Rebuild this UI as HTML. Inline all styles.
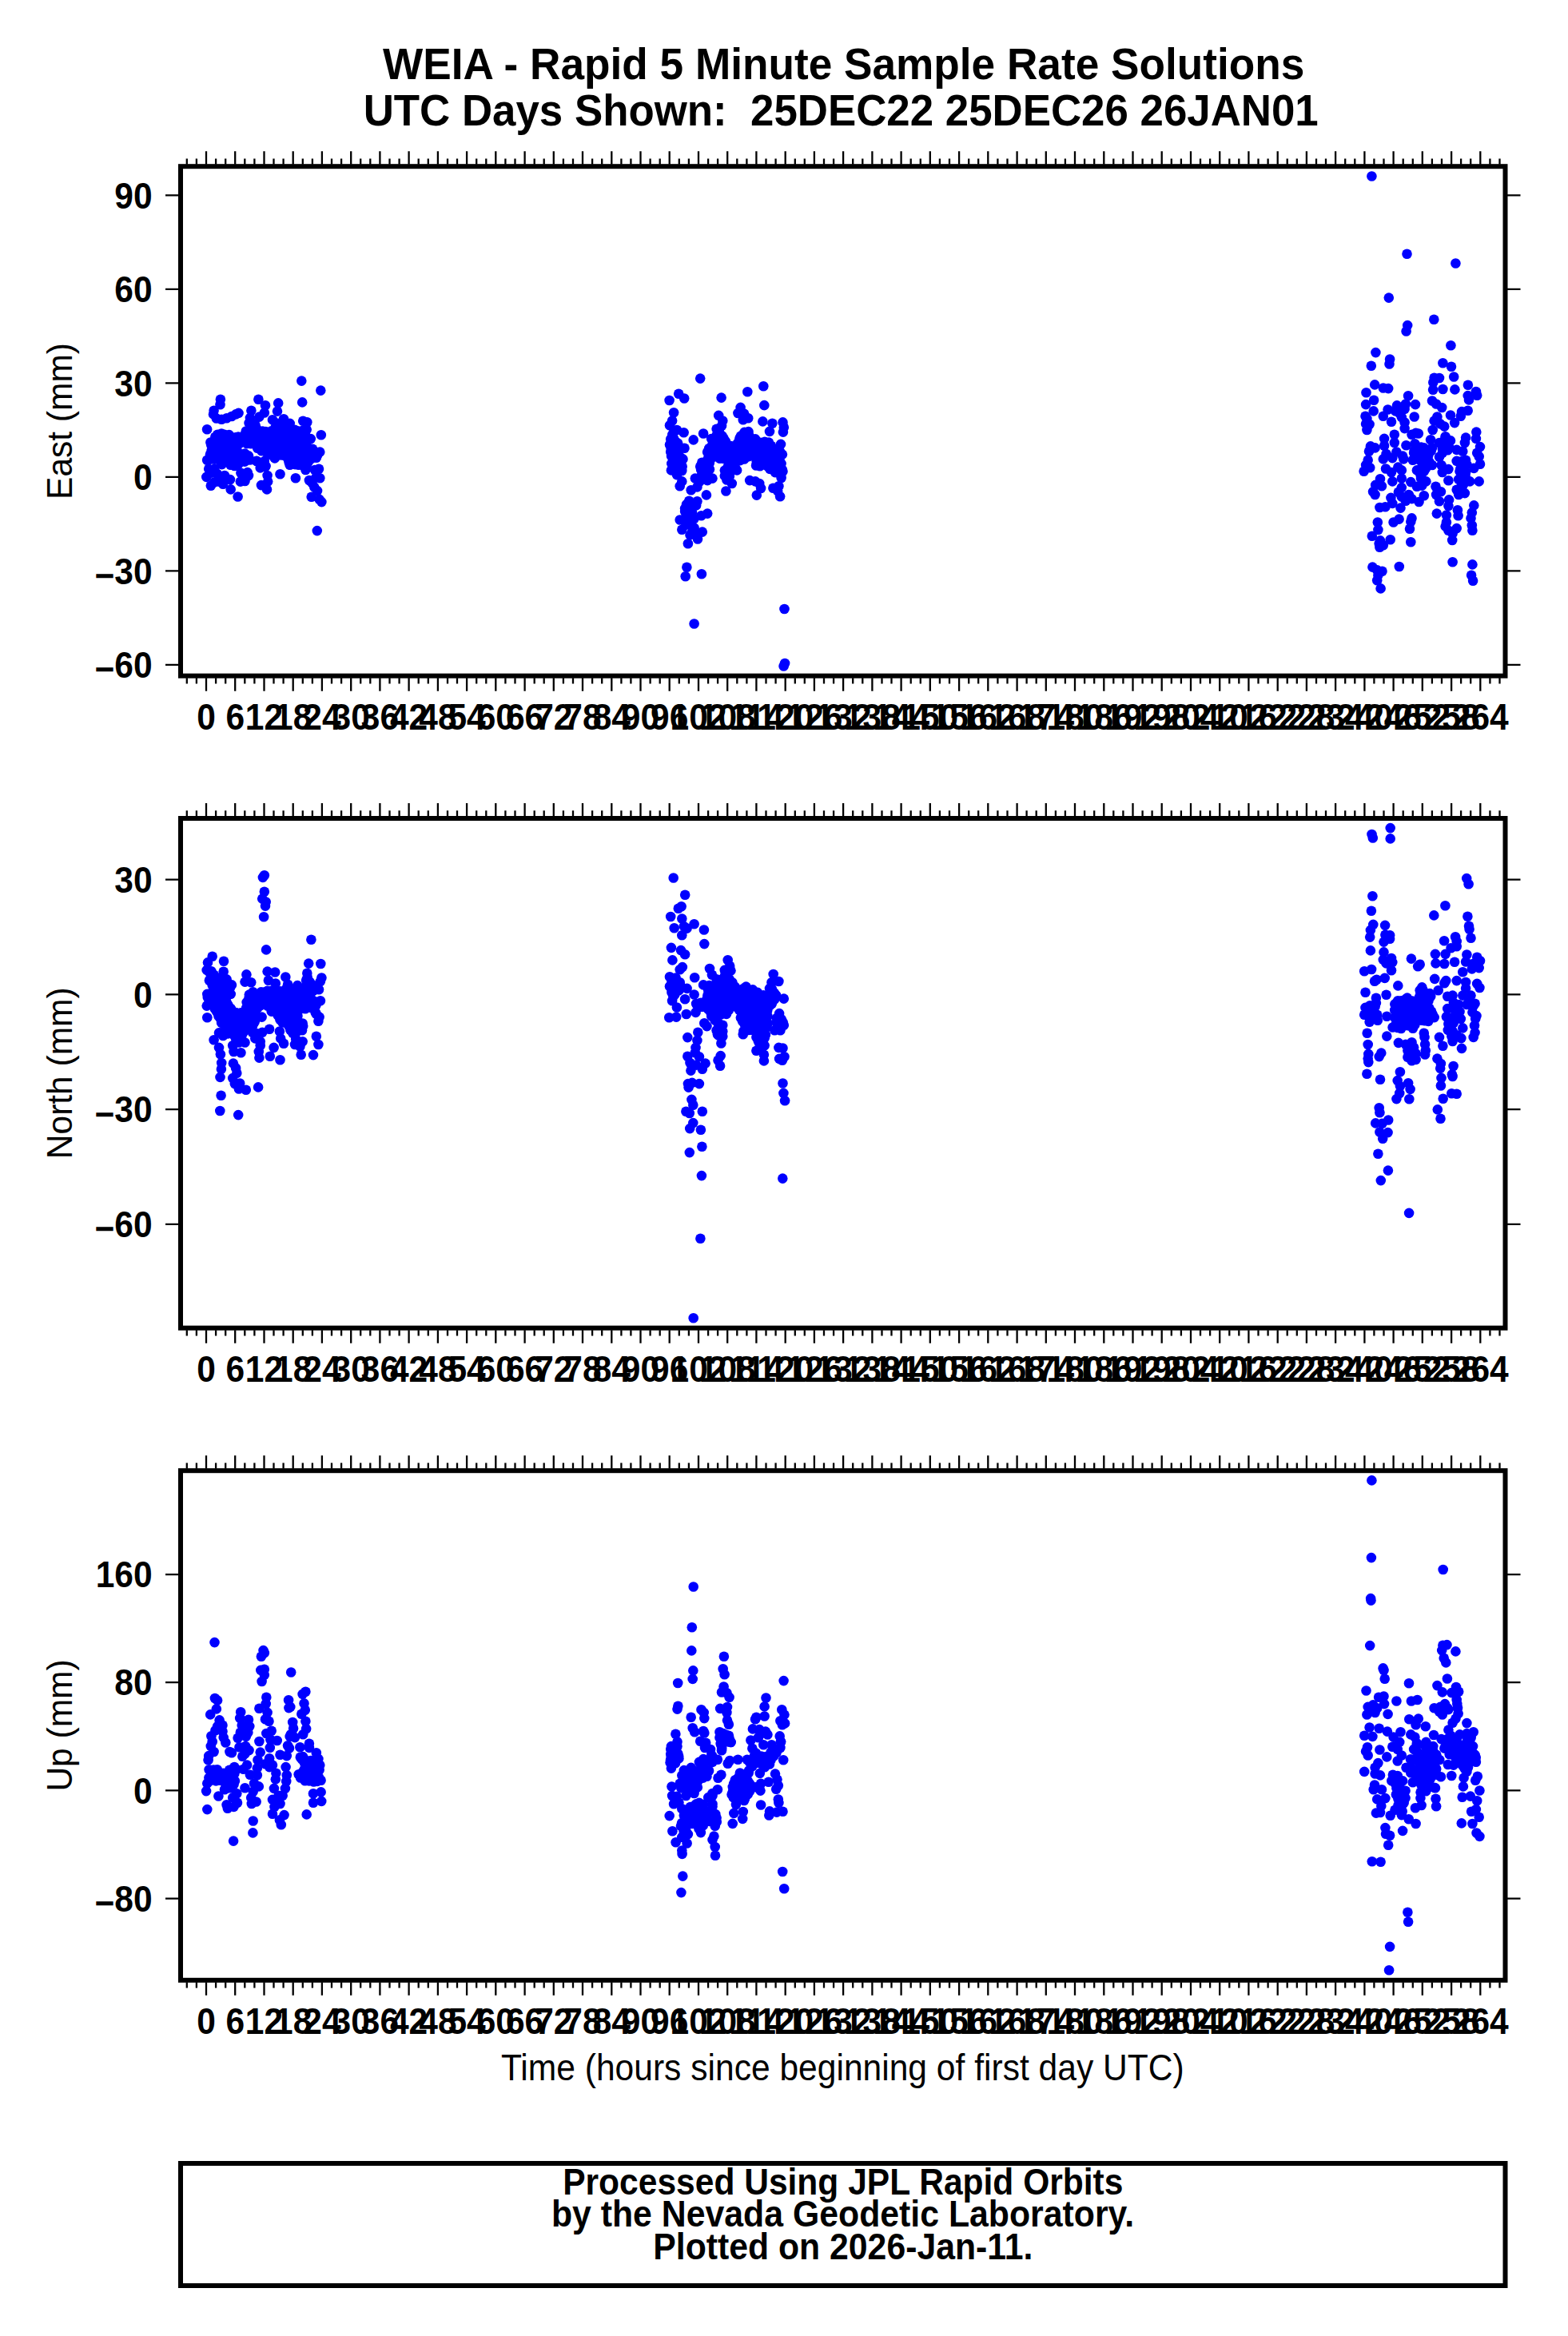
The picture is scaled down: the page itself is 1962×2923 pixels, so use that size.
<!DOCTYPE html>
<html lang="en"><head><meta charset="utf-8"><title>WEIA - Rapid 5 Minute Sample Rate Solutions</title>
<style>html,body{margin:0;padding:0;background:#fff}svg{display:block}text{white-space:pre;font-family:"Liberation Sans",sans-serif;fill:#000}.b{font-weight:bold}.a{font-weight:bold;font-size:42.5px}.l{font-size:42.5px}.t{font-weight:bold;font-size:53.0px}.f{fill:none;stroke:#000;stroke-width:6.0;stroke-linejoin:miter}.k{fill:none;stroke:#000;stroke-width:2.3}.d{fill:none;stroke:#00f;stroke-width:12.6;stroke-linecap:round;stroke-linejoin:round}</style></head><body>
<svg width="1962" height="2923" viewBox="0 0 1962 2923">
<rect width="1962" height="2923" fill="#fff"/>
<text class="t" style="font-size:53.2px" text-anchor="middle" transform="translate(1055.6 98.9) scale(1 1.06)">WEIA - Rapid 5 Minute Sample Rate Solutions</text>
<text class="t" style="font-size:52.85px" text-anchor="middle" transform="translate(1052.2 156.7) scale(1 1.06)">UTC Days Shown:  25DEC22 25DEC26 26JAN01</text>
<g fill="#00f"><circle cx="377.3" cy="476.6" r="6.3"/><circle cx="401.3" cy="488.6" r="6.3"/><circle cx="378.2" cy="503.4" r="6.3"/><circle cx="401.8" cy="544.3" r="6.3"/><circle cx="396.8" cy="664.1" r="6.3"/><circle cx="275.9" cy="499.7" r="6.3"/><circle cx="275.5" cy="506.3" r="6.3"/><circle cx="267.6" cy="513.7" r="6.3"/><circle cx="267.0" cy="518.4" r="6.3"/><circle cx="270.8" cy="523.5" r="6.3"/><circle cx="277.2" cy="524.8" r="6.3"/><circle cx="283.6" cy="523.2" r="6.3"/><circle cx="289.9" cy="521.0" r="6.3"/><circle cx="295.1" cy="518.4" r="6.3"/><circle cx="298.5" cy="516.9" r="6.3"/><circle cx="259.1" cy="537.3" r="6.3"/><circle cx="323.4" cy="499.7" r="6.3"/><circle cx="332.0" cy="507.3" r="6.3"/><circle cx="330.8" cy="516.5" r="6.3"/><circle cx="324.4" cy="521.6" r="6.3"/><circle cx="314.4" cy="513.7" r="6.3"/><circle cx="312.9" cy="522.9" r="6.3"/><circle cx="311.6" cy="529.3" r="6.3"/><circle cx="348.2" cy="504.4" r="6.3"/><circle cx="347.0" cy="514.6" r="6.3"/><circle cx="341.0" cy="525.2" r="6.3"/><circle cx="355.0" cy="524.2" r="6.3"/><circle cx="362.7" cy="529.9" r="6.3"/><circle cx="379.2" cy="526.7" r="6.3"/><circle cx="384.3" cy="528.3" r="6.3"/><circle cx="383.7" cy="537.6" r="6.3"/><circle cx="388.8" cy="549.1" r="6.3"/><circle cx="263.4" cy="553.5" r="6.3"/><circle cx="262.9" cy="568.8" r="6.3"/><circle cx="259.1" cy="575.8" r="6.3"/><circle cx="261.2" cy="586.7" r="6.3"/><circle cx="263.8" cy="591.8" r="6.3"/><circle cx="258.3" cy="596.9" r="6.3"/><circle cx="263.8" cy="607.7" r="6.3"/><circle cx="268.3" cy="603.3" r="6.3"/><circle cx="274.0" cy="602.6" r="6.3"/><circle cx="279.1" cy="605.8" r="6.3"/><circle cx="288.7" cy="612.4" r="6.3"/><circle cx="297.6" cy="621.5" r="6.3"/><circle cx="281.0" cy="595.0" r="6.3"/><circle cx="288.0" cy="600.1" r="6.3"/><circle cx="300.8" cy="602.6" r="6.3"/><circle cx="306.5" cy="602.0" r="6.3"/><circle cx="309.7" cy="591.1" r="6.3"/><circle cx="311.0" cy="595.0" r="6.3"/><circle cx="350.5" cy="593.3" r="6.3"/><circle cx="369.9" cy="598.2" r="6.3"/><circle cx="326.9" cy="607.1" r="6.3"/><circle cx="334.0" cy="612.4" r="6.3"/><circle cx="335.2" cy="602.6" r="6.3"/><circle cx="334.6" cy="595.0" r="6.3"/><circle cx="332.0" cy="584.1" r="6.3"/><circle cx="325.7" cy="585.4" r="6.3"/><circle cx="321.2" cy="577.1" r="6.3"/><circle cx="330.8" cy="577.1" r="6.3"/><circle cx="400.3" cy="565.6" r="6.3"/><circle cx="395.8" cy="572.7" r="6.3"/><circle cx="399.0" cy="586.7" r="6.3"/><circle cx="393.9" cy="588.0" r="6.3"/><circle cx="400.3" cy="598.2" r="6.3"/><circle cx="395.8" cy="596.9" r="6.3"/><circle cx="386.9" cy="601.0" r="6.3"/><circle cx="390.7" cy="604.5" r="6.3"/><circle cx="393.3" cy="609.6" r="6.3"/><circle cx="397.1" cy="614.1" r="6.3"/><circle cx="389.7" cy="621.8" r="6.3"/><circle cx="399.6" cy="624.9" r="6.3"/><circle cx="402.4" cy="628.1" r="6.3"/><circle cx="382.4" cy="588.0" r="6.3"/><circle cx="319.0" cy="530.6" r="6.3"/><circle cx="347.6" cy="529.8" r="6.3"/><circle cx="354.3" cy="529.2" r="6.3"/><circle cx="357.9" cy="529.3" r="6.3"/><circle cx="315.2" cy="534.8" r="6.3"/><circle cx="320.0" cy="533.7" r="6.3"/><circle cx="345.0" cy="534.0" r="6.3"/><circle cx="350.4" cy="535.2" r="6.3"/><circle cx="355.3" cy="534.8" r="6.3"/><circle cx="360.5" cy="535.8" r="6.3"/><circle cx="307.8" cy="539.5" r="6.3"/><circle cx="314.7" cy="538.7" r="6.3"/><circle cx="318.8" cy="539.3" r="6.3"/><circle cx="324.3" cy="539.3" r="6.3"/><circle cx="328.6" cy="539.5" r="6.3"/><circle cx="332.5" cy="540.0" r="6.3"/><circle cx="339.6" cy="539.4" r="6.3"/><circle cx="342.9" cy="539.3" r="6.3"/><circle cx="347.5" cy="538.7" r="6.3"/><circle cx="352.9" cy="539.1" r="6.3"/><circle cx="358.0" cy="538.0" r="6.3"/><circle cx="364.3" cy="538.4" r="6.3"/><circle cx="368.7" cy="537.8" r="6.3"/><circle cx="373.7" cy="539.6" r="6.3"/><circle cx="379.3" cy="538.5" r="6.3"/><circle cx="272.2" cy="543.8" r="6.3"/><circle cx="277.1" cy="542.5" r="6.3"/><circle cx="280.9" cy="543.8" r="6.3"/><circle cx="286.7" cy="544.1" r="6.3"/><circle cx="306.4" cy="543.9" r="6.3"/><circle cx="310.4" cy="543.6" r="6.3"/><circle cx="316.7" cy="542.5" r="6.3"/><circle cx="319.9" cy="542.5" r="6.3"/><circle cx="326.5" cy="544.3" r="6.3"/><circle cx="330.8" cy="542.8" r="6.3"/><circle cx="336.4" cy="542.8" r="6.3"/><circle cx="340.0" cy="542.7" r="6.3"/><circle cx="346.3" cy="543.2" r="6.3"/><circle cx="350.7" cy="543.0" r="6.3"/><circle cx="355.2" cy="543.9" r="6.3"/><circle cx="360.8" cy="543.7" r="6.3"/><circle cx="366.3" cy="544.2" r="6.3"/><circle cx="371.8" cy="542.4" r="6.3"/><circle cx="376.0" cy="542.1" r="6.3"/><circle cx="381.7" cy="542.6" r="6.3"/><circle cx="269.3" cy="546.7" r="6.3"/><circle cx="272.6" cy="548.0" r="6.3"/><circle cx="277.4" cy="547.2" r="6.3"/><circle cx="283.8" cy="548.0" r="6.3"/><circle cx="288.9" cy="548.7" r="6.3"/><circle cx="294.7" cy="547.2" r="6.3"/><circle cx="298.2" cy="546.5" r="6.3"/><circle cx="302.7" cy="547.5" r="6.3"/><circle cx="308.9" cy="547.0" r="6.3"/><circle cx="312.6" cy="548.1" r="6.3"/><circle cx="319.0" cy="547.6" r="6.3"/><circle cx="322.7" cy="546.9" r="6.3"/><circle cx="328.0" cy="548.5" r="6.3"/><circle cx="334.6" cy="546.5" r="6.3"/><circle cx="339.6" cy="548.6" r="6.3"/><circle cx="344.3" cy="547.0" r="6.3"/><circle cx="349.7" cy="548.4" r="6.3"/><circle cx="352.7" cy="546.5" r="6.3"/><circle cx="358.3" cy="547.8" r="6.3"/><circle cx="362.5" cy="548.7" r="6.3"/><circle cx="369.0" cy="547.7" r="6.3"/><circle cx="373.6" cy="546.7" r="6.3"/><circle cx="379.2" cy="548.2" r="6.3"/><circle cx="382.5" cy="548.3" r="6.3"/><circle cx="272.1" cy="551.1" r="6.3"/><circle cx="276.5" cy="552.1" r="6.3"/><circle cx="281.3" cy="553.0" r="6.3"/><circle cx="285.5" cy="552.4" r="6.3"/><circle cx="291.1" cy="551.6" r="6.3"/><circle cx="295.9" cy="551.2" r="6.3"/><circle cx="300.1" cy="553.0" r="6.3"/><circle cx="306.4" cy="551.2" r="6.3"/><circle cx="311.8" cy="551.2" r="6.3"/><circle cx="316.5" cy="552.2" r="6.3"/><circle cx="321.8" cy="551.7" r="6.3"/><circle cx="327.2" cy="552.5" r="6.3"/><circle cx="331.0" cy="551.0" r="6.3"/><circle cx="335.5" cy="551.1" r="6.3"/><circle cx="341.1" cy="552.7" r="6.3"/><circle cx="346.7" cy="552.3" r="6.3"/><circle cx="350.9" cy="551.4" r="6.3"/><circle cx="356.8" cy="552.4" r="6.3"/><circle cx="361.5" cy="552.1" r="6.3"/><circle cx="366.8" cy="552.2" r="6.3"/><circle cx="370.5" cy="551.6" r="6.3"/><circle cx="375.6" cy="551.4" r="6.3"/><circle cx="382.1" cy="552.5" r="6.3"/><circle cx="264.3" cy="557.0" r="6.3"/><circle cx="269.3" cy="555.6" r="6.3"/><circle cx="272.7" cy="556.6" r="6.3"/><circle cx="279.4" cy="555.3" r="6.3"/><circle cx="282.4" cy="557.3" r="6.3"/><circle cx="289.6" cy="555.7" r="6.3"/><circle cx="294.4" cy="555.8" r="6.3"/><circle cx="299.4" cy="555.1" r="6.3"/><circle cx="308.9" cy="555.1" r="6.3"/><circle cx="314.0" cy="555.3" r="6.3"/><circle cx="318.5" cy="555.2" r="6.3"/><circle cx="323.3" cy="555.4" r="6.3"/><circle cx="328.2" cy="556.2" r="6.3"/><circle cx="334.0" cy="556.6" r="6.3"/><circle cx="338.7" cy="557.1" r="6.3"/><circle cx="343.4" cy="555.4" r="6.3"/><circle cx="349.0" cy="555.9" r="6.3"/><circle cx="354.6" cy="556.0" r="6.3"/><circle cx="357.4" cy="555.9" r="6.3"/><circle cx="364.7" cy="556.2" r="6.3"/><circle cx="369.4" cy="556.0" r="6.3"/><circle cx="373.9" cy="555.3" r="6.3"/><circle cx="377.9" cy="555.3" r="6.3"/><circle cx="383.4" cy="555.8" r="6.3"/><circle cx="265.9" cy="560.2" r="6.3"/><circle cx="270.8" cy="560.1" r="6.3"/><circle cx="275.9" cy="559.8" r="6.3"/><circle cx="281.6" cy="561.6" r="6.3"/><circle cx="287.1" cy="560.3" r="6.3"/><circle cx="289.9" cy="561.2" r="6.3"/><circle cx="296.0" cy="560.7" r="6.3"/><circle cx="322.2" cy="560.8" r="6.3"/><circle cx="325.0" cy="560.2" r="6.3"/><circle cx="330.9" cy="561.4" r="6.3"/><circle cx="335.9" cy="560.7" r="6.3"/><circle cx="340.5" cy="560.2" r="6.3"/><circle cx="345.1" cy="561.3" r="6.3"/><circle cx="351.1" cy="561.2" r="6.3"/><circle cx="356.3" cy="559.6" r="6.3"/><circle cx="360.5" cy="560.2" r="6.3"/><circle cx="366.8" cy="560.2" r="6.3"/><circle cx="372.2" cy="561.3" r="6.3"/><circle cx="376.6" cy="560.7" r="6.3"/><circle cx="381.6" cy="560.2" r="6.3"/><circle cx="385.1" cy="561.5" r="6.3"/><circle cx="391.0" cy="561.7" r="6.3"/><circle cx="264.7" cy="564.0" r="6.3"/><circle cx="267.5" cy="564.6" r="6.3"/><circle cx="274.0" cy="564.8" r="6.3"/><circle cx="279.2" cy="566.1" r="6.3"/><circle cx="284.0" cy="565.3" r="6.3"/><circle cx="287.7" cy="565.1" r="6.3"/><circle cx="293.9" cy="564.2" r="6.3"/><circle cx="297.5" cy="565.4" r="6.3"/><circle cx="327.4" cy="564.3" r="6.3"/><circle cx="333.8" cy="564.3" r="6.3"/><circle cx="339.4" cy="565.5" r="6.3"/><circle cx="344.2" cy="566.0" r="6.3"/><circle cx="349.1" cy="566.0" r="6.3"/><circle cx="353.5" cy="564.1" r="6.3"/><circle cx="358.6" cy="566.0" r="6.3"/><circle cx="363.9" cy="564.5" r="6.3"/><circle cx="367.6" cy="564.1" r="6.3"/><circle cx="372.7" cy="565.4" r="6.3"/><circle cx="378.2" cy="564.8" r="6.3"/><circle cx="384.7" cy="564.5" r="6.3"/><circle cx="389.0" cy="564.6" r="6.3"/><circle cx="393.3" cy="564.8" r="6.3"/><circle cx="265.7" cy="569.9" r="6.3"/><circle cx="271.1" cy="569.4" r="6.3"/><circle cx="276.7" cy="569.9" r="6.3"/><circle cx="280.5" cy="569.2" r="6.3"/><circle cx="286.8" cy="570.2" r="6.3"/><circle cx="292.0" cy="570.0" r="6.3"/><circle cx="296.5" cy="568.1" r="6.3"/><circle cx="300.8" cy="569.8" r="6.3"/><circle cx="305.5" cy="568.2" r="6.3"/><circle cx="335.1" cy="568.8" r="6.3"/><circle cx="341.3" cy="570.0" r="6.3"/><circle cx="345.7" cy="570.1" r="6.3"/><circle cx="351.3" cy="569.4" r="6.3"/><circle cx="355.4" cy="569.7" r="6.3"/><circle cx="360.2" cy="569.1" r="6.3"/><circle cx="367.0" cy="570.1" r="6.3"/><circle cx="372.2" cy="568.5" r="6.3"/><circle cx="377.1" cy="569.2" r="6.3"/><circle cx="380.3" cy="570.2" r="6.3"/><circle cx="387.2" cy="570.4" r="6.3"/><circle cx="390.8" cy="568.6" r="6.3"/><circle cx="397.1" cy="569.8" r="6.3"/><circle cx="263.4" cy="574.6" r="6.3"/><circle cx="268.4" cy="574.7" r="6.3"/><circle cx="273.7" cy="573.9" r="6.3"/><circle cx="277.4" cy="573.2" r="6.3"/><circle cx="283.1" cy="572.4" r="6.3"/><circle cx="288.1" cy="573.0" r="6.3"/><circle cx="292.7" cy="573.0" r="6.3"/><circle cx="299.5" cy="572.9" r="6.3"/><circle cx="304.1" cy="574.8" r="6.3"/><circle cx="307.4" cy="574.1" r="6.3"/><circle cx="343.8" cy="573.4" r="6.3"/><circle cx="359.5" cy="572.8" r="6.3"/><circle cx="362.5" cy="572.9" r="6.3"/><circle cx="368.6" cy="574.1" r="6.3"/><circle cx="374.4" cy="574.1" r="6.3"/><circle cx="379.0" cy="573.8" r="6.3"/><circle cx="384.0" cy="573.4" r="6.3"/><circle cx="389.0" cy="574.4" r="6.3"/><circle cx="276.6" cy="578.5" r="6.3"/><circle cx="279.9" cy="577.0" r="6.3"/><circle cx="285.1" cy="578.1" r="6.3"/><circle cx="290.1" cy="577.7" r="6.3"/><circle cx="295.6" cy="577.0" r="6.3"/><circle cx="300.8" cy="577.8" r="6.3"/><circle cx="306.3" cy="577.6" r="6.3"/><circle cx="321.1" cy="576.8" r="6.3"/><circle cx="361.6" cy="578.2" r="6.3"/><circle cx="366.7" cy="576.9" r="6.3"/><circle cx="372.0" cy="576.9" r="6.3"/><circle cx="375.5" cy="577.4" r="6.3"/><circle cx="381.5" cy="577.7" r="6.3"/><circle cx="385.8" cy="577.9" r="6.3"/><circle cx="277.6" cy="581.1" r="6.3"/><circle cx="288.5" cy="581.7" r="6.3"/><circle cx="293.5" cy="583.0" r="6.3"/><circle cx="297.9" cy="581.3" r="6.3"/><circle cx="328.4" cy="583.4" r="6.3"/><circle cx="332.6" cy="583.1" r="6.3"/><circle cx="362.6" cy="581.7" r="6.3"/><circle cx="369.3" cy="581.1" r="6.3"/><circle cx="373.7" cy="581.8" r="6.3"/><circle cx="378.1" cy="581.9" r="6.3"/><circle cx="383.8" cy="581.5" r="6.3"/><circle cx="876.2" cy="473.6" r="6.3"/><circle cx="955.3" cy="483.2" r="6.3"/><circle cx="935.3" cy="490.3" r="6.3"/><circle cx="902.6" cy="497.6" r="6.3"/><circle cx="849.2" cy="492.7" r="6.3"/><circle cx="856.2" cy="498.5" r="6.3"/><circle cx="837.6" cy="501.0" r="6.3"/><circle cx="956.3" cy="507.1" r="6.3"/><circle cx="843.1" cy="516.3" r="6.3"/><circle cx="841.1" cy="526.5" r="6.3"/><circle cx="838.0" cy="532.3" r="6.3"/><circle cx="954.4" cy="527.4" r="6.3"/><circle cx="966.4" cy="529.7" r="6.3"/><circle cx="979.5" cy="528.4" r="6.3"/><circle cx="980.8" cy="534.8" r="6.3"/><circle cx="979.9" cy="540.6" r="6.3"/><circle cx="855.6" cy="541.2" r="6.3"/><circle cx="867.7" cy="550.4" r="6.3"/><circle cx="856.5" cy="560.7" r="6.3"/><circle cx="880.1" cy="542.5" r="6.3"/><circle cx="926.6" cy="509.9" r="6.3"/><circle cx="923.4" cy="517.0" r="6.3"/><circle cx="931.1" cy="517.6" r="6.3"/><circle cx="936.2" cy="523.3" r="6.3"/><circle cx="929.8" cy="525.3" r="6.3"/><circle cx="899.2" cy="519.9" r="6.3"/><circle cx="904.3" cy="526.5" r="6.3"/><circle cx="903.0" cy="532.9" r="6.3"/><circle cx="896.6" cy="536.7" r="6.3"/><circle cx="963.0" cy="539.9" r="6.3"/><circle cx="977.0" cy="555.9" r="6.3"/><circle cx="978.9" cy="568.6" r="6.3"/><circle cx="846.9" cy="538.0" r="6.3"/><circle cx="841.8" cy="543.1" r="6.3"/><circle cx="839.2" cy="549.5" r="6.3"/><circle cx="838.0" cy="556.5" r="6.3"/><circle cx="848.2" cy="554.6" r="6.3"/><circle cx="839.2" cy="565.4" r="6.3"/><circle cx="842.4" cy="572.4" r="6.3"/><circle cx="854.5" cy="574.4" r="6.3"/><circle cx="840.5" cy="580.1" r="6.3"/><circle cx="848.2" cy="583.9" r="6.3"/><circle cx="839.9" cy="588.4" r="6.3"/><circle cx="853.3" cy="589.0" r="6.3"/><circle cx="846.9" cy="594.1" r="6.3"/><circle cx="853.3" cy="602.4" r="6.3"/><circle cx="850.7" cy="608.2" r="6.3"/><circle cx="869.8" cy="598.6" r="6.3"/><circle cx="874.9" cy="603.1" r="6.3"/><circle cx="891.5" cy="598.6" r="6.3"/><circle cx="885.2" cy="601.1" r="6.3"/><circle cx="864.7" cy="613.3" r="6.3"/><circle cx="872.4" cy="609.4" r="6.3"/><circle cx="883.9" cy="619.4" r="6.3"/><circle cx="862.2" cy="626.7" r="6.3"/><circle cx="872.4" cy="627.3" r="6.3"/><circle cx="859.0" cy="631.1" r="6.3"/><circle cx="871.1" cy="632.4" r="6.3"/><circle cx="857.1" cy="640.1" r="6.3"/><circle cx="863.5" cy="641.3" r="6.3"/><circle cx="877.5" cy="645.2" r="6.3"/><circle cx="885.2" cy="642.6" r="6.3"/><circle cx="850.7" cy="650.5" r="6.3"/><circle cx="859.6" cy="650.3" r="6.3"/><circle cx="864.7" cy="656.6" r="6.3"/><circle cx="853.3" cy="662.8" r="6.3"/><circle cx="866.0" cy="665.6" r="6.3"/><circle cx="878.8" cy="665.6" r="6.3"/><circle cx="871.1" cy="669.4" r="6.3"/><circle cx="873.0" cy="674.5" r="6.3"/><circle cx="860.9" cy="680.2" r="6.3"/><circle cx="908.4" cy="614.5" r="6.3"/><circle cx="915.8" cy="605.0" r="6.3"/><circle cx="909.4" cy="600.5" r="6.3"/><circle cx="906.8" cy="595.4" r="6.3"/><circle cx="922.1" cy="588.4" r="6.3"/><circle cx="938.1" cy="601.1" r="6.3"/><circle cx="945.1" cy="602.4" r="6.3"/><circle cx="950.2" cy="605.0" r="6.3"/><circle cx="952.1" cy="611.0" r="6.3"/><circle cx="946.8" cy="619.6" r="6.3"/><circle cx="967.4" cy="610.7" r="6.3"/><circle cx="974.4" cy="608.2" r="6.3"/><circle cx="976.1" cy="621.3" r="6.3"/><circle cx="973.2" cy="614.5" r="6.3"/><circle cx="977.6" cy="598.0" r="6.3"/><circle cx="979.5" cy="589.7" r="6.3"/><circle cx="977.6" cy="580.1" r="6.3"/><circle cx="899.9" cy="539.6" r="6.3"/><circle cx="931.5" cy="540.9" r="6.3"/><circle cx="936.5" cy="540.1" r="6.3"/><circle cx="896.9" cy="544.2" r="6.3"/><circle cx="903.7" cy="545.5" r="6.3"/><circle cx="926.9" cy="545.6" r="6.3"/><circle cx="932.7" cy="544.6" r="6.3"/><circle cx="937.2" cy="544.7" r="6.3"/><circle cx="890.1" cy="549.0" r="6.3"/><circle cx="894.7" cy="547.9" r="6.3"/><circle cx="900.0" cy="550.1" r="6.3"/><circle cx="905.6" cy="548.8" r="6.3"/><circle cx="925.4" cy="548.6" r="6.3"/><circle cx="929.2" cy="548.8" r="6.3"/><circle cx="934.7" cy="548.0" r="6.3"/><circle cx="940.8" cy="549.1" r="6.3"/><circle cx="945.1" cy="549.4" r="6.3"/><circle cx="892.5" cy="552.8" r="6.3"/><circle cx="898.9" cy="553.9" r="6.3"/><circle cx="902.3" cy="554.3" r="6.3"/><circle cx="907.8" cy="552.1" r="6.3"/><circle cx="923.0" cy="554.4" r="6.3"/><circle cx="927.7" cy="552.9" r="6.3"/><circle cx="932.2" cy="552.7" r="6.3"/><circle cx="938.5" cy="553.5" r="6.3"/><circle cx="943.7" cy="553.2" r="6.3"/><circle cx="948.8" cy="554.2" r="6.3"/><circle cx="951.9" cy="553.7" r="6.3"/><circle cx="956.9" cy="552.9" r="6.3"/><circle cx="962.0" cy="553.6" r="6.3"/><circle cx="891.3" cy="556.9" r="6.3"/><circle cx="894.5" cy="557.0" r="6.3"/><circle cx="901.3" cy="557.5" r="6.3"/><circle cx="906.5" cy="557.6" r="6.3"/><circle cx="909.5" cy="558.2" r="6.3"/><circle cx="914.5" cy="558.1" r="6.3"/><circle cx="921.6" cy="558.2" r="6.3"/><circle cx="926.1" cy="557.4" r="6.3"/><circle cx="929.3" cy="557.0" r="6.3"/><circle cx="936.2" cy="558.3" r="6.3"/><circle cx="940.6" cy="556.9" r="6.3"/><circle cx="945.3" cy="558.4" r="6.3"/><circle cx="949.4" cy="558.6" r="6.3"/><circle cx="954.4" cy="558.1" r="6.3"/><circle cx="959.2" cy="558.5" r="6.3"/><circle cx="964.9" cy="557.7" r="6.3"/><circle cx="887.3" cy="561.0" r="6.3"/><circle cx="892.0" cy="561.6" r="6.3"/><circle cx="896.8" cy="562.0" r="6.3"/><circle cx="901.8" cy="562.0" r="6.3"/><circle cx="907.4" cy="560.8" r="6.3"/><circle cx="911.7" cy="562.1" r="6.3"/><circle cx="918.4" cy="561.2" r="6.3"/><circle cx="923.1" cy="560.9" r="6.3"/><circle cx="927.8" cy="562.7" r="6.3"/><circle cx="932.1" cy="561.9" r="6.3"/><circle cx="938.9" cy="561.4" r="6.3"/><circle cx="943.6" cy="560.9" r="6.3"/><circle cx="947.3" cy="562.6" r="6.3"/><circle cx="953.8" cy="561.4" r="6.3"/><circle cx="957.7" cy="561.5" r="6.3"/><circle cx="962.1" cy="561.5" r="6.3"/><circle cx="968.7" cy="562.1" r="6.3"/><circle cx="885.1" cy="565.8" r="6.3"/><circle cx="891.5" cy="567.1" r="6.3"/><circle cx="896.1" cy="566.3" r="6.3"/><circle cx="900.3" cy="566.8" r="6.3"/><circle cx="906.3" cy="566.8" r="6.3"/><circle cx="911.5" cy="566.5" r="6.3"/><circle cx="916.2" cy="566.5" r="6.3"/><circle cx="920.5" cy="567.0" r="6.3"/><circle cx="925.3" cy="567.1" r="6.3"/><circle cx="929.8" cy="567.4" r="6.3"/><circle cx="935.9" cy="565.5" r="6.3"/><circle cx="940.8" cy="565.8" r="6.3"/><circle cx="944.4" cy="565.4" r="6.3"/><circle cx="950.2" cy="567.3" r="6.3"/><circle cx="954.8" cy="566.4" r="6.3"/><circle cx="960.2" cy="565.5" r="6.3"/><circle cx="965.9" cy="565.8" r="6.3"/><circle cx="969.3" cy="567.1" r="6.3"/><circle cx="976.0" cy="565.2" r="6.3"/><circle cx="888.5" cy="570.2" r="6.3"/><circle cx="891.9" cy="570.9" r="6.3"/><circle cx="897.7" cy="571.5" r="6.3"/><circle cx="902.0" cy="571.4" r="6.3"/><circle cx="908.7" cy="569.9" r="6.3"/><circle cx="912.3" cy="570.9" r="6.3"/><circle cx="917.4" cy="570.6" r="6.3"/><circle cx="923.0" cy="570.3" r="6.3"/><circle cx="927.0" cy="570.1" r="6.3"/><circle cx="933.6" cy="571.3" r="6.3"/><circle cx="936.9" cy="571.1" r="6.3"/><circle cx="943.8" cy="570.9" r="6.3"/><circle cx="949.0" cy="570.8" r="6.3"/><circle cx="952.8" cy="570.4" r="6.3"/><circle cx="958.1" cy="571.0" r="6.3"/><circle cx="964.1" cy="569.8" r="6.3"/><circle cx="967.5" cy="571.5" r="6.3"/><circle cx="973.3" cy="570.1" r="6.3"/><circle cx="885.5" cy="574.6" r="6.3"/><circle cx="889.4" cy="574.4" r="6.3"/><circle cx="900.9" cy="573.8" r="6.3"/><circle cx="906.2" cy="574.0" r="6.3"/><circle cx="910.1" cy="574.7" r="6.3"/><circle cx="914.3" cy="574.0" r="6.3"/><circle cx="921.0" cy="575.4" r="6.3"/><circle cx="926.1" cy="576.1" r="6.3"/><circle cx="931.3" cy="574.5" r="6.3"/><circle cx="946.4" cy="575.2" r="6.3"/><circle cx="951.1" cy="574.4" r="6.3"/><circle cx="956.2" cy="574.5" r="6.3"/><circle cx="959.9" cy="575.1" r="6.3"/><circle cx="965.7" cy="574.9" r="6.3"/><circle cx="971.2" cy="575.5" r="6.3"/><circle cx="975.4" cy="575.9" r="6.3"/><circle cx="878.3" cy="578.8" r="6.3"/><circle cx="883.6" cy="579.7" r="6.3"/><circle cx="887.8" cy="579.3" r="6.3"/><circle cx="913.5" cy="579.9" r="6.3"/><circle cx="916.9" cy="579.7" r="6.3"/><circle cx="946.9" cy="579.2" r="6.3"/><circle cx="952.4" cy="578.3" r="6.3"/><circle cx="958.7" cy="579.6" r="6.3"/><circle cx="962.5" cy="579.3" r="6.3"/><circle cx="967.8" cy="578.2" r="6.3"/><circle cx="972.5" cy="578.1" r="6.3"/><circle cx="976.9" cy="580.1" r="6.3"/><circle cx="876.2" cy="583.8" r="6.3"/><circle cx="880.2" cy="584.3" r="6.3"/><circle cx="886.4" cy="583.8" r="6.3"/><circle cx="910.9" cy="583.8" r="6.3"/><circle cx="916.6" cy="583.7" r="6.3"/><circle cx="919.6" cy="584.3" r="6.3"/><circle cx="946.1" cy="582.5" r="6.3"/><circle cx="950.9" cy="583.2" r="6.3"/><circle cx="959.9" cy="583.1" r="6.3"/><circle cx="966.4" cy="584.3" r="6.3"/><circle cx="971.2" cy="584.2" r="6.3"/><circle cx="976.5" cy="584.2" r="6.3"/><circle cx="877.1" cy="587.8" r="6.3"/><circle cx="883.0" cy="588.5" r="6.3"/><circle cx="887.9" cy="587.3" r="6.3"/><circle cx="906.8" cy="588.6" r="6.3"/><circle cx="913.3" cy="588.4" r="6.3"/><circle cx="916.8" cy="587.9" r="6.3"/><circle cx="963.3" cy="586.9" r="6.3"/><circle cx="966.8" cy="587.2" r="6.3"/><circle cx="973.5" cy="587.3" r="6.3"/><circle cx="978.5" cy="587.1" r="6.3"/><circle cx="881.4" cy="591.5" r="6.3"/><circle cx="885.1" cy="592.9" r="6.3"/><circle cx="910.4" cy="592.1" r="6.3"/><circle cx="969.9" cy="591.1" r="6.3"/><circle cx="975.2" cy="592.4" r="6.3"/><circle cx="877.2" cy="595.9" r="6.3"/><circle cx="882.7" cy="596.9" r="6.3"/><circle cx="912.9" cy="596.1" r="6.3"/><circle cx="874.7" cy="601.5" r="6.3"/><circle cx="880.1" cy="599.9" r="6.3"/><circle cx="843.3" cy="540.1" r="6.3"/><circle cx="841.3" cy="544.3" r="6.3"/><circle cx="843.5" cy="549.8" r="6.3"/><circle cx="840.9" cy="554.2" r="6.3"/><circle cx="845.4" cy="553.0" r="6.3"/><circle cx="843.2" cy="558.5" r="6.3"/><circle cx="839.7" cy="561.4" r="6.3"/><circle cx="845.7" cy="561.7" r="6.3"/><circle cx="843.4" cy="567.2" r="6.3"/><circle cx="847.1" cy="566.3" r="6.3"/><circle cx="840.1" cy="570.9" r="6.3"/><circle cx="845.7" cy="571.5" r="6.3"/><circle cx="849.8" cy="570.1" r="6.3"/><circle cx="843.7" cy="574.4" r="6.3"/><circle cx="848.9" cy="575.2" r="6.3"/><circle cx="853.5" cy="574.2" r="6.3"/><circle cx="840.4" cy="580.1" r="6.3"/><circle cx="846.6" cy="580.0" r="6.3"/><circle cx="850.4" cy="578.3" r="6.3"/><circle cx="842.9" cy="582.9" r="6.3"/><circle cx="848.8" cy="584.5" r="6.3"/><circle cx="853.7" cy="583.7" r="6.3"/><circle cx="845.5" cy="587.2" r="6.3"/><circle cx="849.6" cy="587.8" r="6.3"/><circle cx="848.4" cy="591.7" r="6.3"/><circle cx="859.4" cy="709.7" r="6.3"/><circle cx="857.7" cy="721.2" r="6.3"/><circle cx="877.9" cy="718.3" r="6.3"/><circle cx="868.6" cy="780.5" r="6.3"/><circle cx="981.5" cy="762.0" r="6.3"/><circle cx="982.1" cy="830.0" r="6.3"/><circle cx="980.6" cy="833.5" r="6.3"/><circle cx="1716.4" cy="220.5" r="6.3"/><circle cx="1760.5" cy="317.8" r="6.3"/><circle cx="1821.4" cy="329.5" r="6.3"/><circle cx="1737.8" cy="372.6" r="6.3"/><circle cx="1794.3" cy="399.8" r="6.3"/><circle cx="1761.2" cy="407.1" r="6.3"/><circle cx="1759.6" cy="414.5" r="6.3"/><circle cx="1815.4" cy="432.2" r="6.3"/><circle cx="1721.4" cy="441.1" r="6.3"/><circle cx="1739.1" cy="449.5" r="6.3"/><circle cx="1738.5" cy="455.5" r="6.3"/><circle cx="1715.8" cy="457.8" r="6.3"/><circle cx="1805.4" cy="454.3" r="6.3"/><circle cx="1816.0" cy="458.7" r="6.3"/><circle cx="1819.2" cy="471.5" r="6.3"/><circle cx="1794.6" cy="472.8" r="6.3"/><circle cx="1801.0" cy="473.0" r="6.3"/><circle cx="1793.3" cy="478.5" r="6.3"/><circle cx="1720.2" cy="481.4" r="6.3"/><circle cx="1730.8" cy="485.5" r="6.3"/><circle cx="1737.2" cy="486.1" r="6.3"/><circle cx="1836.9" cy="481.7" r="6.3"/><circle cx="1793.1" cy="487.7" r="6.3"/><circle cx="1805.4" cy="487.0" r="6.3"/><circle cx="1820.4" cy="487.4" r="6.3"/><circle cx="1846.9" cy="490.0" r="6.3"/><circle cx="1709.5" cy="491.2" r="6.3"/><circle cx="1836.7" cy="495.1" r="6.3"/><circle cx="1848.2" cy="494.7" r="6.3"/><circle cx="1762.1" cy="495.3" r="6.3"/><circle cx="1719.1" cy="500.8" r="6.3"/><circle cx="1792.0" cy="501.5" r="6.3"/><circle cx="1709.1" cy="506.1" r="6.3"/><circle cx="1838.0" cy="500.4" r="6.3"/><circle cx="1797.1" cy="505.5" r="6.3"/><circle cx="1804.2" cy="510.0" r="6.3"/><circle cx="1771.0" cy="506.1" r="6.3"/><circle cx="1748.0" cy="507.4" r="6.3"/><circle cx="1736.6" cy="512.5" r="6.3"/><circle cx="1718.7" cy="514.4" r="6.3"/><circle cx="1758.9" cy="505.5" r="6.3"/><circle cx="1829.0" cy="515.1" r="6.3"/><circle cx="1836.7" cy="513.8" r="6.3"/><circle cx="1827.8" cy="520.8" r="6.3"/><circle cx="1815.0" cy="519.5" r="6.3"/><circle cx="1708.5" cy="520.8" r="6.3"/><circle cx="1730.8" cy="520.8" r="6.3"/><circle cx="1769.7" cy="521.5" r="6.3"/><circle cx="1798.4" cy="521.5" r="6.3"/><circle cx="1710.4" cy="524.0" r="6.3"/><circle cx="1741.0" cy="527.8" r="6.3"/><circle cx="1794.6" cy="526.6" r="6.3"/><circle cx="1820.1" cy="529.1" r="6.3"/><circle cx="1709.1" cy="530.4" r="6.3"/><circle cx="1713.6" cy="531.0" r="6.3"/><circle cx="1802.2" cy="530.4" r="6.3"/><circle cx="1807.3" cy="533.6" r="6.3"/><circle cx="1757.6" cy="528.5" r="6.3"/><circle cx="1757.6" cy="536.1" r="6.3"/><circle cx="1792.7" cy="538.0" r="6.3"/><circle cx="1710.4" cy="538.0" r="6.3"/><circle cx="1751.2" cy="517.0" r="6.3"/><circle cx="1753.8" cy="522.1" r="6.3"/><circle cx="1746.1" cy="514.4" r="6.3"/><circle cx="1757.6" cy="511.9" r="6.3"/><circle cx="1847.3" cy="540.6" r="6.3"/><circle cx="1744.8" cy="543.8" r="6.3"/><circle cx="1771.6" cy="541.9" r="6.3"/><circle cx="1766.5" cy="543.8" r="6.3"/><circle cx="1774.8" cy="542.5" r="6.3"/><circle cx="1808.6" cy="546.3" r="6.3"/><circle cx="1732.1" cy="548.9" r="6.3"/><circle cx="1790.1" cy="550.2" r="6.3"/><circle cx="1815.0" cy="551.4" r="6.3"/><circle cx="1834.1" cy="547.6" r="6.3"/><circle cx="1846.9" cy="548.9" r="6.3"/><circle cx="1744.8" cy="554.0" r="6.3"/><circle cx="1759.5" cy="557.2" r="6.3"/><circle cx="1770.4" cy="555.3" r="6.3"/><circle cx="1801.0" cy="554.0" r="6.3"/><circle cx="1832.9" cy="554.0" r="6.3"/><circle cx="1714.9" cy="558.4" r="6.3"/><circle cx="1720.6" cy="560.4" r="6.3"/><circle cx="1852.0" cy="559.1" r="6.3"/><circle cx="1732.1" cy="557.8" r="6.3"/><circle cx="1781.8" cy="560.4" r="6.3"/><circle cx="1804.8" cy="561.6" r="6.3"/><circle cx="1713.0" cy="564.8" r="6.3"/><circle cx="1822.7" cy="562.9" r="6.3"/><circle cx="1830.3" cy="564.8" r="6.3"/><circle cx="1848.2" cy="566.7" r="6.3"/><circle cx="1734.6" cy="568.0" r="6.3"/><circle cx="1747.4" cy="565.5" r="6.3"/><circle cx="1769.1" cy="566.7" r="6.3"/><circle cx="1785.7" cy="566.7" r="6.3"/><circle cx="1804.8" cy="566.7" r="6.3"/><circle cx="1755.1" cy="570.6" r="6.3"/><circle cx="1850.7" cy="571.2" r="6.3"/><circle cx="1711.7" cy="575.7" r="6.3"/><circle cx="1730.8" cy="574.4" r="6.3"/><circle cx="1742.3" cy="573.1" r="6.3"/><circle cx="1756.3" cy="574.4" r="6.3"/><circle cx="1767.8" cy="575.7" r="6.3"/><circle cx="1779.3" cy="574.4" r="6.3"/><circle cx="1801.0" cy="571.8" r="6.3"/><circle cx="1822.7" cy="576.9" r="6.3"/><circle cx="1834.1" cy="575.7" r="6.3"/><circle cx="1852.0" cy="580.8" r="6.3"/><circle cx="1709.1" cy="582.0" r="6.3"/><circle cx="1714.2" cy="585.2" r="6.3"/><circle cx="1781.8" cy="582.0" r="6.3"/><circle cx="1792.0" cy="582.0" r="6.3"/><circle cx="1803.5" cy="582.0" r="6.3"/><circle cx="1830.3" cy="583.3" r="6.3"/><circle cx="1844.3" cy="585.9" r="6.3"/><circle cx="1706.6" cy="589.7" r="6.3"/><circle cx="1734.0" cy="586.5" r="6.3"/><circle cx="1749.3" cy="584.6" r="6.3"/><circle cx="1753.8" cy="588.4" r="6.3"/><circle cx="1772.9" cy="588.4" r="6.3"/><circle cx="1781.8" cy="589.7" r="6.3"/><circle cx="1812.4" cy="587.1" r="6.3"/><circle cx="1826.5" cy="589.7" r="6.3"/><circle cx="1834.1" cy="591.0" r="6.3"/><circle cx="1741.0" cy="591.0" r="6.3"/><circle cx="1804.8" cy="591.0" r="6.3"/><circle cx="1727.0" cy="599.3" r="6.3"/><circle cx="1753.8" cy="598.6" r="6.3"/><circle cx="1742.3" cy="602.4" r="6.3"/><circle cx="1765.3" cy="603.1" r="6.3"/><circle cx="1778.0" cy="598.6" r="6.3"/><circle cx="1784.4" cy="602.4" r="6.3"/><circle cx="1812.4" cy="601.2" r="6.3"/><circle cx="1825.2" cy="599.9" r="6.3"/><circle cx="1839.2" cy="602.4" r="6.3"/><circle cx="1850.7" cy="602.4" r="6.3"/><circle cx="1721.2" cy="606.9" r="6.3"/><circle cx="1728.9" cy="608.2" r="6.3"/><circle cx="1772.9" cy="608.8" r="6.3"/><circle cx="1779.3" cy="607.6" r="6.3"/><circle cx="1796.5" cy="608.8" r="6.3"/><circle cx="1822.7" cy="612.7" r="6.3"/><circle cx="1830.3" cy="607.6" r="6.3"/><circle cx="1718.1" cy="615.2" r="6.3"/><circle cx="1720.6" cy="619.0" r="6.3"/><circle cx="1753.8" cy="610.1" r="6.3"/><circle cx="1749.9" cy="615.8" r="6.3"/><circle cx="1762.7" cy="619.0" r="6.3"/><circle cx="1781.8" cy="620.3" r="6.3"/><circle cx="1802.9" cy="615.2" r="6.3"/><circle cx="1797.1" cy="619.0" r="6.3"/><circle cx="1825.2" cy="619.0" r="6.3"/><circle cx="1832.9" cy="617.1" r="6.3"/><circle cx="1740.4" cy="622.9" r="6.3"/><circle cx="1753.8" cy="621.6" r="6.3"/><circle cx="1758.9" cy="626.7" r="6.3"/><circle cx="1766.5" cy="624.1" r="6.3"/><circle cx="1775.5" cy="628.0" r="6.3"/><circle cx="1801.0" cy="627.3" r="6.3"/><circle cx="1813.1" cy="625.4" r="6.3"/><circle cx="1812.4" cy="633.1" r="6.3"/><circle cx="1844.3" cy="632.4" r="6.3"/><circle cx="1742.3" cy="629.9" r="6.3"/><circle cx="1726.4" cy="635.0" r="6.3"/><circle cx="1733.4" cy="634.3" r="6.3"/><circle cx="1752.5" cy="635.6" r="6.3"/><circle cx="1823.9" cy="638.2" r="6.3"/><circle cx="1797.8" cy="642.6" r="6.3"/><circle cx="1841.8" cy="641.4" r="6.3"/><circle cx="1809.9" cy="644.5" r="6.3"/><circle cx="1824.6" cy="645.2" r="6.3"/><circle cx="1840.5" cy="648.4" r="6.3"/><circle cx="1723.8" cy="653.5" r="6.3"/><circle cx="1743.6" cy="653.5" r="6.3"/><circle cx="1750.6" cy="649.6" r="6.3"/><circle cx="1766.5" cy="648.4" r="6.3"/><circle cx="1765.3" cy="652.8" r="6.3"/><circle cx="1809.9" cy="653.5" r="6.3"/><circle cx="1841.8" cy="657.3" r="6.3"/><circle cx="1764.0" cy="661.8" r="6.3"/><circle cx="1724.4" cy="663.0" r="6.3"/><circle cx="1808.6" cy="658.6" r="6.3"/><circle cx="1822.7" cy="661.1" r="6.3"/><circle cx="1842.4" cy="663.7" r="6.3"/><circle cx="1812.4" cy="663.7" r="6.3"/><circle cx="1817.6" cy="667.5" r="6.3"/><circle cx="1716.8" cy="670.7" r="6.3"/><circle cx="1739.7" cy="675.2" r="6.3"/><circle cx="1727.0" cy="676.4" r="6.3"/><circle cx="1817.2" cy="676.0" r="6.3"/><circle cx="1765.3" cy="678.3" r="6.3"/><circle cx="1725.7" cy="680.3" r="6.3"/><circle cx="1730.8" cy="682.2" r="6.3"/><circle cx="1726.4" cy="684.7" r="6.3"/><circle cx="1717.4" cy="709.6" r="6.3"/><circle cx="1723.2" cy="713.4" r="6.3"/><circle cx="1729.5" cy="714.7" r="6.3"/><circle cx="1750.8" cy="709.0" r="6.3"/><circle cx="1817.6" cy="703.2" r="6.3"/><circle cx="1842.4" cy="706.4" r="6.3"/><circle cx="1724.4" cy="719.8" r="6.3"/><circle cx="1841.1" cy="719.8" r="6.3"/><circle cx="1723.2" cy="726.2" r="6.3"/><circle cx="1843.1" cy="726.8" r="6.3"/><circle cx="1727.6" cy="736.4" r="6.3"/><circle cx="1772.6" cy="561.0" r="6.3"/><circle cx="1778.3" cy="559.5" r="6.3"/><circle cx="1791.9" cy="560.5" r="6.3"/><circle cx="1769.6" cy="563.7" r="6.3"/><circle cx="1776.2" cy="564.0" r="6.3"/><circle cx="1780.9" cy="563.4" r="6.3"/><circle cx="1785.2" cy="564.8" r="6.3"/><circle cx="1790.7" cy="564.3" r="6.3"/><circle cx="1772.5" cy="567.9" r="6.3"/><circle cx="1777.7" cy="567.7" r="6.3"/><circle cx="1781.7" cy="568.6" r="6.3"/><circle cx="1787.3" cy="569.5" r="6.3"/><circle cx="1771.3" cy="572.4" r="6.3"/><circle cx="1775.2" cy="572.1" r="6.3"/><circle cx="1780.8" cy="573.2" r="6.3"/><circle cx="1786.3" cy="572.2" r="6.3"/><circle cx="1777.1" cy="576.4" r="6.3"/><circle cx="1781.9" cy="577.6" r="6.3"/><circle cx="1788.4" cy="577.9" r="6.3"/><circle cx="1780.6" cy="582.1" r="6.3"/><circle cx="1785.2" cy="581.0" r="6.3"/><circle cx="1778.8" cy="585.5" r="6.3"/><circle cx="1783.9" cy="586.3" r="6.3"/><circle cx="1776.4" cy="591.1" r="6.3"/><circle cx="1781.3" cy="589.7" r="6.3"/><circle cx="1777.8" cy="595.5" r="6.3"/><circle cx="1828.7" cy="577.4" r="6.3"/><circle cx="1833.3" cy="578.6" r="6.3"/><circle cx="1831.0" cy="581.8" r="6.3"/><circle cx="1835.4" cy="581.1" r="6.3"/><circle cx="1827.4" cy="586.4" r="6.3"/><circle cx="1831.7" cy="587.1" r="6.3"/><circle cx="1830.9" cy="591.6" r="6.3"/><circle cx="1828.5" cy="594.2" r="6.3"/><circle cx="1833.5" cy="595.3" r="6.3"/><circle cx="1830.5" cy="599.0" r="6.3"/><circle cx="1834.7" cy="599.9" r="6.3"/><circle cx="1832.6" cy="603.7" r="6.3"/><circle cx="1828.9" cy="607.4" r="6.3"/><circle cx="1827.1" cy="611.9" r="6.3"/><circle cx="1808.4" cy="548.9" r="6.3"/><circle cx="1806.5" cy="555.3" r="6.3"/><circle cx="1810.7" cy="554.8" r="6.3"/><circle cx="1809.1" cy="558.9" r="6.3"/><circle cx="1813.3" cy="559.6" r="6.3"/><circle cx="1805.4" cy="563.2" r="6.3"/><circle cx="1811.5" cy="563.3" r="6.3"/><circle cx="311.0" cy="570.4" r="6.3"/><circle cx="312.7" cy="575.5" r="6.3"/><circle cx="306.5" cy="567.6" r="6.3"/><circle cx="268.3" cy="586.7" r="6.3"/><circle cx="272.1" cy="593.1" r="6.3"/><circle cx="301.4" cy="591.8" r="6.3"/><circle cx="866.0" cy="634.9" r="6.3"/><circle cx="860.9" cy="646.4" r="6.3"/><circle cx="868.6" cy="649.0" r="6.3"/><circle cx="858.4" cy="656.6" r="6.3"/><circle cx="868.6" cy="660.5" r="6.3"/><circle cx="863.5" cy="669.4" r="6.3"/><circle cx="857.1" cy="636.2" r="6.3"/><circle cx="866.0" cy="641.3" r="6.3"/><circle cx="857.1" cy="649.0" r="6.3"/></g>
<path class="k" d="M233.8 205.7v-7.3M233.8 848.2v7.3M245.9 205.7v-7.3M245.9 848.2v7.3M258.0 205.7v-16.5M258.0 848.2v16.5M270.1 205.7v-7.3M270.1 848.2v7.3M282.2 205.7v-7.3M282.2 848.2v7.3M294.2 205.7v-16.5M294.2 848.2v16.5M306.3 205.7v-7.3M306.3 848.2v7.3M318.4 205.7v-7.3M318.4 848.2v7.3M330.5 205.7v-16.5M330.5 848.2v16.5M342.5 205.7v-7.3M342.5 848.2v7.3M354.6 205.7v-7.3M354.6 848.2v7.3M366.7 205.7v-16.5M366.7 848.2v16.5M378.8 205.7v-7.3M378.8 848.2v7.3M390.9 205.7v-7.3M390.9 848.2v7.3M402.9 205.7v-16.5M402.9 848.2v16.5M415.0 205.7v-7.3M415.0 848.2v7.3M427.1 205.7v-7.3M427.1 848.2v7.3M439.2 205.7v-16.5M439.2 848.2v16.5M451.2 205.7v-7.3M451.2 848.2v7.3M463.3 205.7v-7.3M463.3 848.2v7.3M475.4 205.7v-16.5M475.4 848.2v16.5M487.5 205.7v-7.3M487.5 848.2v7.3M499.6 205.7v-7.3M499.6 848.2v7.3M511.6 205.7v-16.5M511.6 848.2v16.5M523.7 205.7v-7.3M523.7 848.2v7.3M535.8 205.7v-7.3M535.8 848.2v7.3M547.9 205.7v-16.5M547.9 848.2v16.5M560.0 205.7v-7.3M560.0 848.2v7.3M572.0 205.7v-7.3M572.0 848.2v7.3M584.1 205.7v-16.5M584.1 848.2v16.5M596.2 205.7v-7.3M596.2 848.2v7.3M608.3 205.7v-7.3M608.3 848.2v7.3M620.3 205.7v-16.5M620.3 848.2v16.5M632.4 205.7v-7.3M632.4 848.2v7.3M644.5 205.7v-7.3M644.5 848.2v7.3M656.6 205.7v-16.5M656.6 848.2v16.5M668.7 205.7v-7.3M668.7 848.2v7.3M680.7 205.7v-7.3M680.7 848.2v7.3M692.8 205.7v-16.5M692.8 848.2v16.5M704.9 205.7v-7.3M704.9 848.2v7.3M717.0 205.7v-7.3M717.0 848.2v7.3M729.0 205.7v-16.5M729.0 848.2v16.5M741.1 205.7v-7.3M741.1 848.2v7.3M753.2 205.7v-7.3M753.2 848.2v7.3M765.3 205.7v-16.5M765.3 848.2v16.5M777.4 205.7v-7.3M777.4 848.2v7.3M789.4 205.7v-7.3M789.4 848.2v7.3M801.5 205.7v-16.5M801.5 848.2v16.5M813.6 205.7v-7.3M813.6 848.2v7.3M825.7 205.7v-7.3M825.7 848.2v7.3M837.7 205.7v-16.5M837.7 848.2v16.5M849.8 205.7v-7.3M849.8 848.2v7.3M861.9 205.7v-7.3M861.9 848.2v7.3M874.0 205.7v-16.5M874.0 848.2v16.5M886.1 205.7v-7.3M886.1 848.2v7.3M898.1 205.7v-7.3M898.1 848.2v7.3M910.2 205.7v-16.5M910.2 848.2v16.5M922.3 205.7v-7.3M922.3 848.2v7.3M934.4 205.7v-7.3M934.4 848.2v7.3M946.4 205.7v-16.5M946.4 848.2v16.5M958.5 205.7v-7.3M958.5 848.2v7.3M970.6 205.7v-7.3M970.6 848.2v7.3M982.7 205.7v-16.5M982.7 848.2v16.5M994.8 205.7v-7.3M994.8 848.2v7.3M1006.8 205.7v-7.3M1006.8 848.2v7.3M1018.9 205.7v-16.5M1018.9 848.2v16.5M1031.0 205.7v-7.3M1031.0 848.2v7.3M1043.1 205.7v-7.3M1043.1 848.2v7.3M1055.1 205.7v-16.5M1055.1 848.2v16.5M1067.2 205.7v-7.3M1067.2 848.2v7.3M1079.3 205.7v-7.3M1079.3 848.2v7.3M1091.4 205.7v-16.5M1091.4 848.2v16.5M1103.5 205.7v-7.3M1103.5 848.2v7.3M1115.5 205.7v-7.3M1115.5 848.2v7.3M1127.6 205.7v-16.5M1127.6 848.2v16.5M1139.7 205.7v-7.3M1139.7 848.2v7.3M1151.8 205.7v-7.3M1151.8 848.2v7.3M1163.8 205.7v-16.5M1163.8 848.2v16.5M1175.9 205.7v-7.3M1175.9 848.2v7.3M1188.0 205.7v-7.3M1188.0 848.2v7.3M1200.1 205.7v-16.5M1200.1 848.2v16.5M1212.2 205.7v-7.3M1212.2 848.2v7.3M1224.2 205.7v-7.3M1224.2 848.2v7.3M1236.3 205.7v-16.5M1236.3 848.2v16.5M1248.4 205.7v-7.3M1248.4 848.2v7.3M1260.5 205.7v-7.3M1260.5 848.2v7.3M1272.6 205.7v-16.5M1272.6 848.2v16.5M1284.6 205.7v-7.3M1284.6 848.2v7.3M1296.7 205.7v-7.3M1296.7 848.2v7.3M1308.8 205.7v-16.5M1308.8 848.2v16.5M1320.9 205.7v-7.3M1320.9 848.2v7.3M1332.9 205.7v-7.3M1332.9 848.2v7.3M1345.0 205.7v-16.5M1345.0 848.2v16.5M1357.1 205.7v-7.3M1357.1 848.2v7.3M1369.2 205.7v-7.3M1369.2 848.2v7.3M1381.3 205.7v-16.5M1381.3 848.2v16.5M1393.3 205.7v-7.3M1393.3 848.2v7.3M1405.4 205.7v-7.3M1405.4 848.2v7.3M1417.5 205.7v-16.5M1417.5 848.2v16.5M1429.6 205.7v-7.3M1429.6 848.2v7.3M1441.6 205.7v-7.3M1441.6 848.2v7.3M1453.7 205.7v-16.5M1453.7 848.2v16.5M1465.8 205.7v-7.3M1465.8 848.2v7.3M1477.9 205.7v-7.3M1477.9 848.2v7.3M1490.0 205.7v-16.5M1490.0 848.2v16.5M1502.0 205.7v-7.3M1502.0 848.2v7.3M1514.1 205.7v-7.3M1514.1 848.2v7.3M1526.2 205.7v-16.5M1526.2 848.2v16.5M1538.3 205.7v-7.3M1538.3 848.2v7.3M1550.3 205.7v-7.3M1550.3 848.2v7.3M1562.4 205.7v-16.5M1562.4 848.2v16.5M1574.5 205.7v-7.3M1574.5 848.2v7.3M1586.6 205.7v-7.3M1586.6 848.2v7.3M1598.7 205.7v-16.5M1598.7 848.2v16.5M1610.7 205.7v-7.3M1610.7 848.2v7.3M1622.8 205.7v-7.3M1622.8 848.2v7.3M1634.9 205.7v-16.5M1634.9 848.2v16.5M1647.0 205.7v-7.3M1647.0 848.2v7.3M1659.0 205.7v-7.3M1659.0 848.2v7.3M1671.1 205.7v-16.5M1671.1 848.2v16.5M1683.2 205.7v-7.3M1683.2 848.2v7.3M1695.3 205.7v-7.3M1695.3 848.2v7.3M1707.4 205.7v-16.5M1707.4 848.2v16.5M1719.4 205.7v-7.3M1719.4 848.2v7.3M1731.5 205.7v-7.3M1731.5 848.2v7.3M1743.6 205.7v-16.5M1743.6 848.2v16.5M1755.7 205.7v-7.3M1755.7 848.2v7.3M1767.8 205.7v-7.3M1767.8 848.2v7.3M1779.8 205.7v-16.5M1779.8 848.2v16.5M1791.9 205.7v-7.3M1791.9 848.2v7.3M1804.0 205.7v-7.3M1804.0 848.2v7.3M1816.1 205.7v-16.5M1816.1 848.2v16.5M1828.1 205.7v-7.3M1828.1 848.2v7.3M1840.2 205.7v-7.3M1840.2 848.2v7.3M1852.3 205.7v-16.5M1852.3 848.2v16.5M1864.4 205.7v-7.3M1864.4 848.2v7.3M1876.5 205.7v-7.3M1876.5 848.2v7.3M223.5 244.4h-16.5M1886.0 244.4h16.5M223.5 361.8h-16.5M1886.0 361.8h16.5M223.5 479.3h-16.5M1886.0 479.3h16.5M223.5 596.8h-16.5M1886.0 596.8h16.5M223.5 714.3h-16.5M1886.0 714.3h16.5M223.5 831.8h-16.5M1886.0 831.8h16.5"/>
<rect class="f" x="226.0" y="208.2" width="1657.5" height="637.5"/>
<text class="a" text-anchor="end" transform="translate(190.6 260.6) scale(1 1.07)">90</text>
<text class="a" text-anchor="end" transform="translate(190.6 378.0) scale(1 1.07)">60</text>
<text class="a" text-anchor="end" transform="translate(190.6 495.5) scale(1 1.07)">30</text>
<text class="a" text-anchor="end" transform="translate(190.6 613.0) scale(1 1.07)">0</text>
<text class="a" text-anchor="end" transform="translate(190.6 730.5) scale(1 1.07)"><tspan dy="5.0">−</tspan><tspan dy="-5.0">30</tspan></text>
<text class="a" text-anchor="end" transform="translate(190.6 848.0) scale(1 1.07)"><tspan dy="5.0">−</tspan><tspan dy="-5.0">60</tspan></text>
<text class="a" text-anchor="middle" transform="translate(258.0 912.6) scale(1 1.07)">0</text>
<text class="a" text-anchor="middle" transform="translate(294.2 912.6) scale(1 1.07)">6</text>
<text class="a" text-anchor="middle" transform="translate(330.5 912.6) scale(1 1.07)">12</text>
<text class="a" text-anchor="middle" transform="translate(366.7 912.6) scale(1 1.07)">18</text>
<text class="a" text-anchor="middle" transform="translate(402.9 912.6) scale(1 1.07)">24</text>
<text class="a" text-anchor="middle" transform="translate(439.2 912.6) scale(1 1.07)">30</text>
<text class="a" text-anchor="middle" transform="translate(475.4 912.6) scale(1 1.07)">36</text>
<text class="a" text-anchor="middle" transform="translate(511.6 912.6) scale(1 1.07)">42</text>
<text class="a" text-anchor="middle" transform="translate(547.9 912.6) scale(1 1.07)">48</text>
<text class="a" text-anchor="middle" transform="translate(584.1 912.6) scale(1 1.07)">54</text>
<text class="a" text-anchor="middle" transform="translate(620.3 912.6) scale(1 1.07)">60</text>
<text class="a" text-anchor="middle" transform="translate(656.6 912.6) scale(1 1.07)">66</text>
<text class="a" text-anchor="middle" transform="translate(692.8 912.6) scale(1 1.07)">72</text>
<text class="a" text-anchor="middle" transform="translate(729.0 912.6) scale(1 1.07)">78</text>
<text class="a" text-anchor="middle" transform="translate(765.3 912.6) scale(1 1.07)">84</text>
<text class="a" text-anchor="middle" transform="translate(801.5 912.6) scale(1 1.07)">90</text>
<text class="a" text-anchor="middle" transform="translate(837.7 912.6) scale(1 1.07)">96</text>
<text class="a" text-anchor="middle" transform="translate(874.0 912.6) scale(1 1.07)">102</text>
<text class="a" text-anchor="middle" transform="translate(910.2 912.6) scale(1 1.07)">108</text>
<text class="a" text-anchor="middle" transform="translate(946.4 912.6) scale(1 1.07)">114</text>
<text class="a" text-anchor="middle" transform="translate(982.7 912.6) scale(1 1.07)">120</text>
<text class="a" text-anchor="middle" transform="translate(1018.9 912.6) scale(1 1.07)">126</text>
<text class="a" text-anchor="middle" transform="translate(1055.1 912.6) scale(1 1.07)">132</text>
<text class="a" text-anchor="middle" transform="translate(1091.4 912.6) scale(1 1.07)">138</text>
<text class="a" text-anchor="middle" transform="translate(1127.6 912.6) scale(1 1.07)">144</text>
<text class="a" text-anchor="middle" transform="translate(1163.8 912.6) scale(1 1.07)">150</text>
<text class="a" text-anchor="middle" transform="translate(1200.1 912.6) scale(1 1.07)">156</text>
<text class="a" text-anchor="middle" transform="translate(1236.3 912.6) scale(1 1.07)">162</text>
<text class="a" text-anchor="middle" transform="translate(1272.6 912.6) scale(1 1.07)">168</text>
<text class="a" text-anchor="middle" transform="translate(1308.8 912.6) scale(1 1.07)">174</text>
<text class="a" text-anchor="middle" transform="translate(1345.0 912.6) scale(1 1.07)">180</text>
<text class="a" text-anchor="middle" transform="translate(1381.3 912.6) scale(1 1.07)">186</text>
<text class="a" text-anchor="middle" transform="translate(1417.5 912.6) scale(1 1.07)">192</text>
<text class="a" text-anchor="middle" transform="translate(1453.7 912.6) scale(1 1.07)">198</text>
<text class="a" text-anchor="middle" transform="translate(1490.0 912.6) scale(1 1.07)">204</text>
<text class="a" text-anchor="middle" transform="translate(1526.2 912.6) scale(1 1.07)">210</text>
<text class="a" text-anchor="middle" transform="translate(1562.4 912.6) scale(1 1.07)">216</text>
<text class="a" text-anchor="middle" transform="translate(1598.7 912.6) scale(1 1.07)">222</text>
<text class="a" text-anchor="middle" transform="translate(1634.9 912.6) scale(1 1.07)">228</text>
<text class="a" text-anchor="middle" transform="translate(1671.1 912.6) scale(1 1.07)">234</text>
<text class="a" text-anchor="middle" transform="translate(1707.4 912.6) scale(1 1.07)">240</text>
<text class="a" text-anchor="middle" transform="translate(1743.6 912.6) scale(1 1.07)">246</text>
<text class="a" text-anchor="middle" transform="translate(1779.8 912.6) scale(1 1.07)">252</text>
<text class="a" text-anchor="middle" transform="translate(1816.1 912.6) scale(1 1.07)">258</text>
<text class="a" text-anchor="middle" transform="translate(1852.3 912.6) scale(1 1.07)">264</text>
<text class="l" text-anchor="middle" transform="translate(90.1 527.0) rotate(-90) scale(1 1.06)">East (mm)</text>
<g fill="#00f"><circle cx="330.8" cy="1095.3" r="6.3"/><circle cx="328.9" cy="1097.9" r="6.3"/><circle cx="330.8" cy="1115.7" r="6.3"/><circle cx="328.2" cy="1124.6" r="6.3"/><circle cx="332.7" cy="1128.5" r="6.3"/><circle cx="332.0" cy="1133.6" r="6.3"/><circle cx="330.1" cy="1147.2" r="6.3"/><circle cx="333.1" cy="1188.4" r="6.3"/><circle cx="389.4" cy="1175.7" r="6.3"/><circle cx="265.7" cy="1196.7" r="6.3"/><circle cx="260.0" cy="1204.4" r="6.3"/><circle cx="280.0" cy="1202.7" r="6.3"/><circle cx="258.7" cy="1213.9" r="6.3"/><circle cx="279.7" cy="1215.8" r="6.3"/><circle cx="264.4" cy="1215.2" r="6.3"/><circle cx="386.2" cy="1205.6" r="6.3"/><circle cx="401.3" cy="1206.0" r="6.3"/><circle cx="402.4" cy="1223.5" r="6.3"/><circle cx="400.9" cy="1228.0" r="6.3"/><circle cx="399.0" cy="1238.2" r="6.3"/><circle cx="400.9" cy="1252.2" r="6.3"/><circle cx="308.4" cy="1219.4" r="6.3"/><circle cx="306.5" cy="1228.6" r="6.3"/><circle cx="314.2" cy="1229.2" r="6.3"/><circle cx="334.6" cy="1215.6" r="6.3"/><circle cx="344.2" cy="1216.5" r="6.3"/><circle cx="335.9" cy="1226.7" r="6.3"/><circle cx="344.8" cy="1230.5" r="6.3"/><circle cx="357.3" cy="1222.5" r="6.3"/><circle cx="360.1" cy="1231.8" r="6.3"/><circle cx="372.2" cy="1233.1" r="6.3"/><circle cx="384.3" cy="1217.8" r="6.3"/><circle cx="383.1" cy="1226.7" r="6.3"/><circle cx="261.9" cy="1226.7" r="6.3"/><circle cx="259.3" cy="1243.9" r="6.3"/><circle cx="258.7" cy="1258.6" r="6.3"/><circle cx="259.3" cy="1273.2" r="6.3"/><circle cx="289.9" cy="1232.4" r="6.3"/><circle cx="288.7" cy="1243.9" r="6.3"/><circle cx="283.6" cy="1225.4" r="6.3"/><circle cx="399.6" cy="1272.6" r="6.3"/><circle cx="398.4" cy="1277.7" r="6.3"/><circle cx="395.8" cy="1268.8" r="6.3"/><circle cx="395.8" cy="1296.8" r="6.3"/><circle cx="398.4" cy="1307.0" r="6.3"/><circle cx="392.0" cy="1320.1" r="6.3"/><circle cx="337.1" cy="1287.7" r="6.3"/><circle cx="342.6" cy="1310.9" r="6.3"/><circle cx="337.8" cy="1321.7" r="6.3"/><circle cx="350.5" cy="1326.2" r="6.3"/><circle cx="274.0" cy="1292.4" r="6.3"/><circle cx="267.6" cy="1301.3" r="6.3"/><circle cx="274.0" cy="1310.9" r="6.3"/><circle cx="275.9" cy="1319.2" r="6.3"/><circle cx="277.2" cy="1330.0" r="6.3"/><circle cx="276.9" cy="1337.7" r="6.3"/><circle cx="275.5" cy="1347.9" r="6.3"/><circle cx="276.6" cy="1370.8" r="6.3"/><circle cx="291.9" cy="1330.6" r="6.3"/><circle cx="295.1" cy="1336.4" r="6.3"/><circle cx="296.3" cy="1342.8" r="6.3"/><circle cx="291.2" cy="1349.1" r="6.3"/><circle cx="293.8" cy="1356.1" r="6.3"/><circle cx="300.2" cy="1355.5" r="6.3"/><circle cx="298.9" cy="1362.5" r="6.3"/><circle cx="307.8" cy="1363.8" r="6.3"/><circle cx="323.1" cy="1360.4" r="6.3"/><circle cx="324.4" cy="1323.6" r="6.3"/><circle cx="323.8" cy="1316.0" r="6.3"/><circle cx="325.7" cy="1308.3" r="6.3"/><circle cx="325.7" cy="1303.2" r="6.3"/><circle cx="319.3" cy="1299.4" r="6.3"/><circle cx="298.9" cy="1304.5" r="6.3"/><circle cx="291.2" cy="1308.3" r="6.3"/><circle cx="292.5" cy="1316.0" r="6.3"/><circle cx="301.4" cy="1317.2" r="6.3"/><circle cx="306.5" cy="1304.5" r="6.3"/><circle cx="349.9" cy="1290.5" r="6.3"/><circle cx="351.2" cy="1299.4" r="6.3"/><circle cx="355.0" cy="1305.8" r="6.3"/><circle cx="376.7" cy="1319.8" r="6.3"/><circle cx="375.4" cy="1309.6" r="6.3"/><circle cx="378.6" cy="1303.2" r="6.3"/><circle cx="369.0" cy="1307.0" r="6.3"/><circle cx="379.2" cy="1284.1" r="6.3"/><circle cx="378.0" cy="1289.2" r="6.3"/><circle cx="327.6" cy="1272.6" r="6.3"/><circle cx="328.2" cy="1291.7" r="6.3"/><circle cx="262.9" cy="1218.1" r="6.3"/><circle cx="267.6" cy="1219.7" r="6.3"/><circle cx="264.7" cy="1222.3" r="6.3"/><circle cx="270.2" cy="1222.9" r="6.3"/><circle cx="276.0" cy="1223.6" r="6.3"/><circle cx="384.7" cy="1222.7" r="6.3"/><circle cx="263.5" cy="1227.6" r="6.3"/><circle cx="267.3" cy="1227.3" r="6.3"/><circle cx="273.9" cy="1228.1" r="6.3"/><circle cx="278.5" cy="1228.3" r="6.3"/><circle cx="387.5" cy="1228.5" r="6.3"/><circle cx="265.7" cy="1232.7" r="6.3"/><circle cx="270.8" cy="1232.3" r="6.3"/><circle cx="275.5" cy="1230.8" r="6.3"/><circle cx="280.7" cy="1232.7" r="6.3"/><circle cx="286.1" cy="1232.8" r="6.3"/><circle cx="384.3" cy="1230.9" r="6.3"/><circle cx="390.3" cy="1232.0" r="6.3"/><circle cx="268.3" cy="1235.4" r="6.3"/><circle cx="273.0" cy="1235.0" r="6.3"/><circle cx="278.3" cy="1236.3" r="6.3"/><circle cx="283.3" cy="1235.0" r="6.3"/><circle cx="288.1" cy="1235.8" r="6.3"/><circle cx="358.3" cy="1236.9" r="6.3"/><circle cx="373.0" cy="1237.1" r="6.3"/><circle cx="377.4" cy="1236.8" r="6.3"/><circle cx="382.4" cy="1235.5" r="6.3"/><circle cx="386.9" cy="1235.8" r="6.3"/><circle cx="393.7" cy="1235.9" r="6.3"/><circle cx="266.1" cy="1240.7" r="6.3"/><circle cx="269.8" cy="1239.6" r="6.3"/><circle cx="275.9" cy="1240.6" r="6.3"/><circle cx="280.1" cy="1241.1" r="6.3"/><circle cx="285.6" cy="1241.4" r="6.3"/><circle cx="316.6" cy="1241.3" r="6.3"/><circle cx="326.7" cy="1241.4" r="6.3"/><circle cx="330.8" cy="1241.5" r="6.3"/><circle cx="334.6" cy="1239.9" r="6.3"/><circle cx="340.2" cy="1239.6" r="6.3"/><circle cx="344.7" cy="1241.3" r="6.3"/><circle cx="350.5" cy="1240.2" r="6.3"/><circle cx="355.2" cy="1240.9" r="6.3"/><circle cx="360.9" cy="1240.2" r="6.3"/><circle cx="364.5" cy="1240.0" r="6.3"/><circle cx="370.0" cy="1239.6" r="6.3"/><circle cx="375.7" cy="1241.5" r="6.3"/><circle cx="380.6" cy="1239.3" r="6.3"/><circle cx="384.6" cy="1241.5" r="6.3"/><circle cx="391.6" cy="1240.1" r="6.3"/><circle cx="262.6" cy="1245.3" r="6.3"/><circle cx="267.3" cy="1245.5" r="6.3"/><circle cx="273.2" cy="1245.1" r="6.3"/><circle cx="278.9" cy="1245.7" r="6.3"/><circle cx="282.5" cy="1243.9" r="6.3"/><circle cx="311.8" cy="1244.6" r="6.3"/><circle cx="318.4" cy="1244.1" r="6.3"/><circle cx="322.1" cy="1244.7" r="6.3"/><circle cx="327.3" cy="1244.9" r="6.3"/><circle cx="332.8" cy="1244.2" r="6.3"/><circle cx="338.7" cy="1244.2" r="6.3"/><circle cx="343.1" cy="1243.6" r="6.3"/><circle cx="348.8" cy="1244.0" r="6.3"/><circle cx="353.3" cy="1245.9" r="6.3"/><circle cx="357.3" cy="1245.2" r="6.3"/><circle cx="361.9" cy="1245.8" r="6.3"/><circle cx="368.3" cy="1245.2" r="6.3"/><circle cx="371.9" cy="1244.5" r="6.3"/><circle cx="378.2" cy="1244.2" r="6.3"/><circle cx="383.6" cy="1244.9" r="6.3"/><circle cx="387.3" cy="1245.6" r="6.3"/><circle cx="259.8" cy="1248.1" r="6.3"/><circle cx="265.9" cy="1249.6" r="6.3"/><circle cx="271.0" cy="1249.4" r="6.3"/><circle cx="275.1" cy="1249.1" r="6.3"/><circle cx="280.3" cy="1248.2" r="6.3"/><circle cx="311.6" cy="1248.5" r="6.3"/><circle cx="314.9" cy="1249.9" r="6.3"/><circle cx="320.1" cy="1248.3" r="6.3"/><circle cx="325.0" cy="1250.1" r="6.3"/><circle cx="330.6" cy="1249.0" r="6.3"/><circle cx="335.6" cy="1248.1" r="6.3"/><circle cx="340.6" cy="1249.6" r="6.3"/><circle cx="344.3" cy="1248.3" r="6.3"/><circle cx="351.5" cy="1249.1" r="6.3"/><circle cx="354.9" cy="1249.3" r="6.3"/><circle cx="360.2" cy="1248.0" r="6.3"/><circle cx="366.5" cy="1248.7" r="6.3"/><circle cx="370.4" cy="1248.7" r="6.3"/><circle cx="376.2" cy="1248.7" r="6.3"/><circle cx="380.1" cy="1249.0" r="6.3"/><circle cx="386.6" cy="1250.0" r="6.3"/><circle cx="389.4" cy="1250.1" r="6.3"/><circle cx="263.0" cy="1252.3" r="6.3"/><circle cx="267.2" cy="1252.5" r="6.3"/><circle cx="272.3" cy="1253.9" r="6.3"/><circle cx="278.1" cy="1253.4" r="6.3"/><circle cx="283.1" cy="1252.6" r="6.3"/><circle cx="308.6" cy="1254.1" r="6.3"/><circle cx="313.3" cy="1252.4" r="6.3"/><circle cx="317.6" cy="1254.6" r="6.3"/><circle cx="322.9" cy="1253.9" r="6.3"/><circle cx="329.1" cy="1253.9" r="6.3"/><circle cx="332.2" cy="1254.4" r="6.3"/><circle cx="338.5" cy="1252.8" r="6.3"/><circle cx="341.9" cy="1253.0" r="6.3"/><circle cx="347.8" cy="1252.8" r="6.3"/><circle cx="352.7" cy="1253.3" r="6.3"/><circle cx="357.3" cy="1254.3" r="6.3"/><circle cx="363.3" cy="1254.5" r="6.3"/><circle cx="368.2" cy="1252.7" r="6.3"/><circle cx="371.9" cy="1252.9" r="6.3"/><circle cx="378.1" cy="1254.3" r="6.3"/><circle cx="383.7" cy="1254.4" r="6.3"/><circle cx="388.6" cy="1253.4" r="6.3"/><circle cx="392.6" cy="1252.6" r="6.3"/><circle cx="396.8" cy="1254.1" r="6.3"/><circle cx="260.4" cy="1257.1" r="6.3"/><circle cx="266.3" cy="1256.7" r="6.3"/><circle cx="270.4" cy="1257.6" r="6.3"/><circle cx="275.9" cy="1257.0" r="6.3"/><circle cx="280.7" cy="1257.1" r="6.3"/><circle cx="285.2" cy="1257.1" r="6.3"/><circle cx="311.1" cy="1258.3" r="6.3"/><circle cx="314.3" cy="1257.5" r="6.3"/><circle cx="321.3" cy="1258.2" r="6.3"/><circle cx="326.1" cy="1258.0" r="6.3"/><circle cx="334.6" cy="1258.6" r="6.3"/><circle cx="341.3" cy="1257.7" r="6.3"/><circle cx="345.7" cy="1258.3" r="6.3"/><circle cx="349.3" cy="1256.9" r="6.3"/><circle cx="356.2" cy="1257.2" r="6.3"/><circle cx="360.2" cy="1258.4" r="6.3"/><circle cx="365.9" cy="1256.7" r="6.3"/><circle cx="370.2" cy="1257.1" r="6.3"/><circle cx="375.3" cy="1257.5" r="6.3"/><circle cx="380.1" cy="1258.4" r="6.3"/><circle cx="385.4" cy="1258.0" r="6.3"/><circle cx="389.8" cy="1257.3" r="6.3"/><circle cx="395.4" cy="1258.0" r="6.3"/><circle cx="268.9" cy="1262.4" r="6.3"/><circle cx="273.0" cy="1263.0" r="6.3"/><circle cx="278.4" cy="1262.3" r="6.3"/><circle cx="281.9" cy="1262.1" r="6.3"/><circle cx="288.8" cy="1261.9" r="6.3"/><circle cx="308.2" cy="1261.1" r="6.3"/><circle cx="312.0" cy="1262.4" r="6.3"/><circle cx="318.0" cy="1261.1" r="6.3"/><circle cx="322.7" cy="1260.9" r="6.3"/><circle cx="343.0" cy="1262.2" r="6.3"/><circle cx="348.8" cy="1262.2" r="6.3"/><circle cx="353.1" cy="1262.6" r="6.3"/><circle cx="357.3" cy="1262.6" r="6.3"/><circle cx="364.0" cy="1262.3" r="6.3"/><circle cx="368.9" cy="1261.6" r="6.3"/><circle cx="372.5" cy="1262.2" r="6.3"/><circle cx="376.9" cy="1262.1" r="6.3"/><circle cx="382.0" cy="1262.3" r="6.3"/><circle cx="389.0" cy="1260.9" r="6.3"/><circle cx="392.6" cy="1260.9" r="6.3"/><circle cx="271.1" cy="1265.9" r="6.3"/><circle cx="275.4" cy="1265.4" r="6.3"/><circle cx="280.0" cy="1266.4" r="6.3"/><circle cx="286.2" cy="1267.4" r="6.3"/><circle cx="291.0" cy="1265.9" r="6.3"/><circle cx="295.2" cy="1267.0" r="6.3"/><circle cx="301.4" cy="1267.4" r="6.3"/><circle cx="305.2" cy="1266.0" r="6.3"/><circle cx="311.0" cy="1266.4" r="6.3"/><circle cx="316.3" cy="1266.2" r="6.3"/><circle cx="319.6" cy="1266.1" r="6.3"/><circle cx="339.7" cy="1265.6" r="6.3"/><circle cx="346.3" cy="1267.4" r="6.3"/><circle cx="351.5" cy="1266.5" r="6.3"/><circle cx="354.4" cy="1265.3" r="6.3"/><circle cx="359.8" cy="1267.5" r="6.3"/><circle cx="365.1" cy="1267.5" r="6.3"/><circle cx="370.2" cy="1265.3" r="6.3"/><circle cx="394.6" cy="1266.7" r="6.3"/><circle cx="273.5" cy="1271.6" r="6.3"/><circle cx="277.6" cy="1271.4" r="6.3"/><circle cx="283.0" cy="1271.5" r="6.3"/><circle cx="287.4" cy="1269.8" r="6.3"/><circle cx="293.3" cy="1271.7" r="6.3"/><circle cx="297.5" cy="1270.9" r="6.3"/><circle cx="303.2" cy="1269.7" r="6.3"/><circle cx="308.2" cy="1271.4" r="6.3"/><circle cx="312.5" cy="1269.5" r="6.3"/><circle cx="317.6" cy="1270.5" r="6.3"/><circle cx="347.7" cy="1270.5" r="6.3"/><circle cx="354.0" cy="1269.9" r="6.3"/><circle cx="358.3" cy="1270.7" r="6.3"/><circle cx="363.0" cy="1271.1" r="6.3"/><circle cx="368.1" cy="1271.1" r="6.3"/><circle cx="372.4" cy="1271.3" r="6.3"/><circle cx="275.8" cy="1274.2" r="6.3"/><circle cx="280.0" cy="1275.6" r="6.3"/><circle cx="285.5" cy="1275.5" r="6.3"/><circle cx="290.5" cy="1275.8" r="6.3"/><circle cx="295.7" cy="1275.2" r="6.3"/><circle cx="301.3" cy="1275.9" r="6.3"/><circle cx="305.8" cy="1276.2" r="6.3"/><circle cx="310.8" cy="1275.9" r="6.3"/><circle cx="315.5" cy="1275.8" r="6.3"/><circle cx="320.1" cy="1274.9" r="6.3"/><circle cx="350.4" cy="1275.8" r="6.3"/><circle cx="356.4" cy="1275.4" r="6.3"/><circle cx="359.4" cy="1274.8" r="6.3"/><circle cx="365.9" cy="1275.9" r="6.3"/><circle cx="369.6" cy="1275.9" r="6.3"/><circle cx="277.1" cy="1279.9" r="6.3"/><circle cx="282.9" cy="1280.5" r="6.3"/><circle cx="287.8" cy="1279.1" r="6.3"/><circle cx="292.5" cy="1278.7" r="6.3"/><circle cx="298.3" cy="1278.6" r="6.3"/><circle cx="302.5" cy="1279.4" r="6.3"/><circle cx="308.8" cy="1278.7" r="6.3"/><circle cx="312.1" cy="1280.4" r="6.3"/><circle cx="318.5" cy="1279.1" r="6.3"/><circle cx="353.5" cy="1279.5" r="6.3"/><circle cx="357.2" cy="1279.2" r="6.3"/><circle cx="362.7" cy="1279.3" r="6.3"/><circle cx="368.6" cy="1280.2" r="6.3"/><circle cx="373.7" cy="1279.4" r="6.3"/><circle cx="378.6" cy="1280.5" r="6.3"/><circle cx="285.7" cy="1282.8" r="6.3"/><circle cx="289.3" cy="1283.8" r="6.3"/><circle cx="295.6" cy="1284.4" r="6.3"/><circle cx="300.7" cy="1282.6" r="6.3"/><circle cx="305.9" cy="1283.3" r="6.3"/><circle cx="311.0" cy="1284.1" r="6.3"/><circle cx="316.2" cy="1283.2" r="6.3"/><circle cx="361.4" cy="1283.8" r="6.3"/><circle cx="365.6" cy="1282.6" r="6.3"/><circle cx="370.4" cy="1283.6" r="6.3"/><circle cx="374.4" cy="1283.5" r="6.3"/><circle cx="282.6" cy="1287.6" r="6.3"/><circle cx="288.4" cy="1288.2" r="6.3"/><circle cx="291.9" cy="1287.2" r="6.3"/><circle cx="298.4" cy="1286.9" r="6.3"/><circle cx="302.9" cy="1287.1" r="6.3"/><circle cx="308.4" cy="1287.6" r="6.3"/><circle cx="313.2" cy="1287.7" r="6.3"/><circle cx="363.3" cy="1288.7" r="6.3"/><circle cx="368.1" cy="1288.7" r="6.3"/><circle cx="373.4" cy="1288.1" r="6.3"/><circle cx="276.0" cy="1292.3" r="6.3"/><circle cx="279.8" cy="1292.7" r="6.3"/><circle cx="284.6" cy="1293.5" r="6.3"/><circle cx="290.5" cy="1292.1" r="6.3"/><circle cx="295.4" cy="1293.5" r="6.3"/><circle cx="299.5" cy="1292.9" r="6.3"/><circle cx="304.6" cy="1291.8" r="6.3"/><circle cx="315.8" cy="1291.8" r="6.3"/><circle cx="320.5" cy="1293.1" r="6.3"/><circle cx="366.4" cy="1292.7" r="6.3"/><circle cx="370.3" cy="1292.2" r="6.3"/><circle cx="279.1" cy="1296.0" r="6.3"/><circle cx="293.6" cy="1296.5" r="6.3"/><circle cx="298.3" cy="1295.9" r="6.3"/><circle cx="302.1" cy="1297.4" r="6.3"/><circle cx="295.5" cy="1302.0" r="6.3"/><circle cx="300.3" cy="1301.3" r="6.3"/><circle cx="370.2" cy="1300.3" r="6.3"/><circle cx="372.5" cy="1305.4" r="6.3"/><circle cx="275.3" cy="1390.0" r="6.3"/><circle cx="298.2" cy="1395.1" r="6.3"/><circle cx="842.7" cy="1098.5" r="6.3"/><circle cx="857.2" cy="1119.7" r="6.3"/><circle cx="852.6" cy="1134.2" r="6.3"/><circle cx="848.8" cy="1136.8" r="6.3"/><circle cx="839.2" cy="1147.0" r="6.3"/><circle cx="853.3" cy="1149.5" r="6.3"/><circle cx="843.7" cy="1161.2" r="6.3"/><circle cx="855.8" cy="1159.1" r="6.3"/><circle cx="859.6" cy="1161.6" r="6.3"/><circle cx="868.6" cy="1156.3" r="6.3"/><circle cx="853.3" cy="1170.3" r="6.3"/><circle cx="880.9" cy="1163.5" r="6.3"/><circle cx="881.3" cy="1181.1" r="6.3"/><circle cx="839.9" cy="1185.9" r="6.3"/><circle cx="852.0" cy="1189.1" r="6.3"/><circle cx="857.1" cy="1194.2" r="6.3"/><circle cx="841.4" cy="1201.4" r="6.3"/><circle cx="853.9" cy="1210.1" r="6.3"/><circle cx="850.7" cy="1213.3" r="6.3"/><circle cx="869.2" cy="1223.2" r="6.3"/><circle cx="838.0" cy="1222.2" r="6.3"/><circle cx="845.6" cy="1223.5" r="6.3"/><circle cx="850.7" cy="1229.2" r="6.3"/><circle cx="838.0" cy="1234.3" r="6.3"/><circle cx="844.3" cy="1236.9" r="6.3"/><circle cx="840.5" cy="1242.0" r="6.3"/><circle cx="859.6" cy="1236.9" r="6.3"/><circle cx="868.6" cy="1244.5" r="6.3"/><circle cx="857.1" cy="1250.3" r="6.3"/><circle cx="841.1" cy="1252.2" r="6.3"/><circle cx="846.9" cy="1260.5" r="6.3"/><circle cx="837.3" cy="1273.2" r="6.3"/><circle cx="846.2" cy="1272.6" r="6.3"/><circle cx="858.8" cy="1269.0" r="6.3"/><circle cx="910.7" cy="1201.2" r="6.3"/><circle cx="913.2" cy="1208.8" r="6.3"/><circle cx="906.8" cy="1213.9" r="6.3"/><circle cx="914.5" cy="1214.6" r="6.3"/><circle cx="888.0" cy="1212.0" r="6.3"/><circle cx="890.9" cy="1219.7" r="6.3"/><circle cx="896.6" cy="1225.4" r="6.3"/><circle cx="967.7" cy="1219.0" r="6.3"/><circle cx="974.4" cy="1228.0" r="6.3"/><circle cx="965.5" cy="1229.2" r="6.3"/><circle cx="963.0" cy="1236.9" r="6.3"/><circle cx="980.8" cy="1249.6" r="6.3"/><circle cx="880.1" cy="1232.4" r="6.3"/><circle cx="860.3" cy="1298.1" r="6.3"/><circle cx="873.3" cy="1291.7" r="6.3"/><circle cx="872.4" cy="1301.9" r="6.3"/><circle cx="870.5" cy="1310.9" r="6.3"/><circle cx="869.8" cy="1317.2" r="6.3"/><circle cx="860.3" cy="1321.7" r="6.3"/><circle cx="874.9" cy="1322.3" r="6.3"/><circle cx="863.5" cy="1330.0" r="6.3"/><circle cx="871.1" cy="1332.6" r="6.3"/><circle cx="882.6" cy="1330.6" r="6.3"/><circle cx="878.8" cy="1337.7" r="6.3"/><circle cx="864.4" cy="1339.6" r="6.3"/><circle cx="884.5" cy="1284.1" r="6.3"/><circle cx="881.3" cy="1280.3" r="6.3"/><circle cx="902.4" cy="1305.5" r="6.3"/><circle cx="901.7" cy="1321.1" r="6.3"/><circle cx="898.5" cy="1326.8" r="6.3"/><circle cx="901.1" cy="1333.8" r="6.3"/><circle cx="897.9" cy="1294.3" r="6.3"/><circle cx="904.3" cy="1290.5" r="6.3"/><circle cx="871.1" cy="1256.0" r="6.3"/><circle cx="878.8" cy="1259.8" r="6.3"/><circle cx="870.5" cy="1266.9" r="6.3"/><circle cx="929.8" cy="1294.3" r="6.3"/><circle cx="946.4" cy="1314.7" r="6.3"/><circle cx="955.9" cy="1319.8" r="6.3"/><circle cx="955.9" cy="1327.4" r="6.3"/><circle cx="956.6" cy="1308.3" r="6.3"/><circle cx="950.2" cy="1304.5" r="6.3"/><circle cx="975.1" cy="1268.1" r="6.3"/><circle cx="977.6" cy="1275.2" r="6.3"/><circle cx="977.0" cy="1282.8" r="6.3"/><circle cx="976.4" cy="1289.2" r="6.3"/><circle cx="969.3" cy="1289.2" r="6.3"/><circle cx="974.4" cy="1310.9" r="6.3"/><circle cx="979.5" cy="1311.5" r="6.3"/><circle cx="981.5" cy="1322.3" r="6.3"/><circle cx="975.1" cy="1324.9" r="6.3"/><circle cx="978.9" cy="1326.8" r="6.3"/><circle cx="860.9" cy="1356.1" r="6.3"/><circle cx="866.0" cy="1354.9" r="6.3"/><circle cx="874.9" cy="1356.1" r="6.3"/><circle cx="861.6" cy="1360.6" r="6.3"/><circle cx="865.4" cy="1375.9" r="6.3"/><circle cx="979.5" cy="1355.5" r="6.3"/><circle cx="980.4" cy="1367.9" r="6.3"/><circle cx="982.1" cy="1377.2" r="6.3"/><circle cx="907.7" cy="1216.5" r="6.3"/><circle cx="906.7" cy="1221.7" r="6.3"/><circle cx="904.1" cy="1224.9" r="6.3"/><circle cx="907.6" cy="1224.0" r="6.3"/><circle cx="912.6" cy="1225.3" r="6.3"/><circle cx="901.5" cy="1230.2" r="6.3"/><circle cx="906.0" cy="1229.0" r="6.3"/><circle cx="912.0" cy="1229.0" r="6.3"/><circle cx="916.3" cy="1229.3" r="6.3"/><circle cx="887.5" cy="1233.0" r="6.3"/><circle cx="892.4" cy="1233.9" r="6.3"/><circle cx="898.6" cy="1234.4" r="6.3"/><circle cx="902.4" cy="1233.9" r="6.3"/><circle cx="907.6" cy="1234.7" r="6.3"/><circle cx="912.7" cy="1232.9" r="6.3"/><circle cx="919.5" cy="1234.5" r="6.3"/><circle cx="933.5" cy="1234.6" r="6.3"/><circle cx="886.2" cy="1239.0" r="6.3"/><circle cx="890.6" cy="1237.9" r="6.3"/><circle cx="895.2" cy="1239.0" r="6.3"/><circle cx="901.4" cy="1238.2" r="6.3"/><circle cx="905.2" cy="1238.6" r="6.3"/><circle cx="911.8" cy="1237.0" r="6.3"/><circle cx="915.1" cy="1238.7" r="6.3"/><circle cx="921.1" cy="1238.5" r="6.3"/><circle cx="927.0" cy="1238.5" r="6.3"/><circle cx="930.2" cy="1237.1" r="6.3"/><circle cx="936.5" cy="1238.2" r="6.3"/><circle cx="941.9" cy="1238.4" r="6.3"/><circle cx="966.0" cy="1237.7" r="6.3"/><circle cx="887.7" cy="1243.3" r="6.3"/><circle cx="894.5" cy="1243.2" r="6.3"/><circle cx="898.5" cy="1242.4" r="6.3"/><circle cx="903.7" cy="1242.7" r="6.3"/><circle cx="909.2" cy="1243.1" r="6.3"/><circle cx="913.7" cy="1241.2" r="6.3"/><circle cx="919.0" cy="1242.0" r="6.3"/><circle cx="923.5" cy="1242.8" r="6.3"/><circle cx="929.5" cy="1242.6" r="6.3"/><circle cx="933.8" cy="1243.4" r="6.3"/><circle cx="937.3" cy="1242.7" r="6.3"/><circle cx="942.5" cy="1242.3" r="6.3"/><circle cx="947.9" cy="1241.9" r="6.3"/><circle cx="964.4" cy="1242.5" r="6.3"/><circle cx="968.7" cy="1242.3" r="6.3"/><circle cx="885.3" cy="1245.8" r="6.3"/><circle cx="891.7" cy="1245.7" r="6.3"/><circle cx="896.2" cy="1247.4" r="6.3"/><circle cx="900.3" cy="1246.3" r="6.3"/><circle cx="904.8" cy="1245.6" r="6.3"/><circle cx="910.8" cy="1246.8" r="6.3"/><circle cx="915.3" cy="1247.5" r="6.3"/><circle cx="921.1" cy="1247.7" r="6.3"/><circle cx="925.9" cy="1246.7" r="6.3"/><circle cx="931.4" cy="1246.9" r="6.3"/><circle cx="936.2" cy="1246.8" r="6.3"/><circle cx="940.4" cy="1247.1" r="6.3"/><circle cx="946.6" cy="1246.8" r="6.3"/><circle cx="950.6" cy="1246.2" r="6.3"/><circle cx="955.4" cy="1245.4" r="6.3"/><circle cx="961.1" cy="1247.4" r="6.3"/><circle cx="966.1" cy="1247.7" r="6.3"/><circle cx="971.2" cy="1245.4" r="6.3"/><circle cx="884.3" cy="1250.5" r="6.3"/><circle cx="889.4" cy="1251.9" r="6.3"/><circle cx="894.6" cy="1250.4" r="6.3"/><circle cx="899.1" cy="1251.3" r="6.3"/><circle cx="902.6" cy="1251.5" r="6.3"/><circle cx="908.8" cy="1249.9" r="6.3"/><circle cx="913.3" cy="1250.4" r="6.3"/><circle cx="918.4" cy="1250.2" r="6.3"/><circle cx="922.7" cy="1249.7" r="6.3"/><circle cx="928.8" cy="1250.4" r="6.3"/><circle cx="933.0" cy="1251.2" r="6.3"/><circle cx="939.0" cy="1250.6" r="6.3"/><circle cx="944.6" cy="1250.0" r="6.3"/><circle cx="947.8" cy="1251.5" r="6.3"/><circle cx="953.3" cy="1250.0" r="6.3"/><circle cx="959.2" cy="1249.8" r="6.3"/><circle cx="964.4" cy="1250.4" r="6.3"/><circle cx="969.1" cy="1250.6" r="6.3"/><circle cx="876.7" cy="1254.7" r="6.3"/><circle cx="880.8" cy="1255.0" r="6.3"/><circle cx="885.2" cy="1255.9" r="6.3"/><circle cx="891.6" cy="1255.9" r="6.3"/><circle cx="895.2" cy="1254.9" r="6.3"/><circle cx="901.4" cy="1254.2" r="6.3"/><circle cx="906.6" cy="1254.8" r="6.3"/><circle cx="909.8" cy="1254.8" r="6.3"/><circle cx="917.0" cy="1254.9" r="6.3"/><circle cx="920.5" cy="1254.3" r="6.3"/><circle cx="925.7" cy="1254.2" r="6.3"/><circle cx="929.8" cy="1255.5" r="6.3"/><circle cx="936.7" cy="1254.9" r="6.3"/><circle cx="942.0" cy="1255.2" r="6.3"/><circle cx="945.9" cy="1255.1" r="6.3"/><circle cx="951.9" cy="1255.2" r="6.3"/><circle cx="955.7" cy="1254.7" r="6.3"/><circle cx="961.0" cy="1255.4" r="6.3"/><circle cx="965.8" cy="1256.1" r="6.3"/><circle cx="872.8" cy="1258.4" r="6.3"/><circle cx="877.3" cy="1259.8" r="6.3"/><circle cx="883.6" cy="1260.3" r="6.3"/><circle cx="889.1" cy="1258.8" r="6.3"/><circle cx="892.4" cy="1260.1" r="6.3"/><circle cx="897.8" cy="1260.2" r="6.3"/><circle cx="903.6" cy="1260.3" r="6.3"/><circle cx="907.7" cy="1259.2" r="6.3"/><circle cx="914.4" cy="1258.6" r="6.3"/><circle cx="918.5" cy="1259.3" r="6.3"/><circle cx="924.5" cy="1258.8" r="6.3"/><circle cx="928.8" cy="1258.7" r="6.3"/><circle cx="933.4" cy="1259.2" r="6.3"/><circle cx="937.7" cy="1260.1" r="6.3"/><circle cx="943.3" cy="1260.1" r="6.3"/><circle cx="949.4" cy="1258.6" r="6.3"/><circle cx="954.5" cy="1260.6" r="6.3"/><circle cx="958.4" cy="1258.4" r="6.3"/><circle cx="962.9" cy="1258.6" r="6.3"/><circle cx="886.1" cy="1262.7" r="6.3"/><circle cx="890.7" cy="1265.0" r="6.3"/><circle cx="895.2" cy="1264.6" r="6.3"/><circle cx="901.3" cy="1264.3" r="6.3"/><circle cx="905.9" cy="1263.6" r="6.3"/><circle cx="911.6" cy="1264.4" r="6.3"/><circle cx="925.0" cy="1263.9" r="6.3"/><circle cx="930.7" cy="1265.0" r="6.3"/><circle cx="935.5" cy="1264.7" r="6.3"/><circle cx="940.1" cy="1264.0" r="6.3"/><circle cx="945.6" cy="1262.7" r="6.3"/><circle cx="950.0" cy="1264.0" r="6.3"/><circle cx="956.9" cy="1262.7" r="6.3"/><circle cx="960.2" cy="1264.6" r="6.3"/><circle cx="889.6" cy="1267.2" r="6.3"/><circle cx="893.8" cy="1267.5" r="6.3"/><circle cx="898.3" cy="1267.7" r="6.3"/><circle cx="902.3" cy="1269.3" r="6.3"/><circle cx="908.9" cy="1268.9" r="6.3"/><circle cx="928.3" cy="1267.8" r="6.3"/><circle cx="934.5" cy="1269.0" r="6.3"/><circle cx="937.8" cy="1268.8" r="6.3"/><circle cx="942.3" cy="1267.7" r="6.3"/><circle cx="947.3" cy="1268.6" r="6.3"/><circle cx="952.7" cy="1268.2" r="6.3"/><circle cx="958.0" cy="1267.5" r="6.3"/><circle cx="890.2" cy="1271.5" r="6.3"/><circle cx="895.3" cy="1271.9" r="6.3"/><circle cx="926.9" cy="1273.6" r="6.3"/><circle cx="931.5" cy="1273.1" r="6.3"/><circle cx="935.2" cy="1272.2" r="6.3"/><circle cx="942.2" cy="1272.2" r="6.3"/><circle cx="946.7" cy="1272.5" r="6.3"/><circle cx="951.8" cy="1273.6" r="6.3"/><circle cx="956.8" cy="1273.5" r="6.3"/><circle cx="960.6" cy="1271.6" r="6.3"/><circle cx="894.6" cy="1276.5" r="6.3"/><circle cx="897.3" cy="1276.6" r="6.3"/><circle cx="929.0" cy="1277.7" r="6.3"/><circle cx="932.8" cy="1277.7" r="6.3"/><circle cx="939.3" cy="1276.6" r="6.3"/><circle cx="943.2" cy="1277.7" r="6.3"/><circle cx="947.9" cy="1277.3" r="6.3"/><circle cx="954.5" cy="1277.0" r="6.3"/><circle cx="957.9" cy="1276.9" r="6.3"/><circle cx="931.8" cy="1281.9" r="6.3"/><circle cx="935.5" cy="1282.2" r="6.3"/><circle cx="940.8" cy="1281.4" r="6.3"/><circle cx="946.6" cy="1280.2" r="6.3"/><circle cx="950.2" cy="1282.0" r="6.3"/><circle cx="955.4" cy="1281.7" r="6.3"/><circle cx="960.9" cy="1280.7" r="6.3"/><circle cx="934.1" cy="1284.7" r="6.3"/><circle cx="939.0" cy="1286.5" r="6.3"/><circle cx="942.8" cy="1286.5" r="6.3"/><circle cx="947.9" cy="1285.2" r="6.3"/><circle cx="953.9" cy="1284.7" r="6.3"/><circle cx="958.3" cy="1285.9" r="6.3"/><circle cx="930.4" cy="1290.1" r="6.3"/><circle cx="936.0" cy="1289.0" r="6.3"/><circle cx="940.1" cy="1288.8" r="6.3"/><circle cx="946.9" cy="1290.9" r="6.3"/><circle cx="949.9" cy="1289.7" r="6.3"/><circle cx="956.2" cy="1290.0" r="6.3"/><circle cx="948.7" cy="1293.1" r="6.3"/><circle cx="952.3" cy="1294.0" r="6.3"/><circle cx="957.9" cy="1295.0" r="6.3"/><circle cx="946.4" cy="1297.7" r="6.3"/><circle cx="951.2" cy="1298.5" r="6.3"/><circle cx="956.7" cy="1298.8" r="6.3"/><circle cx="948.8" cy="1302.7" r="6.3"/><circle cx="953.8" cy="1302.8" r="6.3"/><circle cx="950.8" cy="1307.4" r="6.3"/><circle cx="955.4" cy="1308.0" r="6.3"/><circle cx="953.4" cy="1310.4" r="6.3"/><circle cx="867.3" cy="1382.8" r="6.3"/><circle cx="858.4" cy="1390.8" r="6.3"/><circle cx="862.8" cy="1393.0" r="6.3"/><circle cx="878.8" cy="1390.8" r="6.3"/><circle cx="867.3" cy="1405.1" r="6.3"/><circle cx="863.2" cy="1412.1" r="6.3"/><circle cx="876.9" cy="1413.8" r="6.3"/><circle cx="878.4" cy="1434.7" r="6.3"/><circle cx="862.8" cy="1442.1" r="6.3"/><circle cx="877.9" cy="1471.1" r="6.3"/><circle cx="979.3" cy="1474.6" r="6.3"/><circle cx="876.4" cy="1549.8" r="6.3"/><circle cx="867.7" cy="1649.3" r="6.3"/><circle cx="1739.7" cy="1036.1" r="6.3"/><circle cx="1739.7" cy="1049.4" r="6.3"/><circle cx="1716.5" cy="1044.0" r="6.3"/><circle cx="1717.8" cy="1048.5" r="6.3"/><circle cx="1835.2" cy="1099.1" r="6.3"/><circle cx="1837.6" cy="1106.3" r="6.3"/><circle cx="1717.4" cy="1121.2" r="6.3"/><circle cx="1715.9" cy="1139.7" r="6.3"/><circle cx="1808.4" cy="1133.3" r="6.3"/><circle cx="1794.3" cy="1145.4" r="6.3"/><circle cx="1836.4" cy="1146.7" r="6.3"/><circle cx="1718.3" cy="1156.9" r="6.3"/><circle cx="1733.1" cy="1157.9" r="6.3"/><circle cx="1714.9" cy="1163.9" r="6.3"/><circle cx="1838.0" cy="1158.8" r="6.3"/><circle cx="1838.6" cy="1162.7" r="6.3"/><circle cx="1714.2" cy="1172.6" r="6.3"/><circle cx="1733.4" cy="1169.7" r="6.3"/><circle cx="1739.1" cy="1170.3" r="6.3"/><circle cx="1731.5" cy="1178.6" r="6.3"/><circle cx="1739.1" cy="1174.8" r="6.3"/><circle cx="1821.1" cy="1172.2" r="6.3"/><circle cx="1822.7" cy="1178.0" r="6.3"/><circle cx="1807.1" cy="1177.3" r="6.3"/><circle cx="1840.5" cy="1173.8" r="6.3"/><circle cx="1714.9" cy="1189.4" r="6.3"/><circle cx="1731.5" cy="1191.4" r="6.3"/><circle cx="1822.7" cy="1184.3" r="6.3"/><circle cx="1815.6" cy="1186.2" r="6.3"/><circle cx="1795.9" cy="1193.9" r="6.3"/><circle cx="1808.6" cy="1193.9" r="6.3"/><circle cx="1741.0" cy="1199.0" r="6.3"/><circle cx="1730.8" cy="1200.9" r="6.3"/><circle cx="1742.3" cy="1204.1" r="6.3"/><circle cx="1734.6" cy="1205.4" r="6.3"/><circle cx="1765.9" cy="1199.6" r="6.3"/><circle cx="1776.7" cy="1206.7" r="6.3"/><circle cx="1774.2" cy="1209.2" r="6.3"/><circle cx="1796.5" cy="1205.4" r="6.3"/><circle cx="1807.3" cy="1206.0" r="6.3"/><circle cx="1820.1" cy="1203.7" r="6.3"/><circle cx="1835.4" cy="1194.5" r="6.3"/><circle cx="1848.2" cy="1197.7" r="6.3"/><circle cx="1852.0" cy="1202.2" r="6.3"/><circle cx="1834.1" cy="1203.5" r="6.3"/><circle cx="1843.1" cy="1206.0" r="6.3"/><circle cx="1850.7" cy="1211.1" r="6.3"/><circle cx="1841.8" cy="1212.4" r="6.3"/><circle cx="1830.3" cy="1216.2" r="6.3"/><circle cx="1741.0" cy="1214.3" r="6.3"/><circle cx="1716.1" cy="1213.0" r="6.3"/><circle cx="1707.2" cy="1215.2" r="6.3"/><circle cx="1732.7" cy="1223.9" r="6.3"/><circle cx="1722.5" cy="1225.8" r="6.3"/><circle cx="1720.0" cy="1227.7" r="6.3"/><circle cx="1795.2" cy="1224.9" r="6.3"/><circle cx="1809.3" cy="1227.1" r="6.3"/><circle cx="1807.3" cy="1230.3" r="6.3"/><circle cx="1822.7" cy="1227.1" r="6.3"/><circle cx="1834.1" cy="1229.0" r="6.3"/><circle cx="1848.2" cy="1230.9" r="6.3"/><circle cx="1851.4" cy="1236.0" r="6.3"/><circle cx="1749.3" cy="1233.4" r="6.3"/><circle cx="1779.3" cy="1235.4" r="6.3"/><circle cx="1776.7" cy="1239.2" r="6.3"/><circle cx="1708.5" cy="1241.7" r="6.3"/><circle cx="1799.7" cy="1239.2" r="6.3"/><circle cx="1734.6" cy="1244.7" r="6.3"/><circle cx="1721.9" cy="1248.8" r="6.3"/><circle cx="1721.9" cy="1255.1" r="6.3"/><circle cx="1708.5" cy="1260.9" r="6.3"/><circle cx="1707.2" cy="1269.8" r="6.3"/><circle cx="1719.3" cy="1267.2" r="6.3"/><circle cx="1723.8" cy="1276.8" r="6.3"/><circle cx="1713.6" cy="1278.7" r="6.3"/><circle cx="1710.7" cy="1292.8" r="6.3"/><circle cx="1711.7" cy="1307.0" r="6.3"/><circle cx="1712.3" cy="1318.9" r="6.3"/><circle cx="1728.3" cy="1317.6" r="6.3"/><circle cx="1725.7" cy="1322.1" r="6.3"/><circle cx="1711.7" cy="1324.6" r="6.3"/><circle cx="1735.3" cy="1296.6" r="6.3"/><circle cx="1735.3" cy="1271.7" r="6.3"/><circle cx="1817.6" cy="1245.6" r="6.3"/><circle cx="1811.2" cy="1246.8" r="6.3"/><circle cx="1830.3" cy="1245.6" r="6.3"/><circle cx="1840.5" cy="1245.6" r="6.3"/><circle cx="1845.6" cy="1255.8" r="6.3"/><circle cx="1843.1" cy="1259.6" r="6.3"/><circle cx="1842.4" cy="1266.6" r="6.3"/><circle cx="1847.5" cy="1271.1" r="6.3"/><circle cx="1846.2" cy="1274.9" r="6.3"/><circle cx="1845.0" cy="1283.2" r="6.3"/><circle cx="1845.6" cy="1292.1" r="6.3"/><circle cx="1843.7" cy="1297.9" r="6.3"/><circle cx="1825.2" cy="1257.0" r="6.3"/><circle cx="1826.5" cy="1266.0" r="6.3"/><circle cx="1827.8" cy="1274.9" r="6.3"/><circle cx="1830.3" cy="1286.4" r="6.3"/><circle cx="1828.4" cy="1299.1" r="6.3"/><circle cx="1829.0" cy="1311.9" r="6.3"/><circle cx="1811.2" cy="1262.1" r="6.3"/><circle cx="1815.0" cy="1273.6" r="6.3"/><circle cx="1812.4" cy="1281.3" r="6.3"/><circle cx="1811.8" cy="1288.9" r="6.3"/><circle cx="1816.3" cy="1296.6" r="6.3"/><circle cx="1817.6" cy="1303.0" r="6.3"/><circle cx="1801.0" cy="1297.9" r="6.3"/><circle cx="1805.4" cy="1308.7" r="6.3"/><circle cx="1798.4" cy="1324.6" r="6.3"/><circle cx="1834.1" cy="1236.6" r="6.3"/><circle cx="1781.8" cy="1292.8" r="6.3"/><circle cx="1782.5" cy="1297.9" r="6.3"/><circle cx="1783.1" cy="1306.8" r="6.3"/><circle cx="1783.8" cy="1314.4" r="6.3"/><circle cx="1783.1" cy="1319.5" r="6.3"/><circle cx="1749.9" cy="1304.9" r="6.3"/><circle cx="1758.9" cy="1306.8" r="6.3"/><circle cx="1766.5" cy="1304.2" r="6.3"/><circle cx="1761.4" cy="1314.4" r="6.3"/><circle cx="1769.1" cy="1310.6" r="6.3"/><circle cx="1764.0" cy="1322.1" r="6.3"/><circle cx="1771.6" cy="1318.3" r="6.3"/><circle cx="1766.5" cy="1327.2" r="6.3"/><circle cx="1780.8" cy="1239.4" r="6.3"/><circle cx="1777.5" cy="1243.6" r="6.3"/><circle cx="1784.3" cy="1244.2" r="6.3"/><circle cx="1789.1" cy="1243.1" r="6.3"/><circle cx="1760.8" cy="1248.6" r="6.3"/><circle cx="1776.1" cy="1247.5" r="6.3"/><circle cx="1781.8" cy="1248.2" r="6.3"/><circle cx="1785.0" cy="1247.2" r="6.3"/><circle cx="1790.2" cy="1246.9" r="6.3"/><circle cx="1749.1" cy="1252.2" r="6.3"/><circle cx="1753.4" cy="1252.2" r="6.3"/><circle cx="1758.1" cy="1250.8" r="6.3"/><circle cx="1762.6" cy="1251.5" r="6.3"/><circle cx="1767.4" cy="1252.5" r="6.3"/><circle cx="1773.4" cy="1252.7" r="6.3"/><circle cx="1779.2" cy="1252.1" r="6.3"/><circle cx="1783.7" cy="1251.2" r="6.3"/><circle cx="1787.4" cy="1252.5" r="6.3"/><circle cx="1745.3" cy="1256.4" r="6.3"/><circle cx="1749.7" cy="1255.5" r="6.3"/><circle cx="1756.9" cy="1255.5" r="6.3"/><circle cx="1760.6" cy="1255.5" r="6.3"/><circle cx="1765.2" cy="1256.0" r="6.3"/><circle cx="1769.8" cy="1256.8" r="6.3"/><circle cx="1775.1" cy="1255.4" r="6.3"/><circle cx="1780.7" cy="1256.2" r="6.3"/><circle cx="1785.6" cy="1257.4" r="6.3"/><circle cx="1747.6" cy="1260.4" r="6.3"/><circle cx="1753.8" cy="1260.5" r="6.3"/><circle cx="1759.3" cy="1260.7" r="6.3"/><circle cx="1762.7" cy="1259.9" r="6.3"/><circle cx="1767.3" cy="1261.3" r="6.3"/><circle cx="1774.2" cy="1261.4" r="6.3"/><circle cx="1779.3" cy="1261.4" r="6.3"/><circle cx="1783.3" cy="1260.3" r="6.3"/><circle cx="1788.5" cy="1261.6" r="6.3"/><circle cx="1745.2" cy="1264.0" r="6.3"/><circle cx="1750.4" cy="1265.4" r="6.3"/><circle cx="1755.8" cy="1265.0" r="6.3"/><circle cx="1760.7" cy="1265.2" r="6.3"/><circle cx="1766.0" cy="1264.1" r="6.3"/><circle cx="1769.9" cy="1264.5" r="6.3"/><circle cx="1776.3" cy="1265.6" r="6.3"/><circle cx="1780.9" cy="1265.8" r="6.3"/><circle cx="1786.2" cy="1265.6" r="6.3"/><circle cx="1791.1" cy="1265.8" r="6.3"/><circle cx="1749.4" cy="1268.4" r="6.3"/><circle cx="1753.3" cy="1269.5" r="6.3"/><circle cx="1758.3" cy="1269.1" r="6.3"/><circle cx="1762.4" cy="1269.9" r="6.3"/><circle cx="1767.3" cy="1268.9" r="6.3"/><circle cx="1773.1" cy="1268.4" r="6.3"/><circle cx="1779.3" cy="1270.0" r="6.3"/><circle cx="1782.2" cy="1268.1" r="6.3"/><circle cx="1787.3" cy="1268.6" r="6.3"/><circle cx="1792.5" cy="1269.2" r="6.3"/><circle cx="1745.4" cy="1273.5" r="6.3"/><circle cx="1750.8" cy="1272.5" r="6.3"/><circle cx="1754.8" cy="1273.4" r="6.3"/><circle cx="1761.3" cy="1274.3" r="6.3"/><circle cx="1765.6" cy="1272.4" r="6.3"/><circle cx="1771.7" cy="1272.4" r="6.3"/><circle cx="1775.3" cy="1273.8" r="6.3"/><circle cx="1780.8" cy="1273.0" r="6.3"/><circle cx="1786.1" cy="1272.8" r="6.3"/><circle cx="1791.4" cy="1272.4" r="6.3"/><circle cx="1794.7" cy="1273.1" r="6.3"/><circle cx="1749.2" cy="1277.5" r="6.3"/><circle cx="1754.3" cy="1278.0" r="6.3"/><circle cx="1758.0" cy="1278.2" r="6.3"/><circle cx="1762.7" cy="1277.9" r="6.3"/><circle cx="1768.2" cy="1277.3" r="6.3"/><circle cx="1772.2" cy="1277.0" r="6.3"/><circle cx="1779.0" cy="1276.7" r="6.3"/><circle cx="1782.9" cy="1277.2" r="6.3"/><circle cx="1787.3" cy="1277.9" r="6.3"/><circle cx="1746.1" cy="1282.8" r="6.3"/><circle cx="1749.8" cy="1281.4" r="6.3"/><circle cx="1756.0" cy="1282.3" r="6.3"/><circle cx="1761.8" cy="1283.3" r="6.3"/><circle cx="1766.6" cy="1282.9" r="6.3"/><circle cx="1770.3" cy="1282.4" r="6.3"/><circle cx="1742.6" cy="1285.5" r="6.3"/><circle cx="1749.1" cy="1286.0" r="6.3"/><circle cx="1753.2" cy="1287.0" r="6.3"/><circle cx="1767.9" cy="1286.8" r="6.3"/><circle cx="1712.3" cy="1329.1" r="6.3"/><circle cx="1710.4" cy="1343.8" r="6.3"/><circle cx="1727.0" cy="1350.8" r="6.3"/><circle cx="1751.9" cy="1341.2" r="6.3"/><circle cx="1748.7" cy="1352.1" r="6.3"/><circle cx="1751.9" cy="1359.1" r="6.3"/><circle cx="1762.1" cy="1355.3" r="6.3"/><circle cx="1764.6" cy="1362.9" r="6.3"/><circle cx="1751.2" cy="1368.0" r="6.3"/><circle cx="1747.4" cy="1375.1" r="6.3"/><circle cx="1763.3" cy="1375.3" r="6.3"/><circle cx="1771.6" cy="1325.9" r="6.3"/><circle cx="1761.4" cy="1322.8" r="6.3"/><circle cx="1802.9" cy="1331.0" r="6.3"/><circle cx="1802.2" cy="1336.8" r="6.3"/><circle cx="1818.6" cy="1334.0" r="6.3"/><circle cx="1816.9" cy="1344.4" r="6.3"/><circle cx="1817.6" cy="1347.0" r="6.3"/><circle cx="1803.5" cy="1348.9" r="6.3"/><circle cx="1802.9" cy="1358.5" r="6.3"/><circle cx="1816.3" cy="1368.3" r="6.3"/><circle cx="1822.7" cy="1368.7" r="6.3"/><circle cx="1805.7" cy="1374.8" r="6.3"/><circle cx="1798.8" cy="1388.4" r="6.3"/><circle cx="1802.5" cy="1399.7" r="6.3"/><circle cx="1725.7" cy="1386.3" r="6.3"/><circle cx="1726.4" cy="1392.3" r="6.3"/><circle cx="1737.2" cy="1401.5" r="6.3"/><circle cx="1721.2" cy="1405.4" r="6.3"/><circle cx="1729.5" cy="1405.7" r="6.3"/><circle cx="1726.4" cy="1416.5" r="6.3"/><circle cx="1736.6" cy="1417.1" r="6.3"/><circle cx="1730.2" cy="1424.8" r="6.3"/><circle cx="1724.4" cy="1443.7" r="6.3"/><circle cx="1736.9" cy="1464.6" r="6.3"/><circle cx="1727.8" cy="1477.1" r="6.3"/><circle cx="1763.1" cy="1517.9" r="6.3"/><circle cx="899.2" cy="1282.8" r="6.3"/><circle cx="901.7" cy="1289.2" r="6.3"/><circle cx="897.9" cy="1279.0" r="6.3"/><circle cx="904.3" cy="1282.8" r="6.3"/><circle cx="896.6" cy="1289.2" r="6.3"/><circle cx="904.3" cy="1296.8" r="6.3"/><circle cx="899.2" cy="1295.6" r="6.3"/><circle cx="840.5" cy="1228.0" r="6.3"/><circle cx="846.9" cy="1233.1" r="6.3"/><circle cx="849.4" cy="1239.4" r="6.3"/><circle cx="842.4" cy="1247.1" r="6.3"/><circle cx="845.6" cy="1230.5" r="6.3"/><circle cx="840.5" cy="1237.5" r="6.3"/><circle cx="852.0" cy="1234.3" r="6.3"/><circle cx="844.3" cy="1244.5" r="6.3"/><circle cx="971.9" cy="1279.0" r="6.3"/><circle cx="973.2" cy="1284.1" r="6.3"/><circle cx="979.5" cy="1279.0" r="6.3"/><circle cx="980.8" cy="1282.8" r="6.3"/><circle cx="971.9" cy="1273.9" r="6.3"/><circle cx="1714.2" cy="1258.3" r="6.3"/><circle cx="1715.5" cy="1264.7" r="6.3"/><circle cx="1720.6" cy="1259.6" r="6.3"/><circle cx="1713.0" cy="1272.3" r="6.3"/><circle cx="1723.2" cy="1269.8" r="6.3"/><circle cx="1718.1" cy="1272.3" r="6.3"/><circle cx="1818.8" cy="1254.5" r="6.3"/><circle cx="1820.1" cy="1263.4" r="6.3"/><circle cx="1822.7" cy="1272.3" r="6.3"/><circle cx="1818.8" cy="1280.0" r="6.3"/><circle cx="1817.6" cy="1290.2" r="6.3"/><circle cx="1822.7" cy="1295.3" r="6.3"/><circle cx="1809.9" cy="1272.3" r="6.3"/><circle cx="1838.0" cy="1249.4" r="6.3"/><circle cx="1835.4" cy="1257.0" r="6.3"/></g>
<path class="k" d="M233.8 1021.5v-7.3M233.8 1664.2v7.3M245.9 1021.5v-7.3M245.9 1664.2v7.3M258.0 1021.5v-16.5M258.0 1664.2v16.5M270.1 1021.5v-7.3M270.1 1664.2v7.3M282.2 1021.5v-7.3M282.2 1664.2v7.3M294.2 1021.5v-16.5M294.2 1664.2v16.5M306.3 1021.5v-7.3M306.3 1664.2v7.3M318.4 1021.5v-7.3M318.4 1664.2v7.3M330.5 1021.5v-16.5M330.5 1664.2v16.5M342.5 1021.5v-7.3M342.5 1664.2v7.3M354.6 1021.5v-7.3M354.6 1664.2v7.3M366.7 1021.5v-16.5M366.7 1664.2v16.5M378.8 1021.5v-7.3M378.8 1664.2v7.3M390.9 1021.5v-7.3M390.9 1664.2v7.3M402.9 1021.5v-16.5M402.9 1664.2v16.5M415.0 1021.5v-7.3M415.0 1664.2v7.3M427.1 1021.5v-7.3M427.1 1664.2v7.3M439.2 1021.5v-16.5M439.2 1664.2v16.5M451.2 1021.5v-7.3M451.2 1664.2v7.3M463.3 1021.5v-7.3M463.3 1664.2v7.3M475.4 1021.5v-16.5M475.4 1664.2v16.5M487.5 1021.5v-7.3M487.5 1664.2v7.3M499.6 1021.5v-7.3M499.6 1664.2v7.3M511.6 1021.5v-16.5M511.6 1664.2v16.5M523.7 1021.5v-7.3M523.7 1664.2v7.3M535.8 1021.5v-7.3M535.8 1664.2v7.3M547.9 1021.5v-16.5M547.9 1664.2v16.5M560.0 1021.5v-7.3M560.0 1664.2v7.3M572.0 1021.5v-7.3M572.0 1664.2v7.3M584.1 1021.5v-16.5M584.1 1664.2v16.5M596.2 1021.5v-7.3M596.2 1664.2v7.3M608.3 1021.5v-7.3M608.3 1664.2v7.3M620.3 1021.5v-16.5M620.3 1664.2v16.5M632.4 1021.5v-7.3M632.4 1664.2v7.3M644.5 1021.5v-7.3M644.5 1664.2v7.3M656.6 1021.5v-16.5M656.6 1664.2v16.5M668.7 1021.5v-7.3M668.7 1664.2v7.3M680.7 1021.5v-7.3M680.7 1664.2v7.3M692.8 1021.5v-16.5M692.8 1664.2v16.5M704.9 1021.5v-7.3M704.9 1664.2v7.3M717.0 1021.5v-7.3M717.0 1664.2v7.3M729.0 1021.5v-16.5M729.0 1664.2v16.5M741.1 1021.5v-7.3M741.1 1664.2v7.3M753.2 1021.5v-7.3M753.2 1664.2v7.3M765.3 1021.5v-16.5M765.3 1664.2v16.5M777.4 1021.5v-7.3M777.4 1664.2v7.3M789.4 1021.5v-7.3M789.4 1664.2v7.3M801.5 1021.5v-16.5M801.5 1664.2v16.5M813.6 1021.5v-7.3M813.6 1664.2v7.3M825.7 1021.5v-7.3M825.7 1664.2v7.3M837.7 1021.5v-16.5M837.7 1664.2v16.5M849.8 1021.5v-7.3M849.8 1664.2v7.3M861.9 1021.5v-7.3M861.9 1664.2v7.3M874.0 1021.5v-16.5M874.0 1664.2v16.5M886.1 1021.5v-7.3M886.1 1664.2v7.3M898.1 1021.5v-7.3M898.1 1664.2v7.3M910.2 1021.5v-16.5M910.2 1664.2v16.5M922.3 1021.5v-7.3M922.3 1664.2v7.3M934.4 1021.5v-7.3M934.4 1664.2v7.3M946.4 1021.5v-16.5M946.4 1664.2v16.5M958.5 1021.5v-7.3M958.5 1664.2v7.3M970.6 1021.5v-7.3M970.6 1664.2v7.3M982.7 1021.5v-16.5M982.7 1664.2v16.5M994.8 1021.5v-7.3M994.8 1664.2v7.3M1006.8 1021.5v-7.3M1006.8 1664.2v7.3M1018.9 1021.5v-16.5M1018.9 1664.2v16.5M1031.0 1021.5v-7.3M1031.0 1664.2v7.3M1043.1 1021.5v-7.3M1043.1 1664.2v7.3M1055.1 1021.5v-16.5M1055.1 1664.2v16.5M1067.2 1021.5v-7.3M1067.2 1664.2v7.3M1079.3 1021.5v-7.3M1079.3 1664.2v7.3M1091.4 1021.5v-16.5M1091.4 1664.2v16.5M1103.5 1021.5v-7.3M1103.5 1664.2v7.3M1115.5 1021.5v-7.3M1115.5 1664.2v7.3M1127.6 1021.5v-16.5M1127.6 1664.2v16.5M1139.7 1021.5v-7.3M1139.7 1664.2v7.3M1151.8 1021.5v-7.3M1151.8 1664.2v7.3M1163.8 1021.5v-16.5M1163.8 1664.2v16.5M1175.9 1021.5v-7.3M1175.9 1664.2v7.3M1188.0 1021.5v-7.3M1188.0 1664.2v7.3M1200.1 1021.5v-16.5M1200.1 1664.2v16.5M1212.2 1021.5v-7.3M1212.2 1664.2v7.3M1224.2 1021.5v-7.3M1224.2 1664.2v7.3M1236.3 1021.5v-16.5M1236.3 1664.2v16.5M1248.4 1021.5v-7.3M1248.4 1664.2v7.3M1260.5 1021.5v-7.3M1260.5 1664.2v7.3M1272.6 1021.5v-16.5M1272.6 1664.2v16.5M1284.6 1021.5v-7.3M1284.6 1664.2v7.3M1296.7 1021.5v-7.3M1296.7 1664.2v7.3M1308.8 1021.5v-16.5M1308.8 1664.2v16.5M1320.9 1021.5v-7.3M1320.9 1664.2v7.3M1332.9 1021.5v-7.3M1332.9 1664.2v7.3M1345.0 1021.5v-16.5M1345.0 1664.2v16.5M1357.1 1021.5v-7.3M1357.1 1664.2v7.3M1369.2 1021.5v-7.3M1369.2 1664.2v7.3M1381.3 1021.5v-16.5M1381.3 1664.2v16.5M1393.3 1021.5v-7.3M1393.3 1664.2v7.3M1405.4 1021.5v-7.3M1405.4 1664.2v7.3M1417.5 1021.5v-16.5M1417.5 1664.2v16.5M1429.6 1021.5v-7.3M1429.6 1664.2v7.3M1441.6 1021.5v-7.3M1441.6 1664.2v7.3M1453.7 1021.5v-16.5M1453.7 1664.2v16.5M1465.8 1021.5v-7.3M1465.8 1664.2v7.3M1477.9 1021.5v-7.3M1477.9 1664.2v7.3M1490.0 1021.5v-16.5M1490.0 1664.2v16.5M1502.0 1021.5v-7.3M1502.0 1664.2v7.3M1514.1 1021.5v-7.3M1514.1 1664.2v7.3M1526.2 1021.5v-16.5M1526.2 1664.2v16.5M1538.3 1021.5v-7.3M1538.3 1664.2v7.3M1550.3 1021.5v-7.3M1550.3 1664.2v7.3M1562.4 1021.5v-16.5M1562.4 1664.2v16.5M1574.5 1021.5v-7.3M1574.5 1664.2v7.3M1586.6 1021.5v-7.3M1586.6 1664.2v7.3M1598.7 1021.5v-16.5M1598.7 1664.2v16.5M1610.7 1021.5v-7.3M1610.7 1664.2v7.3M1622.8 1021.5v-7.3M1622.8 1664.2v7.3M1634.9 1021.5v-16.5M1634.9 1664.2v16.5M1647.0 1021.5v-7.3M1647.0 1664.2v7.3M1659.0 1021.5v-7.3M1659.0 1664.2v7.3M1671.1 1021.5v-16.5M1671.1 1664.2v16.5M1683.2 1021.5v-7.3M1683.2 1664.2v7.3M1695.3 1021.5v-7.3M1695.3 1664.2v7.3M1707.4 1021.5v-16.5M1707.4 1664.2v16.5M1719.4 1021.5v-7.3M1719.4 1664.2v7.3M1731.5 1021.5v-7.3M1731.5 1664.2v7.3M1743.6 1021.5v-16.5M1743.6 1664.2v16.5M1755.7 1021.5v-7.3M1755.7 1664.2v7.3M1767.8 1021.5v-7.3M1767.8 1664.2v7.3M1779.8 1021.5v-16.5M1779.8 1664.2v16.5M1791.9 1021.5v-7.3M1791.9 1664.2v7.3M1804.0 1021.5v-7.3M1804.0 1664.2v7.3M1816.1 1021.5v-16.5M1816.1 1664.2v16.5M1828.1 1021.5v-7.3M1828.1 1664.2v7.3M1840.2 1021.5v-7.3M1840.2 1664.2v7.3M1852.3 1021.5v-16.5M1852.3 1664.2v16.5M1864.4 1021.5v-7.3M1864.4 1664.2v7.3M1876.5 1021.5v-7.3M1876.5 1664.2v7.3M223.5 1100.7h-16.5M1886.0 1100.7h16.5M223.5 1244.4h-16.5M1886.0 1244.4h16.5M223.5 1388.1h-16.5M1886.0 1388.1h16.5M223.5 1531.8h-16.5M1886.0 1531.8h16.5"/>
<rect class="f" x="226.0" y="1024.0" width="1657.5" height="637.7"/>
<text class="a" text-anchor="end" transform="translate(190.6 1116.9) scale(1 1.07)">30</text>
<text class="a" text-anchor="end" transform="translate(190.6 1260.6) scale(1 1.07)">0</text>
<text class="a" text-anchor="end" transform="translate(190.6 1404.3) scale(1 1.07)"><tspan dy="5.0">−</tspan><tspan dy="-5.0">30</tspan></text>
<text class="a" text-anchor="end" transform="translate(190.6 1548.0) scale(1 1.07)"><tspan dy="5.0">−</tspan><tspan dy="-5.0">60</tspan></text>
<text class="a" text-anchor="middle" transform="translate(258.0 1728.6) scale(1 1.07)">0</text>
<text class="a" text-anchor="middle" transform="translate(294.2 1728.6) scale(1 1.07)">6</text>
<text class="a" text-anchor="middle" transform="translate(330.5 1728.6) scale(1 1.07)">12</text>
<text class="a" text-anchor="middle" transform="translate(366.7 1728.6) scale(1 1.07)">18</text>
<text class="a" text-anchor="middle" transform="translate(402.9 1728.6) scale(1 1.07)">24</text>
<text class="a" text-anchor="middle" transform="translate(439.2 1728.6) scale(1 1.07)">30</text>
<text class="a" text-anchor="middle" transform="translate(475.4 1728.6) scale(1 1.07)">36</text>
<text class="a" text-anchor="middle" transform="translate(511.6 1728.6) scale(1 1.07)">42</text>
<text class="a" text-anchor="middle" transform="translate(547.9 1728.6) scale(1 1.07)">48</text>
<text class="a" text-anchor="middle" transform="translate(584.1 1728.6) scale(1 1.07)">54</text>
<text class="a" text-anchor="middle" transform="translate(620.3 1728.6) scale(1 1.07)">60</text>
<text class="a" text-anchor="middle" transform="translate(656.6 1728.6) scale(1 1.07)">66</text>
<text class="a" text-anchor="middle" transform="translate(692.8 1728.6) scale(1 1.07)">72</text>
<text class="a" text-anchor="middle" transform="translate(729.0 1728.6) scale(1 1.07)">78</text>
<text class="a" text-anchor="middle" transform="translate(765.3 1728.6) scale(1 1.07)">84</text>
<text class="a" text-anchor="middle" transform="translate(801.5 1728.6) scale(1 1.07)">90</text>
<text class="a" text-anchor="middle" transform="translate(837.7 1728.6) scale(1 1.07)">96</text>
<text class="a" text-anchor="middle" transform="translate(874.0 1728.6) scale(1 1.07)">102</text>
<text class="a" text-anchor="middle" transform="translate(910.2 1728.6) scale(1 1.07)">108</text>
<text class="a" text-anchor="middle" transform="translate(946.4 1728.6) scale(1 1.07)">114</text>
<text class="a" text-anchor="middle" transform="translate(982.7 1728.6) scale(1 1.07)">120</text>
<text class="a" text-anchor="middle" transform="translate(1018.9 1728.6) scale(1 1.07)">126</text>
<text class="a" text-anchor="middle" transform="translate(1055.1 1728.6) scale(1 1.07)">132</text>
<text class="a" text-anchor="middle" transform="translate(1091.4 1728.6) scale(1 1.07)">138</text>
<text class="a" text-anchor="middle" transform="translate(1127.6 1728.6) scale(1 1.07)">144</text>
<text class="a" text-anchor="middle" transform="translate(1163.8 1728.6) scale(1 1.07)">150</text>
<text class="a" text-anchor="middle" transform="translate(1200.1 1728.6) scale(1 1.07)">156</text>
<text class="a" text-anchor="middle" transform="translate(1236.3 1728.6) scale(1 1.07)">162</text>
<text class="a" text-anchor="middle" transform="translate(1272.6 1728.6) scale(1 1.07)">168</text>
<text class="a" text-anchor="middle" transform="translate(1308.8 1728.6) scale(1 1.07)">174</text>
<text class="a" text-anchor="middle" transform="translate(1345.0 1728.6) scale(1 1.07)">180</text>
<text class="a" text-anchor="middle" transform="translate(1381.3 1728.6) scale(1 1.07)">186</text>
<text class="a" text-anchor="middle" transform="translate(1417.5 1728.6) scale(1 1.07)">192</text>
<text class="a" text-anchor="middle" transform="translate(1453.7 1728.6) scale(1 1.07)">198</text>
<text class="a" text-anchor="middle" transform="translate(1490.0 1728.6) scale(1 1.07)">204</text>
<text class="a" text-anchor="middle" transform="translate(1526.2 1728.6) scale(1 1.07)">210</text>
<text class="a" text-anchor="middle" transform="translate(1562.4 1728.6) scale(1 1.07)">216</text>
<text class="a" text-anchor="middle" transform="translate(1598.7 1728.6) scale(1 1.07)">222</text>
<text class="a" text-anchor="middle" transform="translate(1634.9 1728.6) scale(1 1.07)">228</text>
<text class="a" text-anchor="middle" transform="translate(1671.1 1728.6) scale(1 1.07)">234</text>
<text class="a" text-anchor="middle" transform="translate(1707.4 1728.6) scale(1 1.07)">240</text>
<text class="a" text-anchor="middle" transform="translate(1743.6 1728.6) scale(1 1.07)">246</text>
<text class="a" text-anchor="middle" transform="translate(1779.8 1728.6) scale(1 1.07)">252</text>
<text class="a" text-anchor="middle" transform="translate(1816.1 1728.6) scale(1 1.07)">258</text>
<text class="a" text-anchor="middle" transform="translate(1852.3 1728.6) scale(1 1.07)">264</text>
<text class="l" text-anchor="middle" transform="translate(90.1 1342.8) rotate(-90) scale(1 1.06)">North (mm)</text>
<g fill="#00f"><circle cx="268.5" cy="2055.1" r="6.3"/><circle cx="364.2" cy="2092.5" r="6.3"/><circle cx="259.3" cy="2264.1" r="6.3"/><circle cx="383.7" cy="2270.4" r="6.3"/><circle cx="316.7" cy="2278.5" r="6.3"/><circle cx="316.4" cy="2293.4" r="6.3"/><circle cx="292.1" cy="2303.6" r="6.3"/><circle cx="329.5" cy="2065.1" r="6.3"/><circle cx="330.8" cy="2068.3" r="6.3"/><circle cx="326.9" cy="2072.7" r="6.3"/><circle cx="330.8" cy="2088.7" r="6.3"/><circle cx="326.3" cy="2089.9" r="6.3"/><circle cx="330.8" cy="2095.7" r="6.3"/><circle cx="327.6" cy="2104.0" r="6.3"/><circle cx="333.3" cy="2123.8" r="6.3"/><circle cx="332.7" cy="2132.0" r="6.3"/><circle cx="324.4" cy="2137.8" r="6.3"/><circle cx="334.6" cy="2142.9" r="6.3"/><circle cx="332.0" cy="2151.2" r="6.3"/><circle cx="336.5" cy="2153.7" r="6.3"/><circle cx="268.9" cy="2125.0" r="6.3"/><circle cx="272.1" cy="2127.6" r="6.3"/><circle cx="270.8" cy="2138.4" r="6.3"/><circle cx="263.2" cy="2145.4" r="6.3"/><circle cx="382.4" cy="2116.7" r="6.3"/><circle cx="378.6" cy="2119.9" r="6.3"/><circle cx="380.5" cy="2131.4" r="6.3"/><circle cx="381.8" cy="2139.7" r="6.3"/><circle cx="377.3" cy="2144.8" r="6.3"/><circle cx="382.4" cy="2153.7" r="6.3"/><circle cx="383.1" cy="2163.3" r="6.3"/><circle cx="379.2" cy="2170.3" r="6.3"/><circle cx="361.1" cy="2127.3" r="6.3"/><circle cx="363.3" cy="2135.9" r="6.3"/><circle cx="361.4" cy="2137.1" r="6.3"/><circle cx="301.2" cy="2142.2" r="6.3"/><circle cx="300.2" cy="2149.9" r="6.3"/><circle cx="311.0" cy="2151.8" r="6.3"/><circle cx="312.3" cy="2160.1" r="6.3"/><circle cx="302.7" cy="2158.8" r="6.3"/><circle cx="310.4" cy="2167.8" r="6.3"/><circle cx="300.8" cy="2167.8" r="6.3"/><circle cx="297.6" cy="2174.8" r="6.3"/><circle cx="307.8" cy="2172.9" r="6.3"/><circle cx="366.2" cy="2155.0" r="6.3"/><circle cx="367.1" cy="2162.7" r="6.3"/><circle cx="363.9" cy="2170.3" r="6.3"/><circle cx="369.0" cy="2174.1" r="6.3"/><circle cx="362.7" cy="2172.9" r="6.3"/><circle cx="339.7" cy="2165.8" r="6.3"/><circle cx="333.3" cy="2169.0" r="6.3"/><circle cx="324.4" cy="2179.0" r="6.3"/><circle cx="338.4" cy="2176.7" r="6.3"/><circle cx="346.7" cy="2178.0" r="6.3"/><circle cx="337.8" cy="2186.9" r="6.3"/><circle cx="274.6" cy="2152.4" r="6.3"/><circle cx="272.1" cy="2160.1" r="6.3"/><circle cx="278.5" cy="2158.8" r="6.3"/><circle cx="269.5" cy="2165.2" r="6.3"/><circle cx="278.5" cy="2166.5" r="6.3"/><circle cx="264.4" cy="2172.2" r="6.3"/><circle cx="265.7" cy="2179.2" r="6.3"/><circle cx="279.7" cy="2174.1" r="6.3"/><circle cx="282.3" cy="2180.5" r="6.3"/><circle cx="263.8" cy="2185.0" r="6.3"/><circle cx="267.6" cy="2192.0" r="6.3"/><circle cx="261.2" cy="2197.1" r="6.3"/><circle cx="260.6" cy="2202.2" r="6.3"/><circle cx="287.4" cy="2192.0" r="6.3"/><circle cx="289.9" cy="2193.3" r="6.3"/><circle cx="299.5" cy="2186.2" r="6.3"/><circle cx="307.2" cy="2185.0" r="6.3"/><circle cx="311.6" cy="2190.1" r="6.3"/><circle cx="306.5" cy="2194.5" r="6.3"/><circle cx="303.3" cy="2197.7" r="6.3"/><circle cx="325.7" cy="2192.6" r="6.3"/><circle cx="322.5" cy="2202.2" r="6.3"/><circle cx="337.1" cy="2200.3" r="6.3"/><circle cx="341.0" cy="2208.6" r="6.3"/><circle cx="332.0" cy="2207.3" r="6.3"/><circle cx="337.1" cy="2211.1" r="6.3"/><circle cx="360.1" cy="2184.3" r="6.3"/><circle cx="362.0" cy="2187.5" r="6.3"/><circle cx="350.5" cy="2195.8" r="6.3"/><circle cx="358.8" cy="2197.1" r="6.3"/><circle cx="357.6" cy="2211.1" r="6.3"/><circle cx="375.4" cy="2186.2" r="6.3"/><circle cx="386.9" cy="2181.8" r="6.3"/><circle cx="386.9" cy="2186.9" r="6.3"/><circle cx="395.8" cy="2193.3" r="6.3"/><circle cx="398.4" cy="2200.9" r="6.3"/><circle cx="400.3" cy="2208.6" r="6.3"/><circle cx="399.6" cy="2214.9" r="6.3"/><circle cx="401.6" cy="2227.7" r="6.3"/><circle cx="401.6" cy="2242.4" r="6.3"/><circle cx="392.0" cy="2244.3" r="6.3"/><circle cx="402.2" cy="2253.9" r="6.3"/><circle cx="392.0" cy="2255.8" r="6.3"/><circle cx="309.1" cy="2208.6" r="6.3"/><circle cx="304.6" cy="2213.7" r="6.3"/><circle cx="312.9" cy="2220.7" r="6.3"/><circle cx="321.8" cy="2221.3" r="6.3"/><circle cx="321.8" cy="2212.4" r="6.3"/><circle cx="318.0" cy="2231.5" r="6.3"/><circle cx="323.8" cy="2235.4" r="6.3"/><circle cx="306.5" cy="2237.3" r="6.3"/><circle cx="316.7" cy="2241.7" r="6.3"/><circle cx="314.2" cy="2249.4" r="6.3"/><circle cx="320.6" cy="2254.5" r="6.3"/><circle cx="314.8" cy="2257.0" r="6.3"/><circle cx="345.4" cy="2218.8" r="6.3"/><circle cx="344.8" cy="2226.4" r="6.3"/><circle cx="342.9" cy="2237.9" r="6.3"/><circle cx="341.0" cy="2251.9" r="6.3"/><circle cx="348.6" cy="2246.8" r="6.3"/><circle cx="350.5" cy="2257.0" r="6.3"/><circle cx="343.5" cy="2260.9" r="6.3"/><circle cx="341.0" cy="2269.8" r="6.3"/><circle cx="355.6" cy="2271.1" r="6.3"/><circle cx="349.9" cy="2277.4" r="6.3"/><circle cx="351.8" cy="2283.2" r="6.3"/><circle cx="358.8" cy="2221.3" r="6.3"/><circle cx="358.2" cy="2229.0" r="6.3"/><circle cx="356.9" cy="2237.9" r="6.3"/><circle cx="353.7" cy="2246.8" r="6.3"/><circle cx="258.1" cy="2241.1" r="6.3"/><circle cx="259.3" cy="2231.5" r="6.3"/><circle cx="273.4" cy="2247.5" r="6.3"/><circle cx="281.0" cy="2239.2" r="6.3"/><circle cx="283.6" cy="2258.3" r="6.3"/><circle cx="284.8" cy="2262.8" r="6.3"/><circle cx="292.5" cy="2260.9" r="6.3"/><circle cx="297.0" cy="2255.8" r="6.3"/><circle cx="291.2" cy="2249.4" r="6.3"/><circle cx="296.3" cy="2244.3" r="6.3"/><circle cx="293.3" cy="2211.0" r="6.3"/><circle cx="261.6" cy="2214.3" r="6.3"/><circle cx="267.2" cy="2214.5" r="6.3"/><circle cx="271.8" cy="2214.2" r="6.3"/><circle cx="287.1" cy="2214.7" r="6.3"/><circle cx="292.6" cy="2216.3" r="6.3"/><circle cx="295.7" cy="2214.1" r="6.3"/><circle cx="264.6" cy="2220.0" r="6.3"/><circle cx="268.8" cy="2219.1" r="6.3"/><circle cx="273.5" cy="2218.4" r="6.3"/><circle cx="279.4" cy="2218.7" r="6.3"/><circle cx="284.5" cy="2218.8" r="6.3"/><circle cx="288.5" cy="2219.0" r="6.3"/><circle cx="293.3" cy="2219.4" r="6.3"/><circle cx="261.4" cy="2224.5" r="6.3"/><circle cx="265.6" cy="2223.7" r="6.3"/><circle cx="271.5" cy="2223.3" r="6.3"/><circle cx="275.9" cy="2223.2" r="6.3"/><circle cx="281.9" cy="2224.7" r="6.3"/><circle cx="287.7" cy="2223.5" r="6.3"/><circle cx="290.7" cy="2223.3" r="6.3"/><circle cx="263.2" cy="2228.1" r="6.3"/><circle cx="270.2" cy="2228.4" r="6.3"/><circle cx="274.7" cy="2227.8" r="6.3"/><circle cx="279.1" cy="2228.6" r="6.3"/><circle cx="284.2" cy="2227.6" r="6.3"/><circle cx="288.4" cy="2227.7" r="6.3"/><circle cx="293.9" cy="2228.4" r="6.3"/><circle cx="282.6" cy="2232.9" r="6.3"/><circle cx="287.8" cy="2232.4" r="6.3"/><circle cx="292.6" cy="2232.8" r="6.3"/><circle cx="283.4" cy="2237.8" r="6.3"/><circle cx="288.5" cy="2237.2" r="6.3"/><circle cx="375.8" cy="2198.8" r="6.3"/><circle cx="379.1" cy="2198.1" r="6.3"/><circle cx="377.9" cy="2201.6" r="6.3"/><circle cx="382.5" cy="2202.8" r="6.3"/><circle cx="388.9" cy="2203.0" r="6.3"/><circle cx="391.9" cy="2203.2" r="6.3"/><circle cx="381.0" cy="2206.0" r="6.3"/><circle cx="384.5" cy="2206.5" r="6.3"/><circle cx="390.5" cy="2207.2" r="6.3"/><circle cx="395.2" cy="2206.6" r="6.3"/><circle cx="381.7" cy="2211.5" r="6.3"/><circle cx="387.5" cy="2210.5" r="6.3"/><circle cx="393.4" cy="2210.7" r="6.3"/><circle cx="397.0" cy="2211.7" r="6.3"/><circle cx="379.5" cy="2216.1" r="6.3"/><circle cx="384.9" cy="2216.2" r="6.3"/><circle cx="389.7" cy="2216.1" r="6.3"/><circle cx="394.5" cy="2215.7" r="6.3"/><circle cx="373.7" cy="2220.3" r="6.3"/><circle cx="377.4" cy="2220.7" r="6.3"/><circle cx="383.1" cy="2219.8" r="6.3"/><circle cx="388.0" cy="2219.0" r="6.3"/><circle cx="392.8" cy="2219.6" r="6.3"/><circle cx="376.0" cy="2224.5" r="6.3"/><circle cx="381.4" cy="2223.6" r="6.3"/><circle cx="384.8" cy="2224.2" r="6.3"/><circle cx="389.7" cy="2224.4" r="6.3"/><circle cx="395.9" cy="2224.3" r="6.3"/><circle cx="399.4" cy="2224.6" r="6.3"/><circle cx="381.7" cy="2228.3" r="6.3"/><circle cx="386.8" cy="2228.4" r="6.3"/><circle cx="392.6" cy="2229.5" r="6.3"/><circle cx="397.0" cy="2228.9" r="6.3"/><circle cx="867.7" cy="1985.5" r="6.3"/><circle cx="865.8" cy="2036.3" r="6.3"/><circle cx="865.3" cy="2065.4" r="6.3"/><circle cx="905.9" cy="2072.8" r="6.3"/><circle cx="867.3" cy="2090.4" r="6.3"/><circle cx="904.7" cy="2088.2" r="6.3"/><circle cx="906.6" cy="2095.2" r="6.3"/><circle cx="866.7" cy="2100.9" r="6.3"/><circle cx="848.2" cy="2106.0" r="6.3"/><circle cx="980.6" cy="2103.1" r="6.3"/><circle cx="905.6" cy="2110.5" r="6.3"/><circle cx="903.0" cy="2117.5" r="6.3"/><circle cx="909.4" cy="2118.2" r="6.3"/><circle cx="912.6" cy="2123.9" r="6.3"/><circle cx="958.5" cy="2124.5" r="6.3"/><circle cx="956.6" cy="2135.4" r="6.3"/><circle cx="848.4" cy="2134.7" r="6.3"/><circle cx="847.5" cy="2138.6" r="6.3"/><circle cx="877.5" cy="2139.2" r="6.3"/><circle cx="880.7" cy="2143.0" r="6.3"/><circle cx="881.3" cy="2150.1" r="6.3"/><circle cx="864.7" cy="2148.8" r="6.3"/><circle cx="901.1" cy="2137.9" r="6.3"/><circle cx="910.0" cy="2136.0" r="6.3"/><circle cx="909.4" cy="2143.0" r="6.3"/><circle cx="910.0" cy="2152.6" r="6.3"/><circle cx="911.9" cy="2157.7" r="6.3"/><circle cx="978.3" cy="2139.2" r="6.3"/><circle cx="981.5" cy="2145.6" r="6.3"/><circle cx="976.4" cy="2153.2" r="6.3"/><circle cx="982.1" cy="2156.4" r="6.3"/><circle cx="978.9" cy="2158.3" r="6.3"/><circle cx="946.4" cy="2148.8" r="6.3"/><circle cx="956.6" cy="2147.5" r="6.3"/><circle cx="945.1" cy="2151.3" r="6.3"/><circle cx="866.7" cy="2162.2" r="6.3"/><circle cx="869.2" cy="2167.3" r="6.3"/><circle cx="880.1" cy="2166.0" r="6.3"/><circle cx="881.3" cy="2168.5" r="6.3"/><circle cx="845.4" cy="2169.8" r="6.3"/><circle cx="900.5" cy="2167.3" r="6.3"/><circle cx="911.9" cy="2171.7" r="6.3"/><circle cx="900.5" cy="2174.3" r="6.3"/><circle cx="914.5" cy="2180.0" r="6.3"/><circle cx="901.7" cy="2181.9" r="6.3"/><circle cx="847.5" cy="2179.4" r="6.3"/><circle cx="839.9" cy="2185.1" r="6.3"/><circle cx="876.2" cy="2178.8" r="6.3"/><circle cx="883.2" cy="2180.7" r="6.3"/><circle cx="882.0" cy="2187.0" r="6.3"/><circle cx="889.0" cy="2189.0" r="6.3"/><circle cx="903.0" cy="2190.2" r="6.3"/><circle cx="941.9" cy="2163.4" r="6.3"/><circle cx="950.2" cy="2164.1" r="6.3"/><circle cx="957.9" cy="2166.6" r="6.3"/><circle cx="960.4" cy="2170.5" r="6.3"/><circle cx="939.4" cy="2177.5" r="6.3"/><circle cx="948.9" cy="2174.3" r="6.3"/><circle cx="975.7" cy="2172.4" r="6.3"/><circle cx="977.0" cy="2180.0" r="6.3"/><circle cx="976.4" cy="2187.0" r="6.3"/><circle cx="941.3" cy="2187.7" r="6.3"/><circle cx="955.3" cy="2183.2" r="6.3"/><circle cx="965.5" cy="2183.2" r="6.3"/><circle cx="839.2" cy="2194.7" r="6.3"/><circle cx="848.2" cy="2194.1" r="6.3"/><circle cx="849.4" cy="2200.4" r="6.3"/><circle cx="838.6" cy="2205.5" r="6.3"/><circle cx="845.0" cy="2206.2" r="6.3"/><circle cx="839.9" cy="2212.6" r="6.3"/><circle cx="880.1" cy="2201.1" r="6.3"/><circle cx="874.9" cy="2204.9" r="6.3"/><circle cx="890.3" cy="2196.0" r="6.3"/><circle cx="897.9" cy="2201.7" r="6.3"/><circle cx="891.5" cy="2204.9" r="6.3"/><circle cx="913.2" cy="2203.0" r="6.3"/><circle cx="910.7" cy="2206.8" r="6.3"/><circle cx="923.4" cy="2201.7" r="6.3"/><circle cx="934.9" cy="2201.7" r="6.3"/><circle cx="980.2" cy="2202.3" r="6.3"/><circle cx="855.8" cy="2215.1" r="6.3"/><circle cx="864.7" cy="2211.9" r="6.3"/><circle cx="853.3" cy="2221.5" r="6.3"/><circle cx="887.1" cy="2215.7" r="6.3"/><circle cx="884.5" cy="2222.8" r="6.3"/><circle cx="902.4" cy="2220.8" r="6.3"/><circle cx="898.5" cy="2224.7" r="6.3"/><circle cx="950.8" cy="2218.9" r="6.3"/><circle cx="970.0" cy="2219.6" r="6.3"/><circle cx="972.5" cy="2226.6" r="6.3"/><circle cx="961.7" cy="2229.8" r="6.3"/><circle cx="973.8" cy="2234.2" r="6.3"/><circle cx="971.2" cy="2238.7" r="6.3"/><circle cx="973.8" cy="2251.5" r="6.3"/><circle cx="974.4" cy="2255.9" r="6.3"/><circle cx="840.5" cy="2235.5" r="6.3"/><circle cx="841.1" cy="2247.0" r="6.3"/><circle cx="843.1" cy="2257.2" r="6.3"/><circle cx="858.4" cy="2247.0" r="6.3"/><circle cx="850.7" cy="2231.7" r="6.3"/><circle cx="897.9" cy="2239.3" r="6.3"/><circle cx="891.5" cy="2247.0" r="6.3"/><circle cx="886.4" cy="2249.5" r="6.3"/><circle cx="874.9" cy="2255.9" r="6.3"/><circle cx="891.5" cy="2257.2" r="6.3"/><circle cx="952.1" cy="2258.5" r="6.3"/><circle cx="951.5" cy="2240.6" r="6.3"/><circle cx="952.1" cy="2231.7" r="6.3"/><circle cx="973.4" cy="2189.1" r="6.3"/><circle cx="945.9" cy="2193.6" r="6.3"/><circle cx="964.6" cy="2192.5" r="6.3"/><circle cx="971.4" cy="2193.3" r="6.3"/><circle cx="944.0" cy="2196.6" r="6.3"/><circle cx="947.4" cy="2198.9" r="6.3"/><circle cx="952.6" cy="2197.5" r="6.3"/><circle cx="958.6" cy="2198.0" r="6.3"/><circle cx="963.6" cy="2198.3" r="6.3"/><circle cx="968.3" cy="2197.2" r="6.3"/><circle cx="940.4" cy="2203.0" r="6.3"/><circle cx="946.8" cy="2201.8" r="6.3"/><circle cx="951.8" cy="2201.2" r="6.3"/><circle cx="956.3" cy="2201.0" r="6.3"/><circle cx="961.6" cy="2201.5" r="6.3"/><circle cx="964.5" cy="2202.3" r="6.3"/><circle cx="938.2" cy="2205.3" r="6.3"/><circle cx="943.1" cy="2206.5" r="6.3"/><circle cx="947.3" cy="2205.7" r="6.3"/><circle cx="952.7" cy="2207.1" r="6.3"/><circle cx="959.0" cy="2205.3" r="6.3"/><circle cx="963.0" cy="2207.5" r="6.3"/><circle cx="941.4" cy="2210.0" r="6.3"/><circle cx="956.8" cy="2211.3" r="6.3"/><circle cx="937.1" cy="2215.4" r="6.3"/><circle cx="925.9" cy="2218.5" r="6.3"/><circle cx="930.0" cy="2220.4" r="6.3"/><circle cx="936.7" cy="2218.5" r="6.3"/><circle cx="923.9" cy="2224.1" r="6.3"/><circle cx="926.9" cy="2223.7" r="6.3"/><circle cx="932.8" cy="2223.9" r="6.3"/><circle cx="919.9" cy="2227.3" r="6.3"/><circle cx="926.3" cy="2227.5" r="6.3"/><circle cx="929.9" cy="2226.9" r="6.3"/><circle cx="935.6" cy="2228.1" r="6.3"/><circle cx="918.2" cy="2232.0" r="6.3"/><circle cx="923.9" cy="2231.9" r="6.3"/><circle cx="929.1" cy="2232.6" r="6.3"/><circle cx="932.6" cy="2231.5" r="6.3"/><circle cx="938.1" cy="2231.9" r="6.3"/><circle cx="916.8" cy="2236.0" r="6.3"/><circle cx="920.7" cy="2236.9" r="6.3"/><circle cx="926.1" cy="2235.8" r="6.3"/><circle cx="931.7" cy="2236.1" r="6.3"/><circle cx="936.4" cy="2236.7" r="6.3"/><circle cx="941.0" cy="2235.8" r="6.3"/><circle cx="945.4" cy="2236.2" r="6.3"/><circle cx="916.9" cy="2241.6" r="6.3"/><circle cx="921.9" cy="2240.7" r="6.3"/><circle cx="927.0" cy="2240.8" r="6.3"/><circle cx="932.5" cy="2241.4" r="6.3"/><circle cx="937.9" cy="2241.5" r="6.3"/><circle cx="915.6" cy="2245.5" r="6.3"/><circle cx="919.7" cy="2244.4" r="6.3"/><circle cx="924.5" cy="2244.9" r="6.3"/><circle cx="931.6" cy="2244.5" r="6.3"/><circle cx="935.6" cy="2245.4" r="6.3"/><circle cx="917.8" cy="2249.4" r="6.3"/><circle cx="923.3" cy="2250.1" r="6.3"/><circle cx="928.6" cy="2250.1" r="6.3"/><circle cx="932.0" cy="2250.6" r="6.3"/><circle cx="891.3" cy="2197.7" r="6.3"/><circle cx="883.8" cy="2203.1" r="6.3"/><circle cx="887.8" cy="2203.7" r="6.3"/><circle cx="881.5" cy="2206.9" r="6.3"/><circle cx="878.3" cy="2210.7" r="6.3"/><circle cx="861.4" cy="2215.8" r="6.3"/><circle cx="865.2" cy="2215.7" r="6.3"/><circle cx="870.0" cy="2216.1" r="6.3"/><circle cx="875.8" cy="2215.7" r="6.3"/><circle cx="880.6" cy="2214.6" r="6.3"/><circle cx="858.2" cy="2220.9" r="6.3"/><circle cx="863.1" cy="2219.8" r="6.3"/><circle cx="868.1" cy="2219.2" r="6.3"/><circle cx="872.0" cy="2220.1" r="6.3"/><circle cx="878.8" cy="2219.9" r="6.3"/><circle cx="882.8" cy="2219.7" r="6.3"/><circle cx="861.4" cy="2224.4" r="6.3"/><circle cx="866.4" cy="2224.1" r="6.3"/><circle cx="870.6" cy="2225.3" r="6.3"/><circle cx="875.3" cy="2224.0" r="6.3"/><circle cx="879.7" cy="2224.6" r="6.3"/><circle cx="857.0" cy="2229.3" r="6.3"/><circle cx="862.0" cy="2228.4" r="6.3"/><circle cx="868.0" cy="2228.4" r="6.3"/><circle cx="873.2" cy="2229.1" r="6.3"/><circle cx="856.4" cy="2232.6" r="6.3"/><circle cx="861.0" cy="2232.4" r="6.3"/><circle cx="866.3" cy="2232.7" r="6.3"/><circle cx="871.6" cy="2233.9" r="6.3"/><circle cx="852.3" cy="2237.4" r="6.3"/><circle cx="857.2" cy="2237.0" r="6.3"/><circle cx="862.3" cy="2237.0" r="6.3"/><circle cx="868.6" cy="2236.6" r="6.3"/><circle cx="872.8" cy="2236.4" r="6.3"/><circle cx="837.7" cy="2272.1" r="6.3"/><circle cx="841.4" cy="2291.2" r="6.3"/><circle cx="845.6" cy="2305.3" r="6.3"/><circle cx="853.3" cy="2263.2" r="6.3"/><circle cx="863.5" cy="2262.5" r="6.3"/><circle cx="871.1" cy="2257.4" r="6.3"/><circle cx="880.1" cy="2258.1" r="6.3"/><circle cx="891.5" cy="2260.6" r="6.3"/><circle cx="857.1" cy="2272.1" r="6.3"/><circle cx="871.1" cy="2274.0" r="6.3"/><circle cx="853.3" cy="2281.0" r="6.3"/><circle cx="852.0" cy="2284.8" r="6.3"/><circle cx="869.8" cy="2281.0" r="6.3"/><circle cx="884.5" cy="2276.6" r="6.3"/><circle cx="896.6" cy="2274.6" r="6.3"/><circle cx="894.7" cy="2284.8" r="6.3"/><circle cx="860.9" cy="2295.1" r="6.3"/><circle cx="876.9" cy="2293.1" r="6.3"/><circle cx="853.3" cy="2298.9" r="6.3"/><circle cx="859.6" cy="2306.5" r="6.3"/><circle cx="893.4" cy="2297.6" r="6.3"/><circle cx="891.5" cy="2302.1" r="6.3"/><circle cx="894.7" cy="2311.0" r="6.3"/><circle cx="895.0" cy="2321.8" r="6.3"/><circle cx="853.3" cy="2315.5" r="6.3"/><circle cx="853.6" cy="2319.9" r="6.3"/><circle cx="854.3" cy="2347.6" r="6.3"/><circle cx="852.4" cy="2368.1" r="6.3"/><circle cx="979.2" cy="2342.0" r="6.3"/><circle cx="981.2" cy="2363.3" r="6.3"/><circle cx="916.7" cy="2281.9" r="6.3"/><circle cx="929.2" cy="2275.9" r="6.3"/><circle cx="918.3" cy="2268.9" r="6.3"/><circle cx="929.8" cy="2267.0" r="6.3"/><circle cx="920.9" cy="2258.1" r="6.3"/><circle cx="931.1" cy="2253.0" r="6.3"/><circle cx="962.3" cy="2271.5" r="6.3"/><circle cx="963.0" cy="2266.4" r="6.3"/><circle cx="971.9" cy="2267.6" r="6.3"/><circle cx="979.5" cy="2266.7" r="6.3"/><circle cx="1716.4" cy="1852.4" r="6.3"/><circle cx="1715.9" cy="1949.1" r="6.3"/><circle cx="1805.7" cy="1964.0" r="6.3"/><circle cx="1715.1" cy="2000.1" r="6.3"/><circle cx="1715.5" cy="2002.6" r="6.3"/><circle cx="1714.2" cy="2059.1" r="6.3"/><circle cx="1805.4" cy="2058.8" r="6.3"/><circle cx="1810.5" cy="2058.1" r="6.3"/><circle cx="1804.2" cy="2065.1" r="6.3"/><circle cx="1821.4" cy="2066.4" r="6.3"/><circle cx="1806.7" cy="2074.7" r="6.3"/><circle cx="1809.3" cy="2080.4" r="6.3"/><circle cx="1730.6" cy="2087.4" r="6.3"/><circle cx="1731.5" cy="2090.0" r="6.3"/><circle cx="1732.7" cy="2100.8" r="6.3"/><circle cx="1810.9" cy="2100.5" r="6.3"/><circle cx="1763.0" cy="2106.3" r="6.3"/><circle cx="1798.4" cy="2109.1" r="6.3"/><circle cx="1822.0" cy="2111.0" r="6.3"/><circle cx="1709.5" cy="2115.5" r="6.3"/><circle cx="1804.8" cy="2117.4" r="6.3"/><circle cx="1816.3" cy="2118.1" r="6.3"/><circle cx="1825.2" cy="2116.8" r="6.3"/><circle cx="1725.1" cy="2123.8" r="6.3"/><circle cx="1731.5" cy="2122.5" r="6.3"/><circle cx="1747.4" cy="2128.5" r="6.3"/><circle cx="1765.9" cy="2128.5" r="6.3"/><circle cx="1773.5" cy="2127.0" r="6.3"/><circle cx="1808.0" cy="2132.1" r="6.3"/><circle cx="1822.7" cy="2127.0" r="6.3"/><circle cx="1823.3" cy="2132.1" r="6.3"/><circle cx="1732.1" cy="2132.1" r="6.3"/><circle cx="1718.1" cy="2133.4" r="6.3"/><circle cx="1711.7" cy="2135.9" r="6.3"/><circle cx="1723.2" cy="2137.2" r="6.3"/><circle cx="1794.6" cy="2137.2" r="6.3"/><circle cx="1802.2" cy="2135.9" r="6.3"/><circle cx="1811.2" cy="2137.2" r="6.3"/><circle cx="1823.9" cy="2137.2" r="6.3"/><circle cx="1710.4" cy="2145.5" r="6.3"/><circle cx="1720.6" cy="2143.0" r="6.3"/><circle cx="1736.6" cy="2144.9" r="6.3"/><circle cx="1715.5" cy="2137.9" r="6.3"/><circle cx="1823.9" cy="2136.6" r="6.3"/><circle cx="1824.6" cy="2144.2" r="6.3"/><circle cx="1804.8" cy="2145.5" r="6.3"/><circle cx="1801.0" cy="2141.7" r="6.3"/><circle cx="1812.4" cy="2139.1" r="6.3"/><circle cx="1821.4" cy="2150.6" r="6.3"/><circle cx="1817.6" cy="2155.7" r="6.3"/><circle cx="1835.4" cy="2156.1" r="6.3"/><circle cx="1763.3" cy="2151.2" r="6.3"/><circle cx="1774.8" cy="2150.6" r="6.3"/><circle cx="1783.8" cy="2160.2" r="6.3"/><circle cx="1771.6" cy="2158.3" r="6.3"/><circle cx="1713.6" cy="2161.5" r="6.3"/><circle cx="1725.7" cy="2162.7" r="6.3"/><circle cx="1707.2" cy="2171.7" r="6.3"/><circle cx="1717.4" cy="2172.9" r="6.3"/><circle cx="1735.9" cy="2166.6" r="6.3"/><circle cx="1752.5" cy="2167.2" r="6.3"/><circle cx="1743.6" cy="2173.6" r="6.3"/><circle cx="1794.0" cy="2171.0" r="6.3"/><circle cx="1765.3" cy="2170.4" r="6.3"/><circle cx="1770.4" cy="2173.6" r="6.3"/><circle cx="1812.4" cy="2164.6" r="6.3"/><circle cx="1826.5" cy="2170.4" r="6.3"/><circle cx="1835.4" cy="2169.1" r="6.3"/><circle cx="1843.7" cy="2167.2" r="6.3"/><circle cx="1840.5" cy="2174.8" r="6.3"/><circle cx="1711.0" cy="2186.3" r="6.3"/><circle cx="1709.1" cy="2191.4" r="6.3"/><circle cx="1711.7" cy="2196.5" r="6.3"/><circle cx="1726.4" cy="2189.5" r="6.3"/><circle cx="1735.3" cy="2198.4" r="6.3"/><circle cx="1742.3" cy="2185.7" r="6.3"/><circle cx="1751.2" cy="2179.9" r="6.3"/><circle cx="1748.7" cy="2188.9" r="6.3"/><circle cx="1784.4" cy="2179.9" r="6.3"/><circle cx="1793.3" cy="2185.1" r="6.3"/><circle cx="1803.5" cy="2176.1" r="6.3"/><circle cx="1812.4" cy="2179.9" r="6.3"/><circle cx="1820.1" cy="2176.1" r="6.3"/><circle cx="1813.7" cy="2195.3" r="6.3"/><circle cx="1807.3" cy="2187.6" r="6.3"/><circle cx="1827.8" cy="2183.8" r="6.3"/><circle cx="1843.1" cy="2185.1" r="6.3"/><circle cx="1845.6" cy="2195.9" r="6.3"/><circle cx="1834.1" cy="2191.4" r="6.3"/><circle cx="1724.4" cy="2206.1" r="6.3"/><circle cx="1720.6" cy="2211.8" r="6.3"/><circle cx="1707.2" cy="2216.9" r="6.3"/><circle cx="1720.6" cy="2219.5" r="6.3"/><circle cx="1727.0" cy="2221.4" r="6.3"/><circle cx="1748.7" cy="2203.5" r="6.3"/><circle cx="1753.8" cy="2196.5" r="6.3"/><circle cx="1759.5" cy="2211.8" r="6.3"/><circle cx="1765.3" cy="2218.2" r="6.3"/><circle cx="1769.1" cy="2201.6" r="6.3"/><circle cx="1778.0" cy="2199.1" r="6.3"/><circle cx="1769.1" cy="2188.9" r="6.3"/><circle cx="1772.9" cy="2181.2" r="6.3"/><circle cx="1811.8" cy="2208.0" r="6.3"/><circle cx="1818.8" cy="2208.6" r="6.3"/><circle cx="1846.9" cy="2204.8" r="6.3"/><circle cx="1830.3" cy="2209.3" r="6.3"/><circle cx="1835.4" cy="2216.9" r="6.3"/><circle cx="1816.3" cy="2222.0" r="6.3"/><circle cx="1831.6" cy="2224.6" r="6.3"/><circle cx="1846.2" cy="2227.8" r="6.3"/><circle cx="1848.8" cy="2222.7" r="6.3"/><circle cx="1830.9" cy="2235.4" r="6.3"/><circle cx="1802.9" cy="2223.3" r="6.3"/><circle cx="1767.8" cy="2230.3" r="6.3"/><circle cx="1755.1" cy="2228.4" r="6.3"/><circle cx="1742.9" cy="2220.8" r="6.3"/><circle cx="1748.7" cy="2222.0" r="6.3"/><circle cx="1720.0" cy="2233.5" r="6.3"/><circle cx="1718.7" cy="2239.3" r="6.3"/><circle cx="1728.9" cy="2239.3" r="6.3"/><circle cx="1723.2" cy="2251.4" r="6.3"/><circle cx="1733.4" cy="2250.1" r="6.3"/><circle cx="1728.3" cy="2259.7" r="6.3"/><circle cx="1721.9" cy="2268.6" r="6.3"/><circle cx="1727.0" cy="2268.0" r="6.3"/><circle cx="1739.7" cy="2271.8" r="6.3"/><circle cx="1745.5" cy="2264.8" r="6.3"/><circle cx="1753.8" cy="2271.1" r="6.3"/><circle cx="1762.7" cy="2276.2" r="6.3"/><circle cx="1771.6" cy="2282.0" r="6.3"/><circle cx="1771.0" cy="2262.2" r="6.3"/><circle cx="1778.6" cy="2259.0" r="6.3"/><circle cx="1777.4" cy="2250.1" r="6.3"/><circle cx="1796.5" cy="2250.7" r="6.3"/><circle cx="1797.1" cy="2260.3" r="6.3"/><circle cx="1795.9" cy="2237.3" r="6.3"/><circle cx="1851.4" cy="2240.5" r="6.3"/><circle cx="1829.7" cy="2248.8" r="6.3"/><circle cx="1839.9" cy="2247.6" r="6.3"/><circle cx="1848.2" cy="2253.3" r="6.3"/><circle cx="1846.9" cy="2264.1" r="6.3"/><circle cx="1841.1" cy="2266.7" r="6.3"/><circle cx="1850.7" cy="2273.7" r="6.3"/><circle cx="1842.4" cy="2282.0" r="6.3"/><circle cx="1828.8" cy="2281.4" r="6.3"/><circle cx="1847.5" cy="2293.5" r="6.3"/><circle cx="1851.4" cy="2297.9" r="6.3"/><circle cx="1733.4" cy="2287.1" r="6.3"/><circle cx="1734.0" cy="2294.7" r="6.3"/><circle cx="1739.1" cy="2296.7" r="6.3"/><circle cx="1755.1" cy="2290.9" r="6.3"/><circle cx="1737.2" cy="2308.8" r="6.3"/><circle cx="1716.8" cy="2329.2" r="6.3"/><circle cx="1727.6" cy="2329.8" r="6.3"/><circle cx="1761.4" cy="2392.7" r="6.3"/><circle cx="1762.1" cy="2404.7" r="6.3"/><circle cx="1787.0" cy="2186.1" r="6.3"/><circle cx="1789.4" cy="2189.8" r="6.3"/><circle cx="1792.9" cy="2190.1" r="6.3"/><circle cx="1786.6" cy="2195.3" r="6.3"/><circle cx="1791.9" cy="2194.6" r="6.3"/><circle cx="1789.1" cy="2198.5" r="6.3"/><circle cx="1794.5" cy="2199.3" r="6.3"/><circle cx="1797.9" cy="2199.3" r="6.3"/><circle cx="1787.5" cy="2203.7" r="6.3"/><circle cx="1791.3" cy="2202.3" r="6.3"/><circle cx="1795.6" cy="2202.8" r="6.3"/><circle cx="1783.2" cy="2207.6" r="6.3"/><circle cx="1788.3" cy="2206.6" r="6.3"/><circle cx="1794.8" cy="2207.5" r="6.3"/><circle cx="1776.8" cy="2212.2" r="6.3"/><circle cx="1780.6" cy="2212.7" r="6.3"/><circle cx="1785.7" cy="2212.0" r="6.3"/><circle cx="1790.7" cy="2212.5" r="6.3"/><circle cx="1796.4" cy="2212.7" r="6.3"/><circle cx="1774.9" cy="2215.4" r="6.3"/><circle cx="1777.9" cy="2216.1" r="6.3"/><circle cx="1784.0" cy="2215.3" r="6.3"/><circle cx="1789.0" cy="2216.3" r="6.3"/><circle cx="1793.2" cy="2215.7" r="6.3"/><circle cx="1775.4" cy="2221.3" r="6.3"/><circle cx="1781.7" cy="2221.8" r="6.3"/><circle cx="1787.2" cy="2221.2" r="6.3"/><circle cx="1791.0" cy="2220.2" r="6.3"/><circle cx="1797.5" cy="2220.8" r="6.3"/><circle cx="1774.4" cy="2224.4" r="6.3"/><circle cx="1779.9" cy="2225.9" r="6.3"/><circle cx="1782.9" cy="2225.2" r="6.3"/><circle cx="1789.7" cy="2226.0" r="6.3"/><circle cx="1777.0" cy="2230.0" r="6.3"/><circle cx="1782.4" cy="2230.0" r="6.3"/><circle cx="1785.3" cy="2230.1" r="6.3"/><circle cx="1778.6" cy="2234.1" r="6.3"/><circle cx="1783.6" cy="2233.3" r="6.3"/><circle cx="1780.4" cy="2237.6" r="6.3"/><circle cx="1785.3" cy="2238.8" r="6.3"/><circle cx="1778.0" cy="2242.6" r="6.3"/><circle cx="1784.2" cy="2241.2" r="6.3"/><circle cx="1744.3" cy="2224.6" r="6.3"/><circle cx="1741.3" cy="2228.2" r="6.3"/><circle cx="1746.4" cy="2229.6" r="6.3"/><circle cx="1749.1" cy="2231.9" r="6.3"/><circle cx="1747.4" cy="2237.4" r="6.3"/><circle cx="1752.4" cy="2238.2" r="6.3"/><circle cx="1749.2" cy="2241.7" r="6.3"/><circle cx="1754.2" cy="2240.6" r="6.3"/><circle cx="1746.9" cy="2245.5" r="6.3"/><circle cx="1753.3" cy="2245.0" r="6.3"/><circle cx="1757.0" cy="2246.5" r="6.3"/><circle cx="1750.2" cy="2249.9" r="6.3"/><circle cx="1754.8" cy="2249.6" r="6.3"/><circle cx="1758.5" cy="2250.0" r="6.3"/><circle cx="1751.0" cy="2255.3" r="6.3"/><circle cx="1756.7" cy="2255.7" r="6.3"/><circle cx="1754.3" cy="2258.8" r="6.3"/><circle cx="1833.6" cy="2185.7" r="6.3"/><circle cx="1838.9" cy="2186.2" r="6.3"/><circle cx="1836.3" cy="2190.0" r="6.3"/><circle cx="1840.4" cy="2190.7" r="6.3"/><circle cx="1833.0" cy="2195.7" r="6.3"/><circle cx="1837.9" cy="2195.2" r="6.3"/><circle cx="1843.6" cy="2194.2" r="6.3"/><circle cx="1830.6" cy="2200.0" r="6.3"/><circle cx="1834.3" cy="2199.1" r="6.3"/><circle cx="1840.5" cy="2198.7" r="6.3"/><circle cx="1832.8" cy="2202.9" r="6.3"/><circle cx="1838.7" cy="2204.5" r="6.3"/><circle cx="1842.5" cy="2203.6" r="6.3"/><circle cx="1831.1" cy="2208.2" r="6.3"/><circle cx="1835.5" cy="2207.1" r="6.3"/><circle cx="1832.5" cy="2212.7" r="6.3"/><circle cx="1806.7" cy="2177.5" r="6.3"/><circle cx="1810.9" cy="2176.1" r="6.3"/><circle cx="1816.7" cy="2177.3" r="6.3"/><circle cx="1739.1" cy="2435.9" r="6.3"/><circle cx="1738.1" cy="2465.2" r="6.3"/><circle cx="904.7" cy="2169.0" r="6.3"/><circle cx="908.6" cy="2170.7" r="6.3"/><circle cx="902.4" cy="2174.0" r="6.3"/><circle cx="906.8" cy="2175.1" r="6.3"/><circle cx="912.5" cy="2174.6" r="6.3"/><circle cx="904.9" cy="2178.2" r="6.3"/><circle cx="910.1" cy="2179.4" r="6.3"/><circle cx="914.5" cy="2180.0" r="6.3"/><circle cx="902.3" cy="2183.5" r="6.3"/><circle cx="903.2" cy="2187.9" r="6.3"/><circle cx="950.2" cy="2165.6" r="6.3"/><circle cx="954.7" cy="2168.4" r="6.3"/><circle cx="958.6" cy="2168.4" r="6.3"/><circle cx="842.4" cy="2185.9" r="6.3"/><circle cx="847.4" cy="2185.3" r="6.3"/><circle cx="839.3" cy="2189.0" r="6.3"/><circle cx="844.6" cy="2188.7" r="6.3"/><circle cx="842.8" cy="2194.4" r="6.3"/><circle cx="847.1" cy="2194.9" r="6.3"/><circle cx="839.8" cy="2198.3" r="6.3"/><circle cx="844.7" cy="2198.4" r="6.3"/><circle cx="849.2" cy="2197.4" r="6.3"/><circle cx="839.1" cy="2202.2" r="6.3"/><circle cx="843.9" cy="2202.5" r="6.3"/><circle cx="840.6" cy="2208.3" r="6.3"/><circle cx="977.0" cy="2179.3" r="6.3"/><circle cx="1772.7" cy="2183.8" r="6.3"/><circle cx="1773.0" cy="2191.6" r="6.3"/><circle cx="1783.0" cy="2184.3" r="6.3"/><circle cx="1791.0" cy="2190.1" r="6.3"/><circle cx="1773.7" cy="2199.2" r="6.3"/><circle cx="1778.3" cy="2195.0" r="6.3"/><circle cx="1786.5" cy="2192.9" r="6.3"/><circle cx="1797.3" cy="2195.6" r="6.3"/><circle cx="1765.0" cy="2201.2" r="6.3"/><circle cx="1774.4" cy="2203.8" r="6.3"/><circle cx="1785.6" cy="2202.3" r="6.3"/><circle cx="1797.0" cy="2202.4" r="6.3"/><circle cx="1801.2" cy="2202.0" r="6.3"/><circle cx="1765.2" cy="2211.7" r="6.3"/><circle cx="1768.3" cy="2214.3" r="6.3"/><circle cx="1783.1" cy="2207.8" r="6.3"/><circle cx="1786.6" cy="2212.3" r="6.3"/><circle cx="1797.2" cy="2213.5" r="6.3"/><circle cx="1777.7" cy="2219.6" r="6.3"/><circle cx="1784.0" cy="2221.0" r="6.3"/><circle cx="1790.9" cy="2221.2" r="6.3"/><circle cx="1772.2" cy="2225.4" r="6.3"/><circle cx="1784.2" cy="2229.2" r="6.3"/><circle cx="1786.0" cy="2230.0" r="6.3"/><circle cx="1778.3" cy="2232.1" r="6.3"/><circle cx="1783.2" cy="2237.5" r="6.3"/><circle cx="1794.8" cy="2236.9" r="6.3"/><circle cx="1777.6" cy="2242.7" r="6.3"/><circle cx="1747.3" cy="2184.7" r="6.3"/><circle cx="1745.3" cy="2231.1" r="6.3"/><circle cx="1751.2" cy="2229.2" r="6.3"/><circle cx="1750.5" cy="2240.1" r="6.3"/><circle cx="1758.6" cy="2240.8" r="6.3"/><circle cx="1751.8" cy="2246.8" r="6.3"/><circle cx="1749.4" cy="2251.1" r="6.3"/><circle cx="1756.3" cy="2251.0" r="6.3"/><circle cx="1749.6" cy="2258.9" r="6.3"/><circle cx="1754.7" cy="2266.5" r="6.3"/><circle cx="1815.3" cy="2171.8" r="6.3"/><circle cx="1811.5" cy="2177.5" r="6.3"/><circle cx="1817.2" cy="2179.8" r="6.3"/><circle cx="1822.8" cy="2175.9" r="6.3"/><circle cx="1836.1" cy="2177.2" r="6.3"/><circle cx="1840.6" cy="2173.0" r="6.3"/><circle cx="1818.7" cy="2184.5" r="6.3"/><circle cx="1829.3" cy="2185.1" r="6.3"/><circle cx="1812.0" cy="2188.1" r="6.3"/><circle cx="1819.4" cy="2194.6" r="6.3"/><circle cx="1826.1" cy="2192.5" r="6.3"/><circle cx="1833.0" cy="2191.0" r="6.3"/><circle cx="1821.9" cy="2201.3" r="6.3"/><circle cx="1828.0" cy="2203.1" r="6.3"/><circle cx="1837.3" cy="2198.2" r="6.3"/><circle cx="1846.7" cy="2199.3" r="6.3"/><circle cx="1825.7" cy="2205.7" r="6.3"/><circle cx="1832.3" cy="2209.3" r="6.3"/><circle cx="1837.0" cy="2211.2" r="6.3"/><circle cx="886.4" cy="2249.1" r="6.3"/><circle cx="891.5" cy="2244.0" r="6.3"/><circle cx="868.6" cy="2244.0" r="6.3"/><circle cx="846.9" cy="2247.9" r="6.3"/><circle cx="849.4" cy="2255.5" r="6.3"/><circle cx="863.8" cy="2261.0" r="6.3"/><circle cx="869.8" cy="2259.0" r="6.3"/><circle cx="858.7" cy="2264.7" r="6.3"/><circle cx="870.1" cy="2264.2" r="6.3"/><circle cx="876.1" cy="2266.0" r="6.3"/><circle cx="881.5" cy="2265.4" r="6.3"/><circle cx="889.8" cy="2266.1" r="6.3"/><circle cx="855.8" cy="2271.5" r="6.3"/><circle cx="863.1" cy="2268.9" r="6.3"/><circle cx="872.4" cy="2268.8" r="6.3"/><circle cx="879.4" cy="2271.6" r="6.3"/><circle cx="885.7" cy="2269.2" r="6.3"/><circle cx="895.2" cy="2270.0" r="6.3"/><circle cx="860.3" cy="2276.6" r="6.3"/><circle cx="869.5" cy="2280.1" r="6.3"/><circle cx="875.0" cy="2277.3" r="6.3"/><circle cx="881.2" cy="2277.6" r="6.3"/><circle cx="887.8" cy="2278.9" r="6.3"/><circle cx="896.7" cy="2279.9" r="6.3"/><circle cx="859.2" cy="2283.8" r="6.3"/><circle cx="866.1" cy="2282.0" r="6.3"/><circle cx="874.5" cy="2283.8" r="6.3"/><circle cx="879.7" cy="2284.4" r="6.3"/><circle cx="855.6" cy="2291.8" r="6.3"/><circle cx="858.2" cy="2290.1" r="6.3"/><circle cx="874.5" cy="2288.2" r="6.3"/></g>
<path class="k" d="M233.8 1837.7v-7.3M233.8 2480.3v7.3M245.9 1837.7v-7.3M245.9 2480.3v7.3M258.0 1837.7v-16.5M258.0 2480.3v16.5M270.1 1837.7v-7.3M270.1 2480.3v7.3M282.2 1837.7v-7.3M282.2 2480.3v7.3M294.2 1837.7v-16.5M294.2 2480.3v16.5M306.3 1837.7v-7.3M306.3 2480.3v7.3M318.4 1837.7v-7.3M318.4 2480.3v7.3M330.5 1837.7v-16.5M330.5 2480.3v16.5M342.5 1837.7v-7.3M342.5 2480.3v7.3M354.6 1837.7v-7.3M354.6 2480.3v7.3M366.7 1837.7v-16.5M366.7 2480.3v16.5M378.8 1837.7v-7.3M378.8 2480.3v7.3M390.9 1837.7v-7.3M390.9 2480.3v7.3M402.9 1837.7v-16.5M402.9 2480.3v16.5M415.0 1837.7v-7.3M415.0 2480.3v7.3M427.1 1837.7v-7.3M427.1 2480.3v7.3M439.2 1837.7v-16.5M439.2 2480.3v16.5M451.2 1837.7v-7.3M451.2 2480.3v7.3M463.3 1837.7v-7.3M463.3 2480.3v7.3M475.4 1837.7v-16.5M475.4 2480.3v16.5M487.5 1837.7v-7.3M487.5 2480.3v7.3M499.6 1837.7v-7.3M499.6 2480.3v7.3M511.6 1837.7v-16.5M511.6 2480.3v16.5M523.7 1837.7v-7.3M523.7 2480.3v7.3M535.8 1837.7v-7.3M535.8 2480.3v7.3M547.9 1837.7v-16.5M547.9 2480.3v16.5M560.0 1837.7v-7.3M560.0 2480.3v7.3M572.0 1837.7v-7.3M572.0 2480.3v7.3M584.1 1837.7v-16.5M584.1 2480.3v16.5M596.2 1837.7v-7.3M596.2 2480.3v7.3M608.3 1837.7v-7.3M608.3 2480.3v7.3M620.3 1837.7v-16.5M620.3 2480.3v16.5M632.4 1837.7v-7.3M632.4 2480.3v7.3M644.5 1837.7v-7.3M644.5 2480.3v7.3M656.6 1837.7v-16.5M656.6 2480.3v16.5M668.7 1837.7v-7.3M668.7 2480.3v7.3M680.7 1837.7v-7.3M680.7 2480.3v7.3M692.8 1837.7v-16.5M692.8 2480.3v16.5M704.9 1837.7v-7.3M704.9 2480.3v7.3M717.0 1837.7v-7.3M717.0 2480.3v7.3M729.0 1837.7v-16.5M729.0 2480.3v16.5M741.1 1837.7v-7.3M741.1 2480.3v7.3M753.2 1837.7v-7.3M753.2 2480.3v7.3M765.3 1837.7v-16.5M765.3 2480.3v16.5M777.4 1837.7v-7.3M777.4 2480.3v7.3M789.4 1837.7v-7.3M789.4 2480.3v7.3M801.5 1837.7v-16.5M801.5 2480.3v16.5M813.6 1837.7v-7.3M813.6 2480.3v7.3M825.7 1837.7v-7.3M825.7 2480.3v7.3M837.7 1837.7v-16.5M837.7 2480.3v16.5M849.8 1837.7v-7.3M849.8 2480.3v7.3M861.9 1837.7v-7.3M861.9 2480.3v7.3M874.0 1837.7v-16.5M874.0 2480.3v16.5M886.1 1837.7v-7.3M886.1 2480.3v7.3M898.1 1837.7v-7.3M898.1 2480.3v7.3M910.2 1837.7v-16.5M910.2 2480.3v16.5M922.3 1837.7v-7.3M922.3 2480.3v7.3M934.4 1837.7v-7.3M934.4 2480.3v7.3M946.4 1837.7v-16.5M946.4 2480.3v16.5M958.5 1837.7v-7.3M958.5 2480.3v7.3M970.6 1837.7v-7.3M970.6 2480.3v7.3M982.7 1837.7v-16.5M982.7 2480.3v16.5M994.8 1837.7v-7.3M994.8 2480.3v7.3M1006.8 1837.7v-7.3M1006.8 2480.3v7.3M1018.9 1837.7v-16.5M1018.9 2480.3v16.5M1031.0 1837.7v-7.3M1031.0 2480.3v7.3M1043.1 1837.7v-7.3M1043.1 2480.3v7.3M1055.1 1837.7v-16.5M1055.1 2480.3v16.5M1067.2 1837.7v-7.3M1067.2 2480.3v7.3M1079.3 1837.7v-7.3M1079.3 2480.3v7.3M1091.4 1837.7v-16.5M1091.4 2480.3v16.5M1103.5 1837.7v-7.3M1103.5 2480.3v7.3M1115.5 1837.7v-7.3M1115.5 2480.3v7.3M1127.6 1837.7v-16.5M1127.6 2480.3v16.5M1139.7 1837.7v-7.3M1139.7 2480.3v7.3M1151.8 1837.7v-7.3M1151.8 2480.3v7.3M1163.8 1837.7v-16.5M1163.8 2480.3v16.5M1175.9 1837.7v-7.3M1175.9 2480.3v7.3M1188.0 1837.7v-7.3M1188.0 2480.3v7.3M1200.1 1837.7v-16.5M1200.1 2480.3v16.5M1212.2 1837.7v-7.3M1212.2 2480.3v7.3M1224.2 1837.7v-7.3M1224.2 2480.3v7.3M1236.3 1837.7v-16.5M1236.3 2480.3v16.5M1248.4 1837.7v-7.3M1248.4 2480.3v7.3M1260.5 1837.7v-7.3M1260.5 2480.3v7.3M1272.6 1837.7v-16.5M1272.6 2480.3v16.5M1284.6 1837.7v-7.3M1284.6 2480.3v7.3M1296.7 1837.7v-7.3M1296.7 2480.3v7.3M1308.8 1837.7v-16.5M1308.8 2480.3v16.5M1320.9 1837.7v-7.3M1320.9 2480.3v7.3M1332.9 1837.7v-7.3M1332.9 2480.3v7.3M1345.0 1837.7v-16.5M1345.0 2480.3v16.5M1357.1 1837.7v-7.3M1357.1 2480.3v7.3M1369.2 1837.7v-7.3M1369.2 2480.3v7.3M1381.3 1837.7v-16.5M1381.3 2480.3v16.5M1393.3 1837.7v-7.3M1393.3 2480.3v7.3M1405.4 1837.7v-7.3M1405.4 2480.3v7.3M1417.5 1837.7v-16.5M1417.5 2480.3v16.5M1429.6 1837.7v-7.3M1429.6 2480.3v7.3M1441.6 1837.7v-7.3M1441.6 2480.3v7.3M1453.7 1837.7v-16.5M1453.7 2480.3v16.5M1465.8 1837.7v-7.3M1465.8 2480.3v7.3M1477.9 1837.7v-7.3M1477.9 2480.3v7.3M1490.0 1837.7v-16.5M1490.0 2480.3v16.5M1502.0 1837.7v-7.3M1502.0 2480.3v7.3M1514.1 1837.7v-7.3M1514.1 2480.3v7.3M1526.2 1837.7v-16.5M1526.2 2480.3v16.5M1538.3 1837.7v-7.3M1538.3 2480.3v7.3M1550.3 1837.7v-7.3M1550.3 2480.3v7.3M1562.4 1837.7v-16.5M1562.4 2480.3v16.5M1574.5 1837.7v-7.3M1574.5 2480.3v7.3M1586.6 1837.7v-7.3M1586.6 2480.3v7.3M1598.7 1837.7v-16.5M1598.7 2480.3v16.5M1610.7 1837.7v-7.3M1610.7 2480.3v7.3M1622.8 1837.7v-7.3M1622.8 2480.3v7.3M1634.9 1837.7v-16.5M1634.9 2480.3v16.5M1647.0 1837.7v-7.3M1647.0 2480.3v7.3M1659.0 1837.7v-7.3M1659.0 2480.3v7.3M1671.1 1837.7v-16.5M1671.1 2480.3v16.5M1683.2 1837.7v-7.3M1683.2 2480.3v7.3M1695.3 1837.7v-7.3M1695.3 2480.3v7.3M1707.4 1837.7v-16.5M1707.4 2480.3v16.5M1719.4 1837.7v-7.3M1719.4 2480.3v7.3M1731.5 1837.7v-7.3M1731.5 2480.3v7.3M1743.6 1837.7v-16.5M1743.6 2480.3v16.5M1755.7 1837.7v-7.3M1755.7 2480.3v7.3M1767.8 1837.7v-7.3M1767.8 2480.3v7.3M1779.8 1837.7v-16.5M1779.8 2480.3v16.5M1791.9 1837.7v-7.3M1791.9 2480.3v7.3M1804.0 1837.7v-7.3M1804.0 2480.3v7.3M1816.1 1837.7v-16.5M1816.1 2480.3v16.5M1828.1 1837.7v-7.3M1828.1 2480.3v7.3M1840.2 1837.7v-7.3M1840.2 2480.3v7.3M1852.3 1837.7v-16.5M1852.3 2480.3v16.5M1864.4 1837.7v-7.3M1864.4 2480.3v7.3M1876.5 1837.7v-7.3M1876.5 2480.3v7.3M223.5 1970.1h-16.5M1886.0 1970.1h16.5M223.5 2105.2h-16.5M1886.0 2105.2h16.5M223.5 2240.4h-16.5M1886.0 2240.4h16.5M223.5 2375.6h-16.5M1886.0 2375.6h16.5"/>
<rect class="f" x="226.0" y="1840.2" width="1657.5" height="637.6"/>
<text class="a" text-anchor="end" transform="translate(190.6 1986.3) scale(1 1.07)">160</text>
<text class="a" text-anchor="end" transform="translate(190.6 2121.4) scale(1 1.07)">80</text>
<text class="a" text-anchor="end" transform="translate(190.6 2256.6) scale(1 1.07)">0</text>
<text class="a" text-anchor="end" transform="translate(190.6 2391.8) scale(1 1.07)"><tspan dy="5.0">−</tspan><tspan dy="-5.0">80</tspan></text>
<text class="a" text-anchor="middle" transform="translate(258.0 2544.7) scale(1 1.07)">0</text>
<text class="a" text-anchor="middle" transform="translate(294.2 2544.7) scale(1 1.07)">6</text>
<text class="a" text-anchor="middle" transform="translate(330.5 2544.7) scale(1 1.07)">12</text>
<text class="a" text-anchor="middle" transform="translate(366.7 2544.7) scale(1 1.07)">18</text>
<text class="a" text-anchor="middle" transform="translate(402.9 2544.7) scale(1 1.07)">24</text>
<text class="a" text-anchor="middle" transform="translate(439.2 2544.7) scale(1 1.07)">30</text>
<text class="a" text-anchor="middle" transform="translate(475.4 2544.7) scale(1 1.07)">36</text>
<text class="a" text-anchor="middle" transform="translate(511.6 2544.7) scale(1 1.07)">42</text>
<text class="a" text-anchor="middle" transform="translate(547.9 2544.7) scale(1 1.07)">48</text>
<text class="a" text-anchor="middle" transform="translate(584.1 2544.7) scale(1 1.07)">54</text>
<text class="a" text-anchor="middle" transform="translate(620.3 2544.7) scale(1 1.07)">60</text>
<text class="a" text-anchor="middle" transform="translate(656.6 2544.7) scale(1 1.07)">66</text>
<text class="a" text-anchor="middle" transform="translate(692.8 2544.7) scale(1 1.07)">72</text>
<text class="a" text-anchor="middle" transform="translate(729.0 2544.7) scale(1 1.07)">78</text>
<text class="a" text-anchor="middle" transform="translate(765.3 2544.7) scale(1 1.07)">84</text>
<text class="a" text-anchor="middle" transform="translate(801.5 2544.7) scale(1 1.07)">90</text>
<text class="a" text-anchor="middle" transform="translate(837.7 2544.7) scale(1 1.07)">96</text>
<text class="a" text-anchor="middle" transform="translate(874.0 2544.7) scale(1 1.07)">102</text>
<text class="a" text-anchor="middle" transform="translate(910.2 2544.7) scale(1 1.07)">108</text>
<text class="a" text-anchor="middle" transform="translate(946.4 2544.7) scale(1 1.07)">114</text>
<text class="a" text-anchor="middle" transform="translate(982.7 2544.7) scale(1 1.07)">120</text>
<text class="a" text-anchor="middle" transform="translate(1018.9 2544.7) scale(1 1.07)">126</text>
<text class="a" text-anchor="middle" transform="translate(1055.1 2544.7) scale(1 1.07)">132</text>
<text class="a" text-anchor="middle" transform="translate(1091.4 2544.7) scale(1 1.07)">138</text>
<text class="a" text-anchor="middle" transform="translate(1127.6 2544.7) scale(1 1.07)">144</text>
<text class="a" text-anchor="middle" transform="translate(1163.8 2544.7) scale(1 1.07)">150</text>
<text class="a" text-anchor="middle" transform="translate(1200.1 2544.7) scale(1 1.07)">156</text>
<text class="a" text-anchor="middle" transform="translate(1236.3 2544.7) scale(1 1.07)">162</text>
<text class="a" text-anchor="middle" transform="translate(1272.6 2544.7) scale(1 1.07)">168</text>
<text class="a" text-anchor="middle" transform="translate(1308.8 2544.7) scale(1 1.07)">174</text>
<text class="a" text-anchor="middle" transform="translate(1345.0 2544.7) scale(1 1.07)">180</text>
<text class="a" text-anchor="middle" transform="translate(1381.3 2544.7) scale(1 1.07)">186</text>
<text class="a" text-anchor="middle" transform="translate(1417.5 2544.7) scale(1 1.07)">192</text>
<text class="a" text-anchor="middle" transform="translate(1453.7 2544.7) scale(1 1.07)">198</text>
<text class="a" text-anchor="middle" transform="translate(1490.0 2544.7) scale(1 1.07)">204</text>
<text class="a" text-anchor="middle" transform="translate(1526.2 2544.7) scale(1 1.07)">210</text>
<text class="a" text-anchor="middle" transform="translate(1562.4 2544.7) scale(1 1.07)">216</text>
<text class="a" text-anchor="middle" transform="translate(1598.7 2544.7) scale(1 1.07)">222</text>
<text class="a" text-anchor="middle" transform="translate(1634.9 2544.7) scale(1 1.07)">228</text>
<text class="a" text-anchor="middle" transform="translate(1671.1 2544.7) scale(1 1.07)">234</text>
<text class="a" text-anchor="middle" transform="translate(1707.4 2544.7) scale(1 1.07)">240</text>
<text class="a" text-anchor="middle" transform="translate(1743.6 2544.7) scale(1 1.07)">246</text>
<text class="a" text-anchor="middle" transform="translate(1779.8 2544.7) scale(1 1.07)">252</text>
<text class="a" text-anchor="middle" transform="translate(1816.1 2544.7) scale(1 1.07)">258</text>
<text class="a" text-anchor="middle" transform="translate(1852.3 2544.7) scale(1 1.07)">264</text>
<text class="l" text-anchor="middle" transform="translate(90.1 2159.0) rotate(-90) scale(1 1.06)">Up (mm)</text>
<text class="l" style="font-size:42.57px" text-anchor="middle" transform="translate(1054.3 2603.1) scale(1 1.07)">Time (hours since beginning of first day UTC)</text>
<rect class="f" x="226.0" y="2707.0" width="1657.5" height="153.0"/>
<text class="a" style="font-size:42.55px" text-anchor="middle" transform="translate(1054.8 2745.6) scale(1 1.07)">Processed Using JPL Rapid Orbits</text>
<text class="a" style="font-size:42.8px" text-anchor="middle" transform="translate(1054.5 2786.4) scale(1 1.07)">by the Nevada Geodetic Laboratory.</text>
<text class="a" style="font-size:42.75px" text-anchor="middle" transform="translate(1054.8 2827.2) scale(1 1.07)">Plotted on 2026-Jan-11.</text>
</svg></body></html>
